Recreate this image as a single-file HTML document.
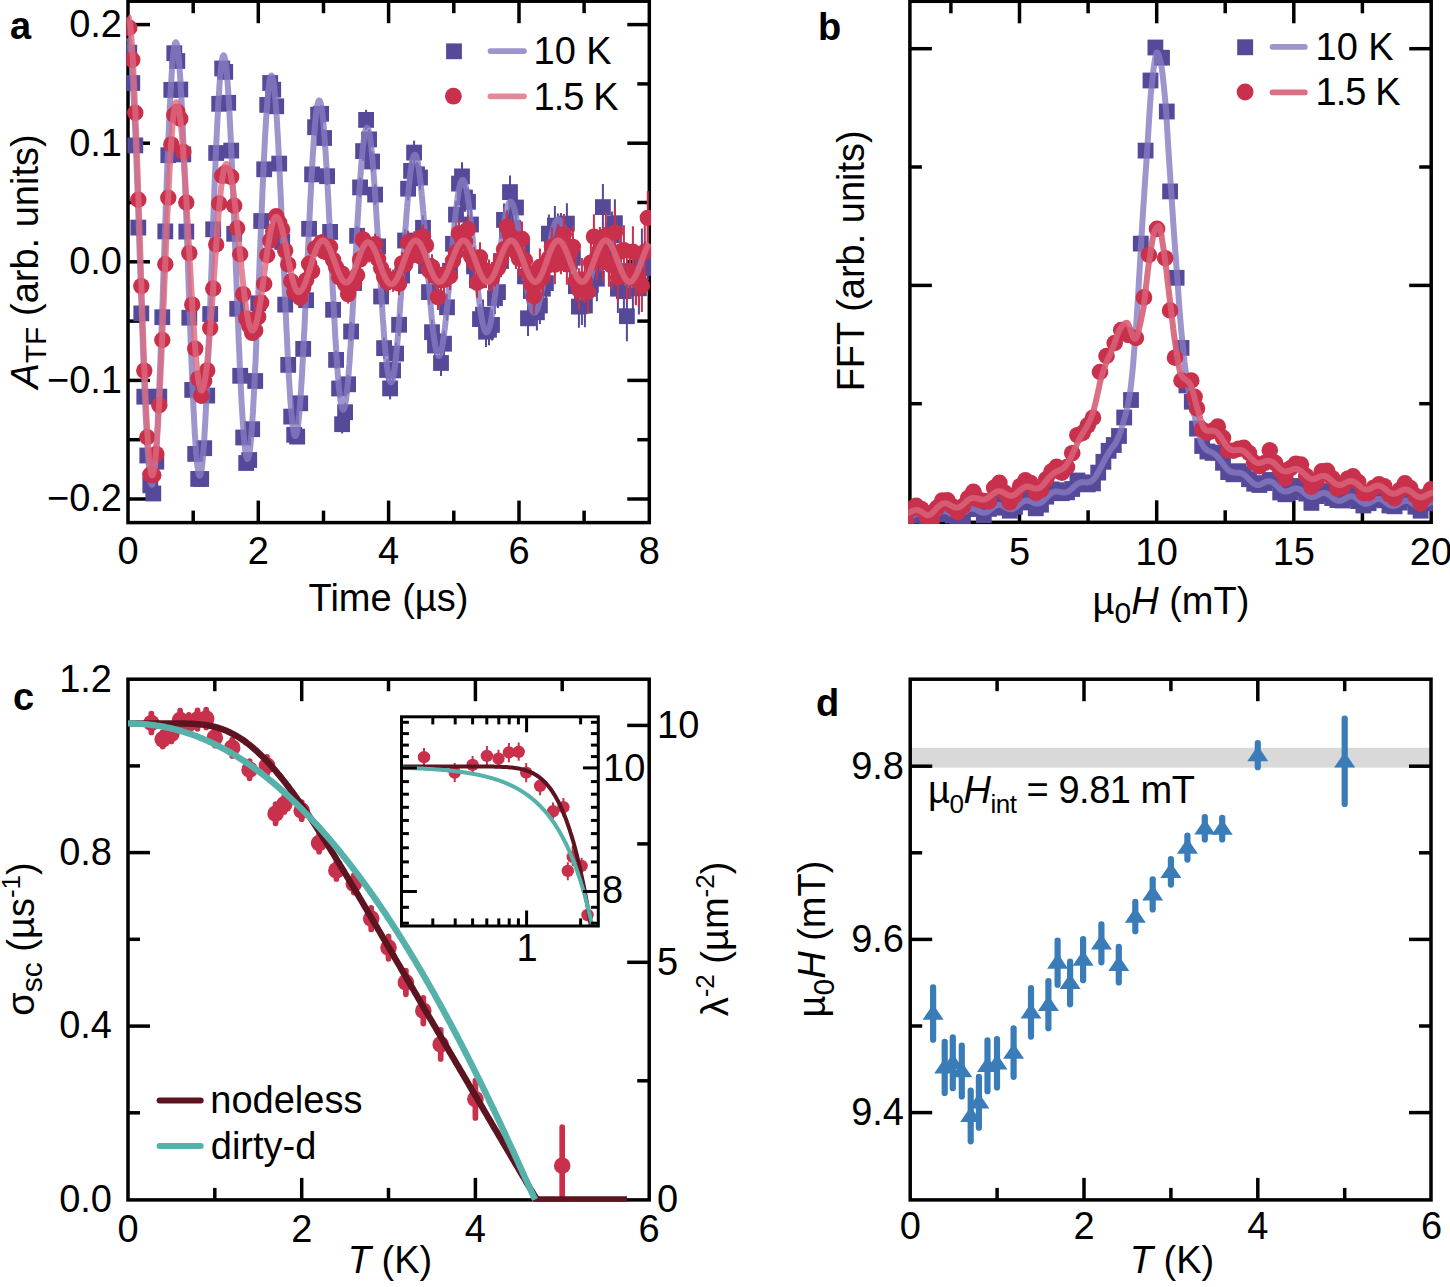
<!DOCTYPE html><html><head><meta charset="utf-8"><style>html,body{margin:0;padding:0;background:#fff;overflow:hidden}svg{display:block}</style></head><body>
<svg width="1450" height="1287" viewBox="0 0 1450 1287" style="font-family:'Liberation Sans',sans-serif">
<rect width="1450" height="1287" fill="#fff"/>
<rect x="910.2" y="747.8" width="521" height="19.8" fill="#d9d9d9"/>
<rect x="128.0" y="1.2" width="521.3" height="521.4" fill="none" stroke="#000" stroke-width="3.5"/>
<line x1="258.3" y1="522.6" x2="258.3" y2="500.6" stroke="#000" stroke-width="3.5" stroke-linecap="butt"/>
<line x1="258.3" y1="1.2" x2="258.3" y2="23.2" stroke="#000" stroke-width="3.5" stroke-linecap="butt"/>
<line x1="388.6" y1="522.6" x2="388.6" y2="500.6" stroke="#000" stroke-width="3.5" stroke-linecap="butt"/>
<line x1="388.6" y1="1.2" x2="388.6" y2="23.2" stroke="#000" stroke-width="3.5" stroke-linecap="butt"/>
<line x1="519.0" y1="522.6" x2="519.0" y2="500.6" stroke="#000" stroke-width="3.5" stroke-linecap="butt"/>
<line x1="519.0" y1="1.2" x2="519.0" y2="23.2" stroke="#000" stroke-width="3.5" stroke-linecap="butt"/>
<line x1="193.2" y1="522.6" x2="193.2" y2="510.6" stroke="#000" stroke-width="3.5" stroke-linecap="butt"/>
<line x1="193.2" y1="1.2" x2="193.2" y2="13.2" stroke="#000" stroke-width="3.5" stroke-linecap="butt"/>
<line x1="323.5" y1="522.6" x2="323.5" y2="510.6" stroke="#000" stroke-width="3.5" stroke-linecap="butt"/>
<line x1="323.5" y1="1.2" x2="323.5" y2="13.2" stroke="#000" stroke-width="3.5" stroke-linecap="butt"/>
<line x1="453.8" y1="522.6" x2="453.8" y2="510.6" stroke="#000" stroke-width="3.5" stroke-linecap="butt"/>
<line x1="453.8" y1="1.2" x2="453.8" y2="13.2" stroke="#000" stroke-width="3.5" stroke-linecap="butt"/>
<line x1="584.1" y1="522.6" x2="584.1" y2="510.6" stroke="#000" stroke-width="3.5" stroke-linecap="butt"/>
<line x1="584.1" y1="1.2" x2="584.1" y2="13.2" stroke="#000" stroke-width="3.5" stroke-linecap="butt"/>
<line x1="128.0" y1="499.0" x2="150.0" y2="499.0" stroke="#000" stroke-width="3.5" stroke-linecap="butt"/>
<line x1="649.3" y1="499.0" x2="627.3" y2="499.0" stroke="#000" stroke-width="3.5" stroke-linecap="butt"/>
<line x1="128.0" y1="380.4" x2="150.0" y2="380.4" stroke="#000" stroke-width="3.5" stroke-linecap="butt"/>
<line x1="649.3" y1="380.4" x2="627.3" y2="380.4" stroke="#000" stroke-width="3.5" stroke-linecap="butt"/>
<line x1="128.0" y1="261.8" x2="150.0" y2="261.8" stroke="#000" stroke-width="3.5" stroke-linecap="butt"/>
<line x1="649.3" y1="261.8" x2="627.3" y2="261.8" stroke="#000" stroke-width="3.5" stroke-linecap="butt"/>
<line x1="128.0" y1="143.2" x2="150.0" y2="143.2" stroke="#000" stroke-width="3.5" stroke-linecap="butt"/>
<line x1="649.3" y1="143.2" x2="627.3" y2="143.2" stroke="#000" stroke-width="3.5" stroke-linecap="butt"/>
<line x1="128.0" y1="24.6" x2="150.0" y2="24.6" stroke="#000" stroke-width="3.5" stroke-linecap="butt"/>
<line x1="649.3" y1="24.6" x2="627.3" y2="24.6" stroke="#000" stroke-width="3.5" stroke-linecap="butt"/>
<line x1="128.0" y1="439.7" x2="140.0" y2="439.7" stroke="#000" stroke-width="3.5" stroke-linecap="butt"/>
<line x1="649.3" y1="439.7" x2="637.3" y2="439.7" stroke="#000" stroke-width="3.5" stroke-linecap="butt"/>
<line x1="128.0" y1="321.1" x2="140.0" y2="321.1" stroke="#000" stroke-width="3.5" stroke-linecap="butt"/>
<line x1="649.3" y1="321.1" x2="637.3" y2="321.1" stroke="#000" stroke-width="3.5" stroke-linecap="butt"/>
<line x1="128.0" y1="202.5" x2="140.0" y2="202.5" stroke="#000" stroke-width="3.5" stroke-linecap="butt"/>
<line x1="649.3" y1="202.5" x2="637.3" y2="202.5" stroke="#000" stroke-width="3.5" stroke-linecap="butt"/>
<line x1="128.0" y1="83.9" x2="140.0" y2="83.9" stroke="#000" stroke-width="3.5" stroke-linecap="butt"/>
<line x1="649.3" y1="83.9" x2="637.3" y2="83.9" stroke="#000" stroke-width="3.5" stroke-linecap="butt"/>
<rect x="909.9" y="1.3" width="521.3" height="521.0" fill="none" stroke="#000" stroke-width="3.5"/>
<line x1="1019.5" y1="522.3" x2="1019.5" y2="500.3" stroke="#000" stroke-width="3.5" stroke-linecap="butt"/>
<line x1="1019.5" y1="1.3" x2="1019.5" y2="23.3" stroke="#000" stroke-width="3.5" stroke-linecap="butt"/>
<line x1="1156.7" y1="522.3" x2="1156.7" y2="500.3" stroke="#000" stroke-width="3.5" stroke-linecap="butt"/>
<line x1="1156.7" y1="1.3" x2="1156.7" y2="23.3" stroke="#000" stroke-width="3.5" stroke-linecap="butt"/>
<line x1="1293.8" y1="522.3" x2="1293.8" y2="500.3" stroke="#000" stroke-width="3.5" stroke-linecap="butt"/>
<line x1="1293.8" y1="1.3" x2="1293.8" y2="23.3" stroke="#000" stroke-width="3.5" stroke-linecap="butt"/>
<line x1="950.9" y1="522.3" x2="950.9" y2="510.3" stroke="#000" stroke-width="3.5" stroke-linecap="butt"/>
<line x1="950.9" y1="1.3" x2="950.9" y2="13.3" stroke="#000" stroke-width="3.5" stroke-linecap="butt"/>
<line x1="1088.1" y1="522.3" x2="1088.1" y2="510.3" stroke="#000" stroke-width="3.5" stroke-linecap="butt"/>
<line x1="1088.1" y1="1.3" x2="1088.1" y2="13.3" stroke="#000" stroke-width="3.5" stroke-linecap="butt"/>
<line x1="1225.2" y1="522.3" x2="1225.2" y2="510.3" stroke="#000" stroke-width="3.5" stroke-linecap="butt"/>
<line x1="1225.2" y1="1.3" x2="1225.2" y2="13.3" stroke="#000" stroke-width="3.5" stroke-linecap="butt"/>
<line x1="1362.4" y1="522.3" x2="1362.4" y2="510.3" stroke="#000" stroke-width="3.5" stroke-linecap="butt"/>
<line x1="1362.4" y1="1.3" x2="1362.4" y2="13.3" stroke="#000" stroke-width="3.5" stroke-linecap="butt"/>
<line x1="909.9" y1="48.7" x2="931.9" y2="48.7" stroke="#000" stroke-width="3.5" stroke-linecap="butt"/>
<line x1="1431.2" y1="48.7" x2="1409.2" y2="48.7" stroke="#000" stroke-width="3.5" stroke-linecap="butt"/>
<line x1="909.9" y1="285.4" x2="931.9" y2="285.4" stroke="#000" stroke-width="3.5" stroke-linecap="butt"/>
<line x1="1431.2" y1="285.4" x2="1409.2" y2="285.4" stroke="#000" stroke-width="3.5" stroke-linecap="butt"/>
<line x1="909.9" y1="167.0" x2="921.9" y2="167.0" stroke="#000" stroke-width="3.5" stroke-linecap="butt"/>
<line x1="1431.2" y1="167.0" x2="1419.2" y2="167.0" stroke="#000" stroke-width="3.5" stroke-linecap="butt"/>
<line x1="909.9" y1="403.7" x2="921.9" y2="403.7" stroke="#000" stroke-width="3.5" stroke-linecap="butt"/>
<line x1="1431.2" y1="403.7" x2="1419.2" y2="403.7" stroke="#000" stroke-width="3.5" stroke-linecap="butt"/>
<rect x="128.0" y="679.2" width="521.2" height="520.7" fill="none" stroke="#000" stroke-width="3.5"/>
<line x1="301.7" y1="1199.9" x2="301.7" y2="1177.9" stroke="#000" stroke-width="3.5" stroke-linecap="butt"/>
<line x1="301.7" y1="679.2" x2="301.7" y2="701.2" stroke="#000" stroke-width="3.5" stroke-linecap="butt"/>
<line x1="475.4" y1="1199.9" x2="475.4" y2="1177.9" stroke="#000" stroke-width="3.5" stroke-linecap="butt"/>
<line x1="475.4" y1="679.2" x2="475.4" y2="701.2" stroke="#000" stroke-width="3.5" stroke-linecap="butt"/>
<line x1="214.8" y1="1199.9" x2="214.8" y2="1187.9" stroke="#000" stroke-width="3.5" stroke-linecap="butt"/>
<line x1="214.8" y1="679.2" x2="214.8" y2="691.2" stroke="#000" stroke-width="3.5" stroke-linecap="butt"/>
<line x1="388.5" y1="1199.9" x2="388.5" y2="1187.9" stroke="#000" stroke-width="3.5" stroke-linecap="butt"/>
<line x1="388.5" y1="679.2" x2="388.5" y2="691.2" stroke="#000" stroke-width="3.5" stroke-linecap="butt"/>
<line x1="562.2" y1="1199.9" x2="562.2" y2="1187.9" stroke="#000" stroke-width="3.5" stroke-linecap="butt"/>
<line x1="562.2" y1="679.2" x2="562.2" y2="691.2" stroke="#000" stroke-width="3.5" stroke-linecap="butt"/>
<line x1="128.0" y1="1026.1" x2="150.0" y2="1026.1" stroke="#000" stroke-width="3.5" stroke-linecap="butt"/>
<line x1="128.0" y1="852.6" x2="150.0" y2="852.6" stroke="#000" stroke-width="3.5" stroke-linecap="butt"/>
<line x1="128.0" y1="1112.8" x2="140.0" y2="1112.8" stroke="#000" stroke-width="3.5" stroke-linecap="butt"/>
<line x1="128.0" y1="939.3" x2="140.0" y2="939.3" stroke="#000" stroke-width="3.5" stroke-linecap="butt"/>
<line x1="128.0" y1="765.9" x2="140.0" y2="765.9" stroke="#000" stroke-width="3.5" stroke-linecap="butt"/>
<line x1="649.2" y1="962.3" x2="627.2" y2="962.3" stroke="#000" stroke-width="3.5" stroke-linecap="butt"/>
<line x1="649.2" y1="725.4" x2="627.2" y2="725.4" stroke="#000" stroke-width="3.5" stroke-linecap="butt"/>
<line x1="649.2" y1="1080.8" x2="637.2" y2="1080.8" stroke="#000" stroke-width="3.5" stroke-linecap="butt"/>
<line x1="649.2" y1="843.9" x2="637.2" y2="843.9" stroke="#000" stroke-width="3.5" stroke-linecap="butt"/>
<rect x="910.2" y="679.2" width="520.8" height="520.7" fill="none" stroke="#000" stroke-width="3.5"/>
<line x1="1084.0" y1="1199.9" x2="1084.0" y2="1177.9" stroke="#000" stroke-width="3.5" stroke-linecap="butt"/>
<line x1="1084.0" y1="679.2" x2="1084.0" y2="701.2" stroke="#000" stroke-width="3.5" stroke-linecap="butt"/>
<line x1="1257.8" y1="1199.9" x2="1257.8" y2="1177.9" stroke="#000" stroke-width="3.5" stroke-linecap="butt"/>
<line x1="1257.8" y1="679.2" x2="1257.8" y2="701.2" stroke="#000" stroke-width="3.5" stroke-linecap="butt"/>
<line x1="997.1" y1="1199.9" x2="997.1" y2="1187.9" stroke="#000" stroke-width="3.5" stroke-linecap="butt"/>
<line x1="997.1" y1="679.2" x2="997.1" y2="691.2" stroke="#000" stroke-width="3.5" stroke-linecap="butt"/>
<line x1="1170.9" y1="1199.9" x2="1170.9" y2="1187.9" stroke="#000" stroke-width="3.5" stroke-linecap="butt"/>
<line x1="1170.9" y1="679.2" x2="1170.9" y2="691.2" stroke="#000" stroke-width="3.5" stroke-linecap="butt"/>
<line x1="1344.7" y1="1199.9" x2="1344.7" y2="1187.9" stroke="#000" stroke-width="3.5" stroke-linecap="butt"/>
<line x1="1344.7" y1="679.2" x2="1344.7" y2="691.2" stroke="#000" stroke-width="3.5" stroke-linecap="butt"/>
<line x1="910.2" y1="1112.6" x2="932.2" y2="1112.6" stroke="#000" stroke-width="3.5" stroke-linecap="butt"/>
<line x1="1431.0" y1="1112.6" x2="1409.0" y2="1112.6" stroke="#000" stroke-width="3.5" stroke-linecap="butt"/>
<line x1="910.2" y1="939.4" x2="932.2" y2="939.4" stroke="#000" stroke-width="3.5" stroke-linecap="butt"/>
<line x1="1431.0" y1="939.4" x2="1409.0" y2="939.4" stroke="#000" stroke-width="3.5" stroke-linecap="butt"/>
<line x1="910.2" y1="766.2" x2="932.2" y2="766.2" stroke="#000" stroke-width="3.5" stroke-linecap="butt"/>
<line x1="1431.0" y1="766.2" x2="1409.0" y2="766.2" stroke="#000" stroke-width="3.5" stroke-linecap="butt"/>
<line x1="910.2" y1="1026.0" x2="922.2" y2="1026.0" stroke="#000" stroke-width="3.5" stroke-linecap="butt"/>
<line x1="1431.0" y1="1026.0" x2="1419.0" y2="1026.0" stroke="#000" stroke-width="3.5" stroke-linecap="butt"/>
<line x1="910.2" y1="852.8" x2="922.2" y2="852.8" stroke="#000" stroke-width="3.5" stroke-linecap="butt"/>
<line x1="1431.0" y1="852.8" x2="1419.0" y2="852.8" stroke="#000" stroke-width="3.5" stroke-linecap="butt"/>
<defs>
<clipPath id="ca"><rect x="126.25" y="-0.55" width="524.80" height="524.90"/></clipPath>
<clipPath id="cb"><rect x="908.15" y="-0.45" width="524.80" height="524.50"/></clipPath>
<clipPath id="cc"><rect x="126.25" y="677.45" width="524.70" height="524.20"/></clipPath>
<clipPath id="cd"><rect x="908.45" y="677.45" width="524.30" height="524.20"/></clipPath>
<clipPath id="ci"><rect x="401.5" y="716.8" width="196.8" height="209.2"/></clipPath>
</defs>
<g clip-path="url(#ca)">
<rect x="121.4" y="44.8" width="15.8" height="15.8" fill="#55499a"/><rect x="124.4" y="75.1" width="15.8" height="15.8" fill="#55499a"/><rect x="127.4" y="137.5" width="15.8" height="15.8" fill="#55499a"/><rect x="130.4" y="219.7" width="15.8" height="15.8" fill="#55499a"/><rect x="133.4" y="305.5" width="15.8" height="15.8" fill="#55499a"/><rect x="136.4" y="388.8" width="15.8" height="15.8" fill="#55499a"/><rect x="139.4" y="447.6" width="15.8" height="15.8" fill="#55499a"/><rect x="142.4" y="477.4" width="15.8" height="15.8" fill="#55499a"/><rect x="145.4" y="485.6" width="15.8" height="15.8" fill="#55499a"/><rect x="148.4" y="453.8" width="15.8" height="15.8" fill="#55499a"/><rect x="151.4" y="388.7" width="15.8" height="15.8" fill="#55499a"/><rect x="154.4" y="309.3" width="15.8" height="15.8" fill="#55499a"/><rect x="157.4" y="223.5" width="15.8" height="15.8" fill="#55499a"/><rect x="160.4" y="147.3" width="15.8" height="15.8" fill="#55499a"/><rect x="163.4" y="82.0" width="15.8" height="15.8" fill="#55499a"/><rect x="166.4" y="45.3" width="15.8" height="15.8" fill="#55499a"/><rect x="169.4" y="53.1" width="15.8" height="15.8" fill="#55499a"/><rect x="172.4" y="81.6" width="15.8" height="15.8" fill="#55499a"/><rect x="175.4" y="146.5" width="15.8" height="15.8" fill="#55499a"/><rect x="178.4" y="223.7" width="15.8" height="15.8" fill="#55499a"/><rect x="181.4" y="309.8" width="15.8" height="15.8" fill="#55499a"/><rect x="184.3" y="382.0" width="15.8" height="15.8" fill="#55499a"/><rect x="187.3" y="446.0" width="15.8" height="15.8" fill="#55499a"/><rect x="190.3" y="471.0" width="15.8" height="15.8" fill="#55499a"/><rect x="193.3" y="471.1" width="15.8" height="15.8" fill="#55499a"/><rect x="196.3" y="440.3" width="15.8" height="15.8" fill="#55499a"/><rect x="199.3" y="387.7" width="15.8" height="15.8" fill="#55499a"/><rect x="202.3" y="306.1" width="15.8" height="15.8" fill="#55499a"/><rect x="205.3" y="221.4" width="15.8" height="15.8" fill="#55499a"/><rect x="208.3" y="145.1" width="15.8" height="15.8" fill="#55499a"/><rect x="211.3" y="95.9" width="15.8" height="15.8" fill="#55499a"/><rect x="214.3" y="60.6" width="15.8" height="15.8" fill="#55499a"/><rect x="217.3" y="64.0" width="15.8" height="15.8" fill="#55499a"/><rect x="220.3" y="94.9" width="15.8" height="15.8" fill="#55499a"/><rect x="223.3" y="142.7" width="15.8" height="15.8" fill="#55499a"/><rect x="226.3" y="225.9" width="15.8" height="15.8" fill="#55499a"/><rect x="229.3" y="300.9" width="15.8" height="15.8" fill="#55499a"/><rect x="232.3" y="367.9" width="15.8" height="15.8" fill="#55499a"/><rect x="235.3" y="429.6" width="15.8" height="15.8" fill="#55499a"/><rect x="238.3" y="455.1" width="15.8" height="15.8" fill="#55499a"/><rect x="241.3" y="452.1" width="15.8" height="15.8" fill="#55499a"/><rect x="244.3" y="421.3" width="15.8" height="15.8" fill="#55499a"/><rect x="247.3" y="373.1" width="15.8" height="15.8" fill="#55499a"/><rect x="250.3" y="295.4" width="15.8" height="15.8" fill="#55499a"/><rect x="253.3" y="213.1" width="15.8" height="15.8" fill="#55499a"/><rect x="256.3" y="161.4" width="15.8" height="15.8" fill="#55499a"/><rect x="259.3" y="97.0" width="15.8" height="15.8" fill="#55499a"/><rect x="262.3" y="75.1" width="15.8" height="15.8" fill="#55499a"/><rect x="265.3" y="81.8" width="15.8" height="15.8" fill="#55499a"/><rect x="268.3" y="98.4" width="15.8" height="15.8" fill="#55499a"/><rect x="271.3" y="155.7" width="15.8" height="15.8" fill="#55499a"/><rect x="274.3" y="234.0" width="15.8" height="15.8" fill="#55499a"/><rect x="277.3" y="296.7" width="15.8" height="15.8" fill="#55499a"/><rect x="280.3" y="357.0" width="15.8" height="15.8" fill="#55499a"/><rect x="283.3" y="408.7" width="15.8" height="15.8" fill="#55499a"/><rect x="286.3" y="426.9" width="15.8" height="15.8" fill="#55499a"/><rect x="289.3" y="428.7" width="15.8" height="15.8" fill="#55499a"/><line x1="300.2" y1="395.3" x2="300.2" y2="411.3" stroke="#55499a" stroke-width="2"/><rect x="292.3" y="395.4" width="15.8" height="15.8" fill="#55499a"/><line x1="303.2" y1="340.8" x2="303.2" y2="357.0" stroke="#55499a" stroke-width="2"/><rect x="295.3" y="341.0" width="15.8" height="15.8" fill="#55499a"/><line x1="306.1" y1="292.0" x2="306.1" y2="308.4" stroke="#55499a" stroke-width="2"/><rect x="298.2" y="292.3" width="15.8" height="15.8" fill="#55499a"/><line x1="309.1" y1="220.6" x2="309.1" y2="237.1" stroke="#55499a" stroke-width="2"/><rect x="301.2" y="220.9" width="15.8" height="15.8" fill="#55499a"/><line x1="312.1" y1="166.1" x2="312.1" y2="182.8" stroke="#55499a" stroke-width="2"/><rect x="304.2" y="166.5" width="15.8" height="15.8" fill="#55499a"/><line x1="315.1" y1="118.8" x2="315.1" y2="135.6" stroke="#55499a" stroke-width="2"/><rect x="307.2" y="119.3" width="15.8" height="15.8" fill="#55499a"/><line x1="318.1" y1="106.2" x2="318.1" y2="123.2" stroke="#55499a" stroke-width="2"/><rect x="310.2" y="106.8" width="15.8" height="15.8" fill="#55499a"/><line x1="321.1" y1="105.2" x2="321.1" y2="122.4" stroke="#55499a" stroke-width="2"/><rect x="313.2" y="105.9" width="15.8" height="15.8" fill="#55499a"/><line x1="324.1" y1="129.3" x2="324.1" y2="146.7" stroke="#55499a" stroke-width="2"/><rect x="316.2" y="130.1" width="15.8" height="15.8" fill="#55499a"/><line x1="327.1" y1="167.3" x2="327.1" y2="185.0" stroke="#55499a" stroke-width="2"/><rect x="319.2" y="168.3" width="15.8" height="15.8" fill="#55499a"/><line x1="330.1" y1="223.0" x2="330.1" y2="240.8" stroke="#55499a" stroke-width="2"/><rect x="322.2" y="224.0" width="15.8" height="15.8" fill="#55499a"/><line x1="333.1" y1="300.9" x2="333.1" y2="318.8" stroke="#55499a" stroke-width="2"/><rect x="325.2" y="301.9" width="15.8" height="15.8" fill="#55499a"/><line x1="336.1" y1="350.8" x2="336.1" y2="368.9" stroke="#55499a" stroke-width="2"/><rect x="328.2" y="352.0" width="15.8" height="15.8" fill="#55499a"/><line x1="339.1" y1="379.4" x2="339.1" y2="397.7" stroke="#55499a" stroke-width="2"/><rect x="331.2" y="380.6" width="15.8" height="15.8" fill="#55499a"/><line x1="342.1" y1="414.9" x2="342.1" y2="433.5" stroke="#55499a" stroke-width="2"/><rect x="334.2" y="416.3" width="15.8" height="15.8" fill="#55499a"/><line x1="345.1" y1="402.8" x2="345.1" y2="421.6" stroke="#55499a" stroke-width="2"/><rect x="337.2" y="404.3" width="15.8" height="15.8" fill="#55499a"/><line x1="348.1" y1="374.8" x2="348.1" y2="393.8" stroke="#55499a" stroke-width="2"/><rect x="340.2" y="376.4" width="15.8" height="15.8" fill="#55499a"/><line x1="351.1" y1="322.0" x2="351.1" y2="341.1" stroke="#55499a" stroke-width="2"/><rect x="343.2" y="323.6" width="15.8" height="15.8" fill="#55499a"/><line x1="354.1" y1="273.3" x2="354.1" y2="292.6" stroke="#55499a" stroke-width="2"/><rect x="346.2" y="275.1" width="15.8" height="15.8" fill="#55499a"/><line x1="357.1" y1="226.1" x2="357.1" y2="245.6" stroke="#55499a" stroke-width="2"/><rect x="349.2" y="227.9" width="15.8" height="15.8" fill="#55499a"/><line x1="360.1" y1="177.5" x2="360.1" y2="197.3" stroke="#55499a" stroke-width="2"/><rect x="352.2" y="179.5" width="15.8" height="15.8" fill="#55499a"/><line x1="363.1" y1="141.1" x2="363.1" y2="161.1" stroke="#55499a" stroke-width="2"/><rect x="355.2" y="143.2" width="15.8" height="15.8" fill="#55499a"/><line x1="366.1" y1="109.8" x2="366.1" y2="130.0" stroke="#55499a" stroke-width="2"/><rect x="358.2" y="112.0" width="15.8" height="15.8" fill="#55499a"/><line x1="369.1" y1="129.2" x2="369.1" y2="149.6" stroke="#55499a" stroke-width="2"/><rect x="361.2" y="131.5" width="15.8" height="15.8" fill="#55499a"/><line x1="372.1" y1="151.2" x2="372.1" y2="171.8" stroke="#55499a" stroke-width="2"/><rect x="364.2" y="153.6" width="15.8" height="15.8" fill="#55499a"/><line x1="375.1" y1="184.2" x2="375.1" y2="205.0" stroke="#55499a" stroke-width="2"/><rect x="367.2" y="186.7" width="15.8" height="15.8" fill="#55499a"/><line x1="378.1" y1="235.8" x2="378.1" y2="256.9" stroke="#55499a" stroke-width="2"/><rect x="370.2" y="238.5" width="15.8" height="15.8" fill="#55499a"/><line x1="381.1" y1="285.9" x2="381.1" y2="307.2" stroke="#55499a" stroke-width="2"/><rect x="373.2" y="288.6" width="15.8" height="15.8" fill="#55499a"/><line x1="384.1" y1="337.3" x2="384.1" y2="358.8" stroke="#55499a" stroke-width="2"/><rect x="376.2" y="340.2" width="15.8" height="15.8" fill="#55499a"/><line x1="387.1" y1="359.1" x2="387.1" y2="380.8" stroke="#55499a" stroke-width="2"/><rect x="379.2" y="362.1" width="15.8" height="15.8" fill="#55499a"/><line x1="390.1" y1="377.5" x2="390.1" y2="399.4" stroke="#55499a" stroke-width="2"/><rect x="382.2" y="380.5" width="15.8" height="15.8" fill="#55499a"/><line x1="393.1" y1="359.3" x2="393.1" y2="381.5" stroke="#55499a" stroke-width="2"/><rect x="385.2" y="362.5" width="15.8" height="15.8" fill="#55499a"/><line x1="396.1" y1="342.4" x2="396.1" y2="364.8" stroke="#55499a" stroke-width="2"/><rect x="388.2" y="345.7" width="15.8" height="15.8" fill="#55499a"/><line x1="399.1" y1="313.5" x2="399.1" y2="336.1" stroke="#55499a" stroke-width="2"/><rect x="391.2" y="316.9" width="15.8" height="15.8" fill="#55499a"/><line x1="402.1" y1="264.1" x2="402.1" y2="287.0" stroke="#55499a" stroke-width="2"/><rect x="394.2" y="267.6" width="15.8" height="15.8" fill="#55499a"/><line x1="405.1" y1="229.0" x2="405.1" y2="252.1" stroke="#55499a" stroke-width="2"/><rect x="397.2" y="232.6" width="15.8" height="15.8" fill="#55499a"/><line x1="408.1" y1="177.0" x2="408.1" y2="200.4" stroke="#55499a" stroke-width="2"/><rect x="400.2" y="180.8" width="15.8" height="15.8" fill="#55499a"/><line x1="411.1" y1="159.1" x2="411.1" y2="182.7" stroke="#55499a" stroke-width="2"/><rect x="403.2" y="163.0" width="15.8" height="15.8" fill="#55499a"/><line x1="414.1" y1="140.6" x2="414.1" y2="164.5" stroke="#55499a" stroke-width="2"/><rect x="406.2" y="144.7" width="15.8" height="15.8" fill="#55499a"/><line x1="417.0" y1="162.2" x2="417.0" y2="186.3" stroke="#55499a" stroke-width="2"/><rect x="409.1" y="166.4" width="15.8" height="15.8" fill="#55499a"/><line x1="420.0" y1="165.4" x2="420.0" y2="189.7" stroke="#55499a" stroke-width="2"/><rect x="412.1" y="169.6" width="15.8" height="15.8" fill="#55499a"/><line x1="423.0" y1="215.5" x2="423.0" y2="240.1" stroke="#55499a" stroke-width="2"/><rect x="415.1" y="219.9" width="15.8" height="15.8" fill="#55499a"/><line x1="426.0" y1="253.5" x2="426.0" y2="278.4" stroke="#55499a" stroke-width="2"/><rect x="418.1" y="258.1" width="15.8" height="15.8" fill="#55499a"/><line x1="429.0" y1="279.5" x2="429.0" y2="304.7" stroke="#55499a" stroke-width="2"/><rect x="421.1" y="284.2" width="15.8" height="15.8" fill="#55499a"/><line x1="432.0" y1="319.5" x2="432.0" y2="344.9" stroke="#55499a" stroke-width="2"/><rect x="424.1" y="324.3" width="15.8" height="15.8" fill="#55499a"/><line x1="435.0" y1="332.6" x2="435.0" y2="358.3" stroke="#55499a" stroke-width="2"/><rect x="427.1" y="337.6" width="15.8" height="15.8" fill="#55499a"/><line x1="438.0" y1="328.4" x2="438.0" y2="354.3" stroke="#55499a" stroke-width="2"/><rect x="430.1" y="333.4" width="15.8" height="15.8" fill="#55499a"/><line x1="441.0" y1="349.8" x2="441.0" y2="376.1" stroke="#55499a" stroke-width="2"/><rect x="433.1" y="355.1" width="15.8" height="15.8" fill="#55499a"/><line x1="444.0" y1="330.5" x2="444.0" y2="356.9" stroke="#55499a" stroke-width="2"/><rect x="436.1" y="335.8" width="15.8" height="15.8" fill="#55499a"/><line x1="447.0" y1="293.9" x2="447.0" y2="320.7" stroke="#55499a" stroke-width="2"/><rect x="439.1" y="299.4" width="15.8" height="15.8" fill="#55499a"/><line x1="450.0" y1="257.2" x2="450.0" y2="284.2" stroke="#55499a" stroke-width="2"/><rect x="442.1" y="262.8" width="15.8" height="15.8" fill="#55499a"/><line x1="453.0" y1="230.2" x2="453.0" y2="257.5" stroke="#55499a" stroke-width="2"/><rect x="445.1" y="235.9" width="15.8" height="15.8" fill="#55499a"/><line x1="456.0" y1="200.7" x2="456.0" y2="228.4" stroke="#55499a" stroke-width="2"/><rect x="448.1" y="206.7" width="15.8" height="15.8" fill="#55499a"/><line x1="459.0" y1="169.7" x2="459.0" y2="197.6" stroke="#55499a" stroke-width="2"/><rect x="451.1" y="175.7" width="15.8" height="15.8" fill="#55499a"/><line x1="462.0" y1="162.3" x2="462.0" y2="190.5" stroke="#55499a" stroke-width="2"/><rect x="454.1" y="168.5" width="15.8" height="15.8" fill="#55499a"/><line x1="465.0" y1="183.3" x2="465.0" y2="211.8" stroke="#55499a" stroke-width="2"/><rect x="457.1" y="189.6" width="15.8" height="15.8" fill="#55499a"/><line x1="468.0" y1="187.4" x2="468.0" y2="216.2" stroke="#55499a" stroke-width="2"/><rect x="460.1" y="193.9" width="15.8" height="15.8" fill="#55499a"/><line x1="471.0" y1="209.9" x2="471.0" y2="239.0" stroke="#55499a" stroke-width="2"/><rect x="463.1" y="216.6" width="15.8" height="15.8" fill="#55499a"/><line x1="474.0" y1="251.6" x2="474.0" y2="281.1" stroke="#55499a" stroke-width="2"/><rect x="466.1" y="258.5" width="15.8" height="15.8" fill="#55499a"/><line x1="477.0" y1="265.5" x2="477.0" y2="295.2" stroke="#55499a" stroke-width="2"/><rect x="469.1" y="272.4" width="15.8" height="15.8" fill="#55499a"/><line x1="480.0" y1="304.1" x2="480.0" y2="334.2" stroke="#55499a" stroke-width="2"/><rect x="472.1" y="311.2" width="15.8" height="15.8" fill="#55499a"/><line x1="483.0" y1="299.5" x2="483.0" y2="329.9" stroke="#55499a" stroke-width="2"/><rect x="475.1" y="306.8" width="15.8" height="15.8" fill="#55499a"/><line x1="486.0" y1="316.4" x2="486.0" y2="347.1" stroke="#55499a" stroke-width="2"/><rect x="478.1" y="323.8" width="15.8" height="15.8" fill="#55499a"/><line x1="489.0" y1="314.2" x2="489.0" y2="345.2" stroke="#55499a" stroke-width="2"/><rect x="481.1" y="321.8" width="15.8" height="15.8" fill="#55499a"/><line x1="492.0" y1="309.3" x2="492.0" y2="340.6" stroke="#55499a" stroke-width="2"/><rect x="484.1" y="317.0" width="15.8" height="15.8" fill="#55499a"/><line x1="495.0" y1="282.3" x2="495.0" y2="314.0" stroke="#55499a" stroke-width="2"/><rect x="487.1" y="290.3" width="15.8" height="15.8" fill="#55499a"/><line x1="498.0" y1="276.1" x2="498.0" y2="308.1" stroke="#55499a" stroke-width="2"/><rect x="490.1" y="284.2" width="15.8" height="15.8" fill="#55499a"/><line x1="501.0" y1="244.8" x2="501.0" y2="277.2" stroke="#55499a" stroke-width="2"/><rect x="493.1" y="253.1" width="15.8" height="15.8" fill="#55499a"/><line x1="504.0" y1="203.6" x2="504.0" y2="236.3" stroke="#55499a" stroke-width="2"/><rect x="496.1" y="212.0" width="15.8" height="15.8" fill="#55499a"/><line x1="507.0" y1="214.3" x2="507.0" y2="247.3" stroke="#55499a" stroke-width="2"/><rect x="499.1" y="222.9" width="15.8" height="15.8" fill="#55499a"/><line x1="510.0" y1="175.4" x2="510.0" y2="208.8" stroke="#55499a" stroke-width="2"/><rect x="502.1" y="184.2" width="15.8" height="15.8" fill="#55499a"/><line x1="513.0" y1="211.1" x2="513.0" y2="244.8" stroke="#55499a" stroke-width="2"/><rect x="505.1" y="220.0" width="15.8" height="15.8" fill="#55499a"/><line x1="516.0" y1="190.5" x2="516.0" y2="224.5" stroke="#55499a" stroke-width="2"/><rect x="508.1" y="199.6" width="15.8" height="15.8" fill="#55499a"/><line x1="519.0" y1="230.1" x2="519.0" y2="264.5" stroke="#55499a" stroke-width="2"/><rect x="511.1" y="239.4" width="15.8" height="15.8" fill="#55499a"/><line x1="522.0" y1="228.7" x2="522.0" y2="263.5" stroke="#55499a" stroke-width="2"/><rect x="514.1" y="238.2" width="15.8" height="15.8" fill="#55499a"/><line x1="525.0" y1="258.8" x2="525.0" y2="294.0" stroke="#55499a" stroke-width="2"/><rect x="517.1" y="268.5" width="15.8" height="15.8" fill="#55499a"/><line x1="528.0" y1="300.6" x2="528.0" y2="336.1" stroke="#55499a" stroke-width="2"/><rect x="520.1" y="310.4" width="15.8" height="15.8" fill="#55499a"/><line x1="530.9" y1="273.1" x2="530.9" y2="309.0" stroke="#55499a" stroke-width="2"/><rect x="523.0" y="283.1" width="15.8" height="15.8" fill="#55499a"/><line x1="533.9" y1="275.0" x2="533.9" y2="311.3" stroke="#55499a" stroke-width="2"/><rect x="526.0" y="285.2" width="15.8" height="15.8" fill="#55499a"/><line x1="536.9" y1="293.9" x2="536.9" y2="330.6" stroke="#55499a" stroke-width="2"/><rect x="529.0" y="304.4" width="15.8" height="15.8" fill="#55499a"/><line x1="539.9" y1="287.0" x2="539.9" y2="324.0" stroke="#55499a" stroke-width="2"/><rect x="532.0" y="297.6" width="15.8" height="15.8" fill="#55499a"/><line x1="542.9" y1="270.0" x2="542.9" y2="307.4" stroke="#55499a" stroke-width="2"/><rect x="535.0" y="280.8" width="15.8" height="15.8" fill="#55499a"/><line x1="545.9" y1="264.2" x2="545.9" y2="302.0" stroke="#55499a" stroke-width="2"/><rect x="538.0" y="275.2" width="15.8" height="15.8" fill="#55499a"/><line x1="548.9" y1="214.5" x2="548.9" y2="252.7" stroke="#55499a" stroke-width="2"/><rect x="541.0" y="225.7" width="15.8" height="15.8" fill="#55499a"/><line x1="551.9" y1="224.2" x2="551.9" y2="262.9" stroke="#55499a" stroke-width="2"/><rect x="544.0" y="235.7" width="15.8" height="15.8" fill="#55499a"/><line x1="554.9" y1="206.1" x2="554.9" y2="245.1" stroke="#55499a" stroke-width="2"/><rect x="547.0" y="217.7" width="15.8" height="15.8" fill="#55499a"/><line x1="557.9" y1="213.5" x2="557.9" y2="252.9" stroke="#55499a" stroke-width="2"/><rect x="550.0" y="225.3" width="15.8" height="15.8" fill="#55499a"/><line x1="560.9" y1="213.1" x2="560.9" y2="253.0" stroke="#55499a" stroke-width="2"/><rect x="553.0" y="225.2" width="15.8" height="15.8" fill="#55499a"/><line x1="563.9" y1="231.8" x2="563.9" y2="272.1" stroke="#55499a" stroke-width="2"/><rect x="556.0" y="244.1" width="15.8" height="15.8" fill="#55499a"/><line x1="566.9" y1="203.3" x2="566.9" y2="244.0" stroke="#55499a" stroke-width="2"/><rect x="559.0" y="215.7" width="15.8" height="15.8" fill="#55499a"/><line x1="569.9" y1="241.0" x2="569.9" y2="282.1" stroke="#55499a" stroke-width="2"/><rect x="562.0" y="253.6" width="15.8" height="15.8" fill="#55499a"/><line x1="572.9" y1="237.0" x2="572.9" y2="278.6" stroke="#55499a" stroke-width="2"/><rect x="565.0" y="249.9" width="15.8" height="15.8" fill="#55499a"/><line x1="575.9" y1="265.2" x2="575.9" y2="307.2" stroke="#55499a" stroke-width="2"/><rect x="568.0" y="278.3" width="15.8" height="15.8" fill="#55499a"/><line x1="578.9" y1="285.4" x2="578.9" y2="327.8" stroke="#55499a" stroke-width="2"/><rect x="571.0" y="298.7" width="15.8" height="15.8" fill="#55499a"/><line x1="581.9" y1="282.2" x2="581.9" y2="325.1" stroke="#55499a" stroke-width="2"/><rect x="574.0" y="295.8" width="15.8" height="15.8" fill="#55499a"/><line x1="584.9" y1="284.0" x2="584.9" y2="327.3" stroke="#55499a" stroke-width="2"/><rect x="577.0" y="297.7" width="15.8" height="15.8" fill="#55499a"/><line x1="587.9" y1="266.9" x2="587.9" y2="310.7" stroke="#55499a" stroke-width="2"/><rect x="580.0" y="280.9" width="15.8" height="15.8" fill="#55499a"/><line x1="590.9" y1="262.9" x2="590.9" y2="307.1" stroke="#55499a" stroke-width="2"/><rect x="583.0" y="277.1" width="15.8" height="15.8" fill="#55499a"/><line x1="593.9" y1="249.0" x2="593.9" y2="293.7" stroke="#55499a" stroke-width="2"/><rect x="586.0" y="263.5" width="15.8" height="15.8" fill="#55499a"/><line x1="596.9" y1="256.1" x2="596.9" y2="301.3" stroke="#55499a" stroke-width="2"/><rect x="589.0" y="270.8" width="15.8" height="15.8" fill="#55499a"/><line x1="599.9" y1="235.4" x2="599.9" y2="281.1" stroke="#55499a" stroke-width="2"/><rect x="592.0" y="250.4" width="15.8" height="15.8" fill="#55499a"/><line x1="602.9" y1="184.0" x2="602.9" y2="230.2" stroke="#55499a" stroke-width="2"/><rect x="595.0" y="199.2" width="15.8" height="15.8" fill="#55499a"/><line x1="605.9" y1="223.3" x2="605.9" y2="269.9" stroke="#55499a" stroke-width="2"/><rect x="598.0" y="238.7" width="15.8" height="15.8" fill="#55499a"/><line x1="608.9" y1="232.2" x2="608.9" y2="279.4" stroke="#55499a" stroke-width="2"/><rect x="601.0" y="247.9" width="15.8" height="15.8" fill="#55499a"/><line x1="611.9" y1="211.5" x2="611.9" y2="259.1" stroke="#55499a" stroke-width="2"/><rect x="604.0" y="227.4" width="15.8" height="15.8" fill="#55499a"/><line x1="614.9" y1="199.2" x2="614.9" y2="247.3" stroke="#55499a" stroke-width="2"/><rect x="607.0" y="215.3" width="15.8" height="15.8" fill="#55499a"/><line x1="617.9" y1="264.4" x2="617.9" y2="313.0" stroke="#55499a" stroke-width="2"/><rect x="610.0" y="280.8" width="15.8" height="15.8" fill="#55499a"/><line x1="620.9" y1="249.8" x2="620.9" y2="299.0" stroke="#55499a" stroke-width="2"/><rect x="613.0" y="266.5" width="15.8" height="15.8" fill="#55499a"/><line x1="623.9" y1="266.3" x2="623.9" y2="316.0" stroke="#55499a" stroke-width="2"/><rect x="616.0" y="283.2" width="15.8" height="15.8" fill="#55499a"/><line x1="626.9" y1="291.0" x2="626.9" y2="341.3" stroke="#55499a" stroke-width="2"/><rect x="619.0" y="308.3" width="15.8" height="15.8" fill="#55499a"/><line x1="629.9" y1="245.7" x2="629.9" y2="296.5" stroke="#55499a" stroke-width="2"/><rect x="622.0" y="263.2" width="15.8" height="15.8" fill="#55499a"/><line x1="632.9" y1="259.3" x2="632.9" y2="310.5" stroke="#55499a" stroke-width="2"/><rect x="625.0" y="277.0" width="15.8" height="15.8" fill="#55499a"/><line x1="635.9" y1="252.3" x2="635.9" y2="304.1" stroke="#55499a" stroke-width="2"/><rect x="628.0" y="270.3" width="15.8" height="15.8" fill="#55499a"/><line x1="638.9" y1="262.2" x2="638.9" y2="314.5" stroke="#55499a" stroke-width="2"/><rect x="631.0" y="280.4" width="15.8" height="15.8" fill="#55499a"/><line x1="641.9" y1="228.4" x2="641.9" y2="281.3" stroke="#55499a" stroke-width="2"/><rect x="634.0" y="246.9" width="15.8" height="15.8" fill="#55499a"/><line x1="644.8" y1="241.2" x2="644.8" y2="294.7" stroke="#55499a" stroke-width="2"/><rect x="636.9" y="260.1" width="15.8" height="15.8" fill="#55499a"/><line x1="647.8" y1="225.9" x2="647.8" y2="279.9" stroke="#55499a" stroke-width="2"/><rect x="639.9" y="245.0" width="15.8" height="15.8" fill="#55499a"/>
<path d="M128.0,37.6 L128.3,37.9 L128.7,38.5 L129.0,39.5 L129.3,40.9 L129.6,42.8 L130.0,45.0 L130.3,47.6 L130.6,50.7 L130.9,54.1 L131.3,57.9 L131.6,62.1 L131.9,66.6 L132.2,71.5 L132.6,76.7 L132.9,82.3 L133.2,88.2 L133.5,94.5 L133.9,101.0 L134.2,107.8 L134.5,114.9 L134.8,122.3 L135.2,129.9 L135.5,137.8 L135.8,145.9 L136.2,154.2 L136.5,162.7 L136.8,171.4 L137.1,180.3 L137.5,189.3 L137.8,198.4 L138.1,207.7 L138.4,217.0 L138.8,226.5 L139.1,236.0 L139.4,245.5 L139.7,255.1 L140.1,264.7 L140.4,274.2 L140.7,283.8 L141.0,293.3 L141.4,302.7 L141.7,312.1 L142.0,321.4 L142.3,330.6 L142.7,339.6 L143.0,348.5 L143.3,357.2 L143.6,365.8 L144.0,374.2 L144.3,382.3 L144.6,390.2 L145.0,397.9 L145.3,405.4 L145.6,412.6 L145.9,419.5 L146.3,426.1 L146.6,432.4 L146.9,438.4 L147.2,444.1 L147.6,449.4 L147.9,454.4 L148.2,459.1 L148.5,463.3 L148.9,467.2 L149.2,470.8 L149.5,473.9 L149.8,476.7 L150.2,479.0 L150.5,481.0 L150.8,482.5 L151.1,483.7 L151.5,484.4 L151.8,484.8 L152.1,484.7 L152.5,484.2 L152.8,483.3 L153.1,482.1 L153.4,480.4 L153.8,478.3 L154.1,475.8 L154.4,472.9 L154.7,469.6 L155.1,466.0 L155.4,461.9 L155.7,457.6 L156.0,452.8 L156.4,447.7 L156.7,442.3 L157.0,436.5 L157.3,430.4 L157.7,424.1 L158.0,417.4 L158.3,410.4 L158.6,403.2 L159.0,395.7 L159.3,387.9 L159.6,380.0 L159.9,371.8 L160.3,363.4 L160.6,354.9 L160.9,346.1 L161.3,337.3 L161.6,328.3 L161.9,319.1 L162.2,309.9 L162.6,300.6 L162.9,291.2 L163.2,281.8 L163.5,272.3 L163.9,262.8 L164.2,253.3 L164.5,243.9 L164.8,234.4 L165.2,225.1 L165.5,215.8 L165.8,206.6 L166.1,197.5 L166.5,188.5 L166.8,179.6 L167.1,171.0 L167.4,162.4 L167.8,154.1 L168.1,146.0 L168.4,138.1 L168.8,130.4 L169.1,122.9 L169.4,115.7 L169.7,108.8 L170.1,102.2 L170.4,95.9 L170.7,89.9 L171.0,84.2 L171.4,78.8 L171.7,73.7 L172.0,69.0 L172.3,64.7 L172.7,60.7 L173.0,57.1 L173.3,53.9 L173.6,51.1 L174.0,48.6 L174.3,46.6 L174.6,44.9 L174.9,43.6 L175.3,42.8 L175.6,42.3 L175.9,42.2 L176.2,42.6 L176.6,43.3 L176.9,44.4 L177.2,46.0 L177.6,47.9 L177.9,50.2 L178.2,53.0 L178.5,56.1 L178.9,59.5 L179.2,63.4 L179.5,67.6 L179.8,72.1 L180.2,77.0 L180.5,82.2 L180.8,87.8 L181.1,93.7 L181.5,99.8 L181.8,106.3 L182.1,113.1 L182.4,120.1 L182.8,127.4 L183.1,134.9 L183.4,142.6 L183.7,150.6 L184.1,158.7 L184.4,167.1 L184.7,175.6 L185.1,184.2 L185.4,193.0 L185.7,202.0 L186.0,211.0 L186.4,220.1 L186.7,229.3 L187.0,238.5 L187.3,247.8 L187.7,257.1 L188.0,266.3 L188.3,275.6 L188.6,284.9 L189.0,294.1 L189.3,303.2 L189.6,312.2 L189.9,321.2 L190.3,330.0 L190.6,338.7 L190.9,347.3 L191.2,355.7 L191.6,363.9 L191.9,371.9 L192.2,379.7 L192.5,387.3 L192.9,394.6 L193.2,401.7 L193.5,408.6 L193.9,415.2 L194.2,421.4 L194.5,427.4 L194.8,433.1 L195.2,438.5 L195.5,443.5 L195.8,448.2 L196.1,452.5 L196.5,456.5 L196.8,460.2 L197.1,463.4 L197.4,466.3 L197.8,468.8 L198.1,471.0 L198.4,472.7 L198.7,474.1 L199.1,475.1 L199.4,475.6 L199.7,475.8 L200.0,475.6 L200.4,475.0 L200.7,474.1 L201.0,472.7 L201.4,470.9 L201.7,468.8 L202.0,466.3 L202.3,463.4 L202.7,460.1 L203.0,456.5 L203.3,452.5 L203.6,448.2 L204.0,443.6 L204.3,438.6 L204.6,433.3 L204.9,427.7 L205.3,421.7 L205.6,415.5 L205.9,409.1 L206.2,402.3 L206.6,395.3 L206.9,388.1 L207.2,380.7 L207.5,373.0 L207.9,365.1 L208.2,357.1 L208.5,348.9 L208.8,340.5 L209.2,332.0 L209.5,323.4 L209.8,314.7 L210.2,305.8 L210.5,297.0 L210.8,288.0 L211.1,279.0 L211.5,270.0 L211.8,261.0 L212.1,252.0 L212.4,243.1 L212.8,234.1 L213.1,225.3 L213.4,216.5 L213.7,207.8 L214.1,199.2 L214.4,190.7 L214.7,182.4 L215.0,174.2 L215.4,166.2 L215.7,158.3 L216.0,150.7 L216.3,143.3 L216.7,136.1 L217.0,129.2 L217.3,122.5 L217.7,116.0 L218.0,109.8 L218.3,104.0 L218.6,98.4 L219.0,93.1 L219.3,88.1 L219.6,83.5 L219.9,79.2 L220.3,75.2 L220.6,71.6 L220.9,68.3 L221.2,65.4 L221.6,62.8 L221.9,60.6 L222.2,58.8 L222.5,57.4 L222.9,56.3 L223.2,55.6 L223.5,55.3 L223.8,55.4 L224.2,55.9 L224.5,56.7 L224.8,57.9 L225.1,59.5 L225.5,61.4 L225.8,63.7 L226.1,66.4 L226.5,69.4 L226.8,72.8 L227.1,76.5 L227.4,80.5 L227.8,84.9 L228.1,89.6 L228.4,94.6 L228.7,99.9 L229.1,105.5 L229.4,111.4 L229.7,117.6 L230.0,124.0 L230.4,130.6 L230.7,137.5 L231.0,144.6 L231.3,151.9 L231.7,159.4 L232.0,167.1 L232.3,174.9 L232.6,182.9 L233.0,191.0 L233.3,199.3 L233.6,207.6 L234.0,216.1 L234.3,224.6 L234.6,233.1 L234.9,241.8 L235.3,250.4 L235.6,259.0 L235.9,267.7 L236.2,276.3 L236.6,284.9 L236.9,293.4 L237.2,301.9 L237.5,310.3 L237.9,318.5 L238.2,326.7 L238.5,334.7 L238.8,342.6 L239.2,350.4 L239.5,357.9 L239.8,365.3 L240.1,372.5 L240.5,379.4 L240.8,386.2 L241.1,392.7 L241.4,398.9 L241.8,404.9 L242.1,410.6 L242.4,416.1 L242.8,421.2 L243.1,426.1 L243.4,430.6 L243.7,434.8 L244.1,438.7 L244.4,442.3 L244.7,445.6 L245.0,448.5 L245.4,451.0 L245.7,453.2 L246.0,455.1 L246.3,456.6 L246.7,457.7 L247.0,458.5 L247.3,458.9 L247.6,458.9 L248.0,458.6 L248.3,458.0 L248.6,456.9 L248.9,455.5 L249.3,453.8 L249.6,451.7 L249.9,449.3 L250.3,446.5 L250.6,443.4 L250.9,440.0 L251.2,436.2 L251.6,432.1 L251.9,427.7 L252.2,423.1 L252.5,418.1 L252.9,412.9 L253.2,407.3 L253.5,401.6 L253.8,395.6 L254.2,389.3 L254.5,382.8 L254.8,376.1 L255.1,369.2 L255.5,362.2 L255.8,354.9 L256.1,347.5 L256.4,339.9 L256.8,332.2 L257.1,324.4 L257.4,316.5 L257.7,308.5 L258.1,300.5 L258.4,292.3 L258.7,284.2 L259.1,276.0 L259.4,267.7 L259.7,259.5 L260.0,251.3 L260.4,243.2 L260.7,235.0 L261.0,227.0 L261.3,219.0 L261.7,211.1 L262.0,203.3 L262.3,195.7 L262.6,188.1 L263.0,180.7 L263.3,173.5 L263.6,166.5 L263.9,159.6 L264.3,152.9 L264.6,146.5 L264.9,140.2 L265.2,134.2 L265.6,128.5 L265.9,123.0 L266.2,117.7 L266.6,112.8 L266.9,108.1 L267.2,103.7 L267.5,99.6 L267.9,95.8 L268.2,92.3 L268.5,89.1 L268.8,86.3 L269.2,83.7 L269.5,81.5 L269.8,79.7 L270.1,78.2 L270.5,77.0 L270.8,76.1 L271.1,75.6 L271.4,75.5 L271.8,75.6 L272.1,76.2 L272.4,77.0 L272.7,78.2 L273.1,79.8 L273.4,81.6 L273.7,83.8 L274.0,86.3 L274.4,89.2 L274.7,92.3 L275.0,95.8 L275.4,99.5 L275.7,103.5 L276.0,107.9 L276.3,112.5 L276.7,117.3 L277.0,122.4 L277.3,127.8 L277.6,133.4 L278.0,139.2 L278.3,145.3 L278.6,151.5 L278.9,157.9 L279.3,164.6 L279.6,171.3 L279.9,178.3 L280.2,185.3 L280.6,192.5 L280.9,199.9 L281.2,207.3 L281.5,214.8 L281.9,222.4 L282.2,230.0 L282.5,237.7 L282.9,245.4 L283.2,253.1 L283.5,260.8 L283.8,268.5 L284.2,276.2 L284.5,283.9 L284.8,291.5 L285.1,299.0 L285.5,306.4 L285.8,313.8 L286.1,321.0 L286.4,328.1 L286.8,335.1 L287.1,342.0 L287.4,348.6 L287.7,355.1 L288.1,361.5 L288.4,367.6 L288.7,373.5 L289.0,379.2 L289.4,384.7 L289.7,389.9 L290.0,394.9 L290.3,399.7 L290.7,404.2 L291.0,408.4 L291.3,412.3 L291.7,416.0 L292.0,419.3 L292.3,422.4 L292.6,425.2 L293.0,427.6 L293.3,429.8 L293.6,431.6 L293.9,433.2 L294.3,434.4 L294.6,435.3 L294.9,435.8 L295.2,436.1 L295.6,436.0 L295.9,435.6 L296.2,434.9 L296.5,433.9 L296.9,432.6 L297.2,430.9 L297.5,429.0 L297.8,426.7 L298.2,424.2 L298.5,421.4 L298.8,418.2 L299.2,414.8 L299.5,411.1 L299.8,407.2 L300.1,403.0 L300.5,398.5 L300.8,393.8 L301.1,388.9 L301.4,383.7 L301.8,378.4 L302.1,372.8 L302.4,367.0 L302.7,361.1 L303.1,355.0 L303.4,348.7 L303.7,342.3 L304.0,335.7 L304.4,329.1 L304.7,322.3 L305.0,315.4 L305.3,308.4 L305.7,301.4 L306.0,294.3 L306.3,287.2 L306.7,280.0 L307.0,272.8 L307.3,265.6 L307.6,258.4 L308.0,251.3 L308.3,244.1 L308.6,237.1 L308.9,230.0 L309.3,223.1 L309.6,216.2 L309.9,209.5 L310.2,202.8 L310.6,196.3 L310.9,189.9 L311.2,183.6 L311.5,177.5 L311.9,171.6 L312.2,165.8 L312.5,160.3 L312.8,154.9 L313.2,149.8 L313.5,144.8 L313.8,140.1 L314.1,135.6 L314.5,131.4 L314.8,127.4 L315.1,123.6 L315.5,120.2 L315.8,117.0 L316.1,114.0 L316.4,111.4 L316.8,109.0 L317.1,106.9 L317.4,105.1 L317.7,103.6 L318.1,102.4 L318.4,101.4 L318.7,100.8 L319.0,100.5 L319.4,100.4 L319.7,100.7 L320.0,101.2 L320.3,102.1 L320.7,103.2 L321.0,104.7 L321.3,106.4 L321.6,108.4 L322.0,110.6 L322.3,113.2 L322.6,116.0 L323.0,119.0 L323.3,122.4 L323.6,125.9 L323.9,129.7 L324.3,133.8 L324.6,138.1 L324.9,142.6 L325.2,147.2 L325.6,152.1 L325.9,157.2 L326.2,162.5 L326.5,167.9 L326.9,173.5 L327.2,179.3 L327.5,185.1 L327.8,191.1 L328.2,197.3 L328.5,203.5 L328.8,209.8 L329.1,216.2 L329.5,222.7 L329.8,229.2 L330.1,235.8 L330.4,242.4 L330.8,249.0 L331.1,255.6 L331.4,262.2 L331.8,268.8 L332.1,275.4 L332.4,282.0 L332.7,288.4 L333.1,294.9 L333.4,301.2 L333.7,307.5 L334.0,313.6 L334.4,319.7 L334.7,325.6 L335.0,331.4 L335.3,337.0 L335.7,342.6 L336.0,347.9 L336.3,353.1 L336.6,358.1 L337.0,362.9 L337.3,367.5 L337.6,371.9 L337.9,376.1 L338.3,380.0 L338.6,383.8 L338.9,387.3 L339.3,390.6 L339.6,393.6 L339.9,396.4 L340.2,398.9 L340.6,401.1 L340.9,403.2 L341.2,404.9 L341.5,406.4 L341.9,407.6 L342.2,408.5 L342.5,409.2 L342.8,409.6 L343.2,409.7 L343.5,409.6 L343.8,409.1 L344.1,408.4 L344.5,407.5 L344.8,406.3 L345.1,404.8 L345.4,403.0 L345.8,401.1 L346.1,398.8 L346.4,396.3 L346.7,393.6 L347.1,390.6 L347.4,387.4 L347.7,384.0 L348.1,380.4 L348.4,376.5 L348.7,372.5 L349.0,368.3 L349.4,363.9 L349.7,359.3 L350.0,354.5 L350.3,349.6 L350.7,344.5 L351.0,339.3 L351.3,334.0 L351.6,328.6 L352.0,323.0 L352.3,317.3 L352.6,311.6 L352.9,305.8 L353.3,299.9 L353.6,294.0 L353.9,288.0 L354.2,282.0 L354.6,275.9 L354.9,269.9 L355.2,263.8 L355.6,257.8 L355.9,251.8 L356.2,245.8 L356.5,239.9 L356.9,234.0 L357.2,228.2 L357.5,222.5 L357.8,216.9 L358.2,211.3 L358.5,205.9 L358.8,200.6 L359.1,195.4 L359.5,190.3 L359.8,185.4 L360.1,180.6 L360.4,176.1 L360.8,171.6 L361.1,167.4 L361.4,163.3 L361.7,159.4 L362.1,155.8 L362.4,152.3 L362.7,149.0 L363.0,146.0 L363.4,143.2 L363.7,140.6 L364.0,138.2 L364.4,136.1 L364.7,134.2 L365.0,132.5 L365.3,131.1 L365.7,129.9 L366.0,129.0 L366.3,128.3 L366.6,127.8 L367.0,127.7 L367.3,127.7 L367.6,128.0 L367.9,128.6 L368.3,129.3 L368.6,130.4 L368.9,131.6 L369.2,133.1 L369.6,134.9 L369.9,136.8 L370.2,139.0 L370.5,141.4 L370.9,144.0 L371.2,146.9 L371.5,149.9 L371.9,153.1 L372.2,156.5 L372.5,160.1 L372.8,163.9 L373.2,167.8 L373.5,171.9 L373.8,176.2 L374.1,180.6 L374.5,185.1 L374.8,189.8 L375.1,194.6 L375.4,199.5 L375.8,204.5 L376.1,209.5 L376.4,214.7 L376.7,219.9 L377.1,225.2 L377.4,230.6 L377.7,236.0 L378.0,241.4 L378.4,246.8 L378.7,252.3 L379.0,257.8 L379.3,263.2 L379.7,268.6 L380.0,274.0 L380.3,279.4 L380.7,284.7 L381.0,290.0 L381.3,295.1 L381.6,300.3 L382.0,305.3 L382.3,310.2 L382.6,315.1 L382.9,319.8 L383.3,324.4 L383.6,328.8 L383.9,333.2 L384.2,337.4 L384.6,341.4 L384.9,345.3 L385.2,349.0 L385.5,352.5 L385.9,355.9 L386.2,359.1 L386.5,362.1 L386.8,364.9 L387.2,367.5 L387.5,369.9 L387.8,372.1 L388.2,374.1 L388.5,375.9 L388.8,377.4 L389.1,378.8 L389.5,379.9 L389.8,380.8 L390.1,381.5 L390.4,382.0 L390.8,382.2 L391.1,382.2 L391.4,382.0 L391.7,381.6 L392.1,381.0 L392.4,380.1 L392.7,379.1 L393.0,377.8 L393.4,376.3 L393.7,374.6 L394.0,372.7 L394.3,370.6 L394.7,368.3 L395.0,365.9 L395.3,363.2 L395.6,360.4 L396.0,357.4 L396.3,354.2 L396.6,350.9 L397.0,347.4 L397.3,343.8 L397.6,340.0 L397.9,336.1 L398.3,332.1 L398.6,327.9 L398.9,323.7 L399.2,319.3 L399.6,314.9 L399.9,310.4 L400.2,305.8 L400.5,301.1 L400.9,296.4 L401.2,291.6 L401.5,286.8 L401.8,282.0 L402.2,277.1 L402.5,272.3 L402.8,267.4 L403.1,262.5 L403.5,257.7 L403.8,252.8 L404.1,248.0 L404.5,243.3 L404.8,238.6 L405.1,233.9 L405.4,229.3 L405.8,224.8 L406.1,220.4 L406.4,216.0 L406.7,211.8 L407.1,207.7 L407.4,203.6 L407.7,199.7 L408.0,196.0 L408.4,192.3 L408.7,188.8 L409.0,185.4 L409.3,182.2 L409.7,179.2 L410.0,176.3 L410.3,173.6 L410.6,171.0 L411.0,168.6 L411.3,166.4 L411.6,164.4 L411.9,162.6 L412.3,160.9 L412.6,159.5 L412.9,158.2 L413.3,157.2 L413.6,156.3 L413.9,155.6 L414.2,155.1 L414.6,154.9 L414.9,154.8 L415.2,154.9 L415.5,155.2 L415.9,155.7 L416.2,156.4 L416.5,157.3 L416.8,158.3 L417.2,159.6 L417.5,161.0 L417.8,162.7 L418.1,164.5 L418.5,166.4 L418.8,168.6 L419.1,170.9 L419.4,173.3 L419.8,176.0 L420.1,178.7 L420.4,181.6 L420.8,184.7 L421.1,187.8 L421.4,191.1 L421.7,194.6 L422.1,198.1 L422.4,201.7 L422.7,205.5 L423.0,209.3 L423.4,213.2 L423.7,217.2 L424.0,221.2 L424.3,225.3 L424.7,229.5 L425.0,233.7 L425.3,237.9 L425.6,242.2 L426.0,246.5 L426.3,250.8 L426.6,255.1 L426.9,259.4 L427.3,263.7 L427.6,268.0 L427.9,272.3 L428.2,276.5 L428.6,280.7 L428.9,284.8 L429.2,288.9 L429.6,292.9 L429.9,296.8 L430.2,300.7 L430.5,304.4 L430.9,308.1 L431.2,311.7 L431.5,315.2 L431.8,318.6 L432.2,321.8 L432.5,324.9 L432.8,327.9 L433.1,330.8 L433.5,333.6 L433.8,336.2 L434.1,338.6 L434.4,340.9 L434.8,343.1 L435.1,345.0 L435.4,346.9 L435.7,348.5 L436.1,350.0 L436.4,351.4 L436.7,352.5 L437.1,353.5 L437.4,354.4 L437.7,355.0 L438.0,355.5 L438.4,355.8 L438.7,355.9 L439.0,355.9 L439.3,355.7 L439.7,355.3 L440.0,354.7 L440.3,354.0 L440.6,353.1 L441.0,352.1 L441.3,350.9 L441.6,349.5 L441.9,348.0 L442.3,346.3 L442.6,344.4 L442.9,342.5 L443.2,340.3 L443.6,338.1 L443.9,335.7 L444.2,333.2 L444.5,330.6 L444.9,327.8 L445.2,325.0 L445.5,322.0 L445.9,318.9 L446.2,315.8 L446.5,312.5 L446.8,309.2 L447.2,305.8 L447.5,302.3 L447.8,298.8 L448.1,295.2 L448.5,291.6 L448.8,287.9 L449.1,284.2 L449.4,280.5 L449.8,276.7 L450.1,272.9 L450.4,269.2 L450.7,265.4 L451.1,261.6 L451.4,257.9 L451.7,254.2 L452.0,250.4 L452.4,246.8 L452.7,243.2 L453.0,239.6 L453.4,236.1 L453.7,232.6 L454.0,229.2 L454.3,225.9 L454.7,222.6 L455.0,219.5 L455.3,216.4 L455.6,213.4 L456.0,210.5 L456.3,207.8 L456.6,205.1 L456.9,202.6 L457.3,200.1 L457.6,197.8 L457.9,195.6 L458.2,193.6 L458.6,191.7 L458.9,189.9 L459.2,188.3 L459.5,186.8 L459.9,185.4 L460.2,184.2 L460.5,183.1 L460.8,182.2 L461.2,181.4 L461.5,180.8 L461.8,180.3 L462.2,180.0 L462.5,179.9 L462.8,179.9 L463.1,180.0 L463.5,180.3 L463.8,180.7 L464.1,181.3 L464.4,182.0 L464.8,182.9 L465.1,183.9 L465.4,185.1 L465.7,186.3 L466.1,187.8 L466.4,189.3 L466.7,191.0 L467.0,192.8 L467.4,194.7 L467.7,196.7 L468.0,198.9 L468.3,201.1 L468.7,203.5 L469.0,206.0 L469.3,208.5 L469.7,211.1 L470.0,213.8 L470.3,216.6 L470.6,219.5 L471.0,222.4 L471.3,225.4 L471.6,228.5 L471.9,231.6 L472.3,234.7 L472.6,237.9 L472.9,241.1 L473.2,244.3 L473.6,247.6 L473.9,250.8 L474.2,254.1 L474.5,257.4 L474.9,260.6 L475.2,263.9 L475.5,267.1 L475.8,270.3 L476.2,273.5 L476.5,276.7 L476.8,279.8 L477.2,282.8 L477.5,285.9 L477.8,288.8 L478.1,291.7 L478.5,294.5 L478.8,297.3 L479.1,300.0 L479.4,302.6 L479.8,305.1 L480.1,307.5 L480.4,309.9 L480.7,312.1 L481.1,314.2 L481.4,316.3 L481.7,318.2 L482.0,320.0 L482.4,321.7 L482.7,323.3 L483.0,324.7 L483.3,326.0 L483.7,327.3 L484.0,328.3 L484.3,329.3 L484.6,330.1 L485.0,330.8 L485.3,331.4 L485.6,331.9 L486.0,332.2 L486.3,332.4 L486.6,332.4 L486.9,332.3 L487.3,332.1 L487.6,331.8 L487.9,331.3 L488.2,330.8 L488.6,330.1 L488.9,329.2 L489.2,328.3 L489.5,327.2 L489.9,326.0 L490.2,324.7 L490.5,323.3 L490.8,321.8 L491.2,320.2 L491.5,318.5 L491.8,316.6 L492.1,314.7 L492.5,312.7 L492.8,310.7 L493.1,308.5 L493.5,306.3 L493.8,303.9 L494.1,301.6 L494.4,299.1 L494.8,296.6 L495.1,294.1 L495.4,291.5 L495.7,288.8 L496.1,286.1 L496.4,283.4 L496.7,280.7 L497.0,277.9 L497.4,275.1 L497.7,272.3 L498.0,269.5 L498.3,266.7 L498.7,263.9 L499.0,261.1 L499.3,258.4 L499.6,255.6 L500.0,252.9 L500.3,250.1 L500.6,247.5 L500.9,244.8 L501.3,242.2 L501.6,239.7 L501.9,237.2 L502.3,234.7 L502.6,232.4 L502.9,230.0 L503.2,227.8 L503.6,225.6 L503.9,223.5 L504.2,221.5 L504.5,219.6 L504.9,217.7 L505.2,215.9 L505.5,214.3 L505.8,212.7 L506.2,211.2 L506.5,209.8 L506.8,208.6 L507.1,207.4 L507.5,206.3 L507.8,205.3 L508.1,204.5 L508.4,203.7 L508.8,203.1 L509.1,202.6 L509.4,202.2 L509.8,201.8 L510.1,201.7 L510.4,201.6 L510.7,201.6 L511.1,201.7 L511.4,202.0 L511.7,202.3 L512.0,202.8 L512.4,203.4 L512.7,204.1 L513.0,204.8 L513.3,205.7 L513.7,206.7 L514.0,207.8 L514.3,208.9 L514.6,210.2 L515.0,211.5 L515.3,213.0 L515.6,214.5 L515.9,216.1 L516.3,217.8 L516.6,219.5 L516.9,221.3 L517.2,223.2 L517.6,225.2 L517.9,227.2 L518.2,229.2 L518.6,231.3 L518.9,233.5 L519.2,235.7 L519.5,237.9 L519.9,240.2 L520.2,242.5 L520.5,244.8 L520.8,247.2 L521.2,249.5 L521.5,251.9 L521.8,254.3 L522.1,256.6 L522.5,259.0 L522.8,261.4 L523.1,263.8 L523.4,266.1 L523.8,268.4 L524.1,270.8 L524.4,273.0 L524.7,275.3 L525.1,277.5 L525.4,279.7 L525.7,281.8 L526.1,283.9 L526.4,285.9 L526.7,287.9 L527.0,289.8 L527.4,291.7 L527.7,293.5 L528.0,295.2 L528.3,296.9 L528.7,298.5 L529.0,300.0 L529.3,301.5 L529.6,302.8 L530.0,304.1 L530.3,305.3 L530.6,306.4 L530.9,307.4 L531.3,308.4 L531.6,309.2 L531.9,310.0 L532.2,310.6 L532.6,311.2 L532.9,311.7 L533.2,312.0 L533.5,312.3 L533.9,312.5 L534.2,312.6 L534.5,312.6 L534.9,312.6 L535.2,312.4 L535.5,312.1 L535.8,311.7 L536.2,311.3 L536.5,310.7 L536.8,310.1 L537.1,309.4 L537.5,308.6 L537.8,307.7 L538.1,306.8 L538.4,305.7 L538.8,304.6 L539.1,303.4 L539.4,302.2 L539.7,300.8 L540.1,299.5 L540.4,298.0 L540.7,296.5 L541.0,294.9 L541.4,293.3 L541.7,291.6 L542.0,289.9 L542.4,288.2 L542.7,286.4 L543.0,284.5 L543.3,282.6 L543.7,280.7 L544.0,278.8 L544.3,276.9 L544.6,274.9 L545.0,272.9 L545.3,270.9 L545.6,268.9 L545.9,266.9 L546.3,264.9 L546.6,262.9 L546.9,260.9 L547.2,259.0 L547.6,257.0 L547.9,255.1 L548.2,253.1 L548.5,251.2 L548.9,249.4 L549.2,247.5 L549.5,245.7 L549.8,244.0 L550.2,242.3 L550.5,240.6 L550.8,238.9 L551.2,237.4 L551.5,235.8 L551.8,234.4 L552.1,233.0 L552.5,231.6 L552.8,230.3 L553.1,229.1 L553.4,227.9 L553.8,226.8 L554.1,225.8 L554.4,224.8 L554.7,224.0 L555.1,223.2 L555.4,222.4 L555.7,221.8 L556.0,221.2 L556.4,220.7 L556.7,220.3 L557.0,219.9 L557.3,219.6 L557.7,219.5 L558.0,219.3 L558.3,219.3 L558.7,219.4 L559.0,219.5 L559.3,219.7 L559.6,220.0 L560.0,220.3 L560.3,220.7 L560.6,221.2 L560.9,221.8 L561.3,222.5 L561.6,223.2 L561.9,224.0 L562.2,224.8 L562.6,225.7 L562.9,226.7 L563.2,227.7 L563.5,228.8 L563.9,229.9 L564.2,231.1 L564.5,232.4 L564.8,233.7 L565.2,235.0 L565.5,236.4 L565.8,237.8 L566.1,239.3 L566.5,240.7 L566.8,242.3 L567.1,243.8 L567.5,245.4 L567.8,247.0 L568.1,248.6 L568.4,250.2 L568.8,251.9 L569.1,253.5 L569.4,255.2 L569.7,256.9 L570.1,258.5 L570.4,260.2 L570.7,261.8 L571.0,263.5 L571.4,265.1 L571.7,266.7 L572.0,268.3 L572.3,269.9 L572.7,271.5 L573.0,273.0 L573.3,274.5 L573.6,276.0 L574.0,277.4 L574.3,278.9 L574.6,280.2 L575.0,281.5 L575.3,282.8 L575.6,284.1 L575.9,285.3 L576.3,286.4 L576.6,287.5 L576.9,288.5 L577.2,289.5 L577.6,290.4 L577.9,291.3 L578.2,292.1 L578.5,292.9 L578.9,293.5 L579.2,294.2 L579.5,294.7 L579.8,295.2 L580.2,295.7 L580.5,296.0 L580.8,296.4 L581.1,296.6 L581.5,296.8 L581.8,296.9 L582.1,296.9 L582.4,296.9 L582.8,296.8 L583.1,296.7 L583.4,296.5 L583.8,296.2 L584.1,295.9 L584.4,295.5 L584.7,295.0 L585.1,294.5 L585.4,293.9 L585.7,293.3 L586.0,292.6 L586.4,291.9 L586.7,291.1 L587.0,290.3 L587.3,289.4 L587.7,288.5 L588.0,287.5 L588.3,286.5 L588.6,285.4 L589.0,284.3 L589.3,283.2 L589.6,282.1 L589.9,280.9 L590.3,279.6 L590.6,278.4 L590.9,277.1 L591.3,275.8 L591.6,274.5 L591.9,273.2 L592.2,271.9 L592.6,270.5 L592.9,269.2 L593.2,267.8 L593.5,266.4 L593.9,265.1 L594.2,263.7 L594.5,262.3 L594.8,261.0 L595.2,259.6 L595.5,258.3 L595.8,256.9 L596.1,255.6 L596.5,254.3 L596.8,253.1 L597.1,251.8 L597.4,250.6 L597.8,249.4 L598.1,248.3 L598.4,247.1 L598.7,246.0 L599.1,245.0 L599.4,243.9 L599.7,242.9 L600.1,242.0 L600.4,241.1 L600.7,240.2 L601.0,239.4 L601.4,238.6 L601.7,237.9 L602.0,237.2 L602.3,236.6 L602.7,236.0 L603.0,235.5 L603.3,235.0 L603.6,234.6 L604.0,234.2 L604.3,233.9 L604.6,233.6 L604.9,233.4 L605.3,233.2 L605.6,233.1 L605.9,233.0 L606.2,233.0 L606.6,233.1 L606.9,233.2 L607.2,233.4 L607.6,233.6 L607.9,233.8 L608.2,234.1 L608.5,234.5 L608.9,234.9 L609.2,235.3 L609.5,235.8 L609.8,236.4 L610.2,237.0 L610.5,237.6 L610.8,238.2 L611.1,239.0 L611.5,239.7 L611.8,240.5 L612.1,241.3 L612.4,242.2 L612.8,243.0 L613.1,243.9 L613.4,244.9 L613.7,245.8 L614.1,246.8 L614.4,247.8 L614.7,248.9 L615.0,249.9 L615.4,251.0 L615.7,252.1 L616.0,253.2 L616.4,254.3 L616.7,255.4 L617.0,256.5 L617.3,257.6 L617.7,258.7 L618.0,259.8 L618.3,260.9 L618.6,262.0 L619.0,263.1 L619.3,264.2 L619.6,265.3 L619.9,266.4 L620.3,267.4 L620.6,268.5 L620.9,269.5 L621.2,270.5 L621.6,271.5 L621.9,272.4 L622.2,273.4 L622.5,274.3 L622.9,275.1 L623.2,276.0 L623.5,276.8 L623.9,277.6 L624.2,278.3 L624.5,279.1 L624.8,279.7 L625.2,280.4 L625.5,281.0 L625.8,281.5 L626.1,282.1 L626.5,282.6 L626.8,283.0 L627.1,283.4 L627.4,283.8 L627.8,284.1 L628.1,284.4 L628.4,284.6 L628.7,284.8 L629.1,284.9 L629.4,285.0 L629.7,285.1 L630.0,285.1 L630.4,285.1 L630.7,285.0 L631.0,284.9 L631.3,284.7 L631.7,284.5 L632.0,284.3 L632.3,284.0 L632.7,283.7 L633.0,283.4 L633.3,283.0 L633.6,282.6 L634.0,282.1 L634.3,281.6 L634.6,281.1 L634.9,280.5 L635.3,279.9 L635.6,279.3 L635.9,278.6 L636.2,278.0 L636.6,277.3 L636.9,276.5 L637.2,275.8 L637.5,275.0 L637.9,274.2 L638.2,273.4 L638.5,272.6 L638.8,271.7 L639.2,270.9 L639.5,270.0 L639.8,269.1 L640.2,268.2 L640.5,267.4 L640.8,266.5 L641.1,265.6 L641.5,264.7 L641.8,263.8 L642.1,262.9 L642.4,262.0 L642.8,261.1 L643.1,260.2 L643.4,259.3 L643.7,258.5 L644.1,257.6 L644.4,256.8 L644.7,255.9 L645.0,255.1 L645.4,254.3 L645.7,253.6 L646.0,252.8 L646.3,252.1 L646.7,251.3 L647.0,250.7 L647.3,250.0 L647.6,249.4 L648.0,248.7 L648.3,248.2 L648.6,247.6 L649.0,247.1 L649.3,246.6" fill="none" stroke="rgba(135,122,193,0.8)" stroke-width="6" stroke-linejoin="round"/>
<circle cx="129.3" cy="27.7" r="8.2" fill="#c8304b"/><circle cx="132.3" cy="59.8" r="8.2" fill="#c8304b"/><circle cx="135.3" cy="112.8" r="8.2" fill="#c8304b"/><circle cx="138.3" cy="199.8" r="8.2" fill="#c8304b"/><circle cx="141.3" cy="286.1" r="8.2" fill="#c8304b"/><circle cx="144.3" cy="370.6" r="8.2" fill="#c8304b"/><circle cx="147.3" cy="437.2" r="8.2" fill="#c8304b"/><circle cx="150.3" cy="474.7" r="8.2" fill="#c8304b"/><circle cx="153.3" cy="475.2" r="8.2" fill="#c8304b"/><circle cx="156.3" cy="454.0" r="8.2" fill="#c8304b"/><circle cx="159.3" cy="405.3" r="8.2" fill="#c8304b"/><circle cx="162.3" cy="340.0" r="8.2" fill="#c8304b"/><circle cx="165.3" cy="264.2" r="8.2" fill="#c8304b"/><circle cx="168.3" cy="197.8" r="8.2" fill="#c8304b"/><circle cx="171.3" cy="144.4" r="8.2" fill="#c8304b"/><circle cx="174.3" cy="115.1" r="8.2" fill="#c8304b"/><circle cx="177.3" cy="111.7" r="8.2" fill="#c8304b"/><circle cx="180.3" cy="118.7" r="8.2" fill="#c8304b"/><circle cx="183.3" cy="151.9" r="8.2" fill="#c8304b"/><circle cx="186.3" cy="202.5" r="8.2" fill="#c8304b"/><circle cx="189.3" cy="253.1" r="8.2" fill="#c8304b"/><circle cx="192.2" cy="304.6" r="8.2" fill="#c8304b"/><circle cx="195.2" cy="348.7" r="8.2" fill="#c8304b"/><circle cx="198.2" cy="378.5" r="8.2" fill="#c8304b"/><circle cx="201.2" cy="395.6" r="8.2" fill="#c8304b"/><circle cx="204.2" cy="381.0" r="8.2" fill="#c8304b"/><circle cx="207.2" cy="370.4" r="8.2" fill="#c8304b"/><circle cx="210.2" cy="328.1" r="8.2" fill="#c8304b"/><circle cx="213.2" cy="288.5" r="8.2" fill="#c8304b"/><circle cx="216.2" cy="244.5" r="8.2" fill="#c8304b"/><circle cx="219.2" cy="203.5" r="8.2" fill="#c8304b"/><circle cx="222.2" cy="175.9" r="8.2" fill="#c8304b"/><circle cx="225.2" cy="173.0" r="8.2" fill="#c8304b"/><circle cx="228.2" cy="175.8" r="8.2" fill="#c8304b"/><circle cx="231.2" cy="176.9" r="8.2" fill="#c8304b"/><circle cx="234.2" cy="205.7" r="8.2" fill="#c8304b"/><circle cx="237.2" cy="228.3" r="8.2" fill="#c8304b"/><circle cx="240.2" cy="254.3" r="8.2" fill="#c8304b"/><circle cx="243.2" cy="294.3" r="8.2" fill="#c8304b"/><circle cx="246.2" cy="318.4" r="8.2" fill="#c8304b"/><circle cx="249.2" cy="325.8" r="8.2" fill="#c8304b"/><circle cx="252.2" cy="332.9" r="8.2" fill="#c8304b"/><circle cx="255.2" cy="330.4" r="8.2" fill="#c8304b"/><circle cx="258.2" cy="316.9" r="8.2" fill="#c8304b"/><circle cx="261.2" cy="302.7" r="8.2" fill="#c8304b"/><circle cx="264.2" cy="284.0" r="8.2" fill="#c8304b"/><circle cx="267.2" cy="255.3" r="8.2" fill="#c8304b"/><circle cx="270.2" cy="240.6" r="8.2" fill="#c8304b"/><circle cx="273.2" cy="231.4" r="8.2" fill="#c8304b"/><circle cx="276.2" cy="216.3" r="8.2" fill="#c8304b"/><circle cx="279.2" cy="222.7" r="8.2" fill="#c8304b"/><circle cx="282.2" cy="229.5" r="8.2" fill="#c8304b"/><circle cx="285.2" cy="250.6" r="8.2" fill="#c8304b"/><circle cx="288.2" cy="264.5" r="8.2" fill="#c8304b"/><circle cx="291.2" cy="281.2" r="8.2" fill="#c8304b"/><circle cx="294.2" cy="292.1" r="8.2" fill="#c8304b"/><circle cx="297.2" cy="292.3" r="8.2" fill="#c8304b"/><line x1="300.2" y1="289.8" x2="300.2" y2="305.8" stroke="#c8304b" stroke-width="2"/><circle cx="300.2" cy="297.8" r="8.2" fill="#c8304b"/><line x1="303.2" y1="279.3" x2="303.2" y2="295.5" stroke="#c8304b" stroke-width="2"/><circle cx="303.2" cy="287.4" r="8.2" fill="#c8304b"/><line x1="306.1" y1="272.2" x2="306.1" y2="288.5" stroke="#c8304b" stroke-width="2"/><circle cx="306.1" cy="280.3" r="8.2" fill="#c8304b"/><line x1="309.1" y1="255.5" x2="309.1" y2="272.0" stroke="#c8304b" stroke-width="2"/><circle cx="309.1" cy="263.8" r="8.2" fill="#c8304b"/><line x1="312.1" y1="262.8" x2="312.1" y2="279.5" stroke="#c8304b" stroke-width="2"/><circle cx="312.1" cy="271.1" r="8.2" fill="#c8304b"/><line x1="315.1" y1="240.1" x2="315.1" y2="256.9" stroke="#c8304b" stroke-width="2"/><circle cx="315.1" cy="248.5" r="8.2" fill="#c8304b"/><line x1="318.1" y1="238.7" x2="318.1" y2="255.7" stroke="#c8304b" stroke-width="2"/><circle cx="318.1" cy="247.2" r="8.2" fill="#c8304b"/><line x1="321.1" y1="234.2" x2="321.1" y2="251.5" stroke="#c8304b" stroke-width="2"/><circle cx="321.1" cy="242.8" r="8.2" fill="#c8304b"/><line x1="324.1" y1="242.7" x2="324.1" y2="260.1" stroke="#c8304b" stroke-width="2"/><circle cx="324.1" cy="251.4" r="8.2" fill="#c8304b"/><line x1="327.1" y1="239.8" x2="327.1" y2="257.4" stroke="#c8304b" stroke-width="2"/><circle cx="327.1" cy="248.6" r="8.2" fill="#c8304b"/><line x1="330.1" y1="238.1" x2="330.1" y2="255.9" stroke="#c8304b" stroke-width="2"/><circle cx="330.1" cy="247.0" r="8.2" fill="#c8304b"/><line x1="333.1" y1="250.9" x2="333.1" y2="268.9" stroke="#c8304b" stroke-width="2"/><circle cx="333.1" cy="259.9" r="8.2" fill="#c8304b"/><line x1="336.1" y1="258.1" x2="336.1" y2="276.3" stroke="#c8304b" stroke-width="2"/><circle cx="336.1" cy="267.2" r="8.2" fill="#c8304b"/><line x1="339.1" y1="268.1" x2="339.1" y2="286.4" stroke="#c8304b" stroke-width="2"/><circle cx="339.1" cy="277.2" r="8.2" fill="#c8304b"/><line x1="342.1" y1="264.3" x2="342.1" y2="282.9" stroke="#c8304b" stroke-width="2"/><circle cx="342.1" cy="273.6" r="8.2" fill="#c8304b"/><line x1="345.1" y1="274.7" x2="345.1" y2="293.5" stroke="#c8304b" stroke-width="2"/><circle cx="345.1" cy="284.1" r="8.2" fill="#c8304b"/><line x1="348.1" y1="284.7" x2="348.1" y2="303.6" stroke="#c8304b" stroke-width="2"/><circle cx="348.1" cy="294.1" r="8.2" fill="#c8304b"/><line x1="351.1" y1="274.6" x2="351.1" y2="293.7" stroke="#c8304b" stroke-width="2"/><circle cx="351.1" cy="284.1" r="8.2" fill="#c8304b"/><line x1="354.1" y1="273.8" x2="354.1" y2="293.2" stroke="#c8304b" stroke-width="2"/><circle cx="354.1" cy="283.5" r="8.2" fill="#c8304b"/><line x1="357.1" y1="265.4" x2="357.1" y2="284.9" stroke="#c8304b" stroke-width="2"/><circle cx="357.1" cy="275.2" r="8.2" fill="#c8304b"/><line x1="360.1" y1="249.5" x2="360.1" y2="269.2" stroke="#c8304b" stroke-width="2"/><circle cx="360.1" cy="259.4" r="8.2" fill="#c8304b"/><line x1="363.1" y1="229.4" x2="363.1" y2="249.4" stroke="#c8304b" stroke-width="2"/><circle cx="363.1" cy="239.4" r="8.2" fill="#c8304b"/><line x1="366.1" y1="234.1" x2="366.1" y2="254.2" stroke="#c8304b" stroke-width="2"/><circle cx="366.1" cy="244.2" r="8.2" fill="#c8304b"/><line x1="369.1" y1="242.0" x2="369.1" y2="262.4" stroke="#c8304b" stroke-width="2"/><circle cx="369.1" cy="252.2" r="8.2" fill="#c8304b"/><line x1="372.1" y1="243.1" x2="372.1" y2="263.7" stroke="#c8304b" stroke-width="2"/><circle cx="372.1" cy="253.4" r="8.2" fill="#c8304b"/><line x1="375.1" y1="233.7" x2="375.1" y2="254.5" stroke="#c8304b" stroke-width="2"/><circle cx="375.1" cy="244.1" r="8.2" fill="#c8304b"/><line x1="378.1" y1="248.4" x2="378.1" y2="269.4" stroke="#c8304b" stroke-width="2"/><circle cx="378.1" cy="258.9" r="8.2" fill="#c8304b"/><line x1="381.1" y1="257.6" x2="381.1" y2="278.8" stroke="#c8304b" stroke-width="2"/><circle cx="381.1" cy="268.2" r="8.2" fill="#c8304b"/><line x1="384.1" y1="266.1" x2="384.1" y2="287.5" stroke="#c8304b" stroke-width="2"/><circle cx="384.1" cy="276.8" r="8.2" fill="#c8304b"/><line x1="387.1" y1="271.2" x2="387.1" y2="292.9" stroke="#c8304b" stroke-width="2"/><circle cx="387.1" cy="282.0" r="8.2" fill="#c8304b"/><line x1="390.1" y1="268.2" x2="390.1" y2="290.1" stroke="#c8304b" stroke-width="2"/><circle cx="390.1" cy="279.1" r="8.2" fill="#c8304b"/><line x1="393.1" y1="269.6" x2="393.1" y2="291.8" stroke="#c8304b" stroke-width="2"/><circle cx="393.1" cy="280.7" r="8.2" fill="#c8304b"/><line x1="396.1" y1="268.6" x2="396.1" y2="291.0" stroke="#c8304b" stroke-width="2"/><circle cx="396.1" cy="279.8" r="8.2" fill="#c8304b"/><line x1="399.1" y1="272.3" x2="399.1" y2="294.9" stroke="#c8304b" stroke-width="2"/><circle cx="399.1" cy="283.6" r="8.2" fill="#c8304b"/><line x1="402.1" y1="252.0" x2="402.1" y2="274.8" stroke="#c8304b" stroke-width="2"/><circle cx="402.1" cy="263.4" r="8.2" fill="#c8304b"/><line x1="405.1" y1="253.0" x2="405.1" y2="276.2" stroke="#c8304b" stroke-width="2"/><circle cx="405.1" cy="264.6" r="8.2" fill="#c8304b"/><line x1="408.1" y1="230.7" x2="408.1" y2="254.0" stroke="#c8304b" stroke-width="2"/><circle cx="408.1" cy="242.4" r="8.2" fill="#c8304b"/><line x1="411.1" y1="244.0" x2="411.1" y2="267.6" stroke="#c8304b" stroke-width="2"/><circle cx="411.1" cy="255.8" r="8.2" fill="#c8304b"/><line x1="414.1" y1="231.3" x2="414.1" y2="255.1" stroke="#c8304b" stroke-width="2"/><circle cx="414.1" cy="243.2" r="8.2" fill="#c8304b"/><line x1="417.0" y1="229.9" x2="417.0" y2="254.0" stroke="#c8304b" stroke-width="2"/><circle cx="417.0" cy="241.9" r="8.2" fill="#c8304b"/><line x1="420.0" y1="244.0" x2="420.0" y2="268.3" stroke="#c8304b" stroke-width="2"/><circle cx="420.0" cy="256.2" r="8.2" fill="#c8304b"/><line x1="423.0" y1="224.5" x2="423.0" y2="249.1" stroke="#c8304b" stroke-width="2"/><circle cx="423.0" cy="236.8" r="8.2" fill="#c8304b"/><line x1="426.0" y1="232.9" x2="426.0" y2="257.8" stroke="#c8304b" stroke-width="2"/><circle cx="426.0" cy="245.4" r="8.2" fill="#c8304b"/><line x1="429.0" y1="257.7" x2="429.0" y2="282.9" stroke="#c8304b" stroke-width="2"/><circle cx="429.0" cy="270.3" r="8.2" fill="#c8304b"/><line x1="432.0" y1="254.2" x2="432.0" y2="279.6" stroke="#c8304b" stroke-width="2"/><circle cx="432.0" cy="266.9" r="8.2" fill="#c8304b"/><line x1="435.0" y1="263.3" x2="435.0" y2="288.9" stroke="#c8304b" stroke-width="2"/><circle cx="435.0" cy="276.1" r="8.2" fill="#c8304b"/><line x1="438.0" y1="284.1" x2="438.0" y2="310.1" stroke="#c8304b" stroke-width="2"/><circle cx="438.0" cy="297.1" r="8.2" fill="#c8304b"/><line x1="441.0" y1="267.1" x2="441.0" y2="293.3" stroke="#c8304b" stroke-width="2"/><circle cx="441.0" cy="280.2" r="8.2" fill="#c8304b"/><line x1="444.0" y1="266.7" x2="444.0" y2="293.2" stroke="#c8304b" stroke-width="2"/><circle cx="444.0" cy="279.9" r="8.2" fill="#c8304b"/><line x1="447.0" y1="259.4" x2="447.0" y2="286.2" stroke="#c8304b" stroke-width="2"/><circle cx="447.0" cy="272.8" r="8.2" fill="#c8304b"/><line x1="450.0" y1="262.8" x2="450.0" y2="289.9" stroke="#c8304b" stroke-width="2"/><circle cx="450.0" cy="276.3" r="8.2" fill="#c8304b"/><line x1="453.0" y1="247.0" x2="453.0" y2="274.3" stroke="#c8304b" stroke-width="2"/><circle cx="453.0" cy="260.7" r="8.2" fill="#c8304b"/><line x1="456.0" y1="238.5" x2="456.0" y2="266.2" stroke="#c8304b" stroke-width="2"/><circle cx="456.0" cy="252.3" r="8.2" fill="#c8304b"/><line x1="459.0" y1="219.3" x2="459.0" y2="247.2" stroke="#c8304b" stroke-width="2"/><circle cx="459.0" cy="233.3" r="8.2" fill="#c8304b"/><line x1="462.0" y1="224.3" x2="462.0" y2="252.5" stroke="#c8304b" stroke-width="2"/><circle cx="462.0" cy="238.4" r="8.2" fill="#c8304b"/><line x1="465.0" y1="227.5" x2="465.0" y2="256.0" stroke="#c8304b" stroke-width="2"/><circle cx="465.0" cy="241.7" r="8.2" fill="#c8304b"/><line x1="468.0" y1="214.9" x2="468.0" y2="243.7" stroke="#c8304b" stroke-width="2"/><circle cx="468.0" cy="229.3" r="8.2" fill="#c8304b"/><line x1="471.0" y1="241.6" x2="471.0" y2="270.7" stroke="#c8304b" stroke-width="2"/><circle cx="471.0" cy="256.1" r="8.2" fill="#c8304b"/><line x1="474.0" y1="247.3" x2="474.0" y2="276.7" stroke="#c8304b" stroke-width="2"/><circle cx="474.0" cy="262.0" r="8.2" fill="#c8304b"/><line x1="477.0" y1="268.0" x2="477.0" y2="297.7" stroke="#c8304b" stroke-width="2"/><circle cx="477.0" cy="282.8" r="8.2" fill="#c8304b"/><line x1="480.0" y1="242.2" x2="480.0" y2="272.2" stroke="#c8304b" stroke-width="2"/><circle cx="480.0" cy="257.2" r="8.2" fill="#c8304b"/><line x1="483.0" y1="254.0" x2="483.0" y2="284.3" stroke="#c8304b" stroke-width="2"/><circle cx="483.0" cy="269.1" r="8.2" fill="#c8304b"/><line x1="486.0" y1="257.2" x2="486.0" y2="287.9" stroke="#c8304b" stroke-width="2"/><circle cx="486.0" cy="272.5" r="8.2" fill="#c8304b"/><line x1="489.0" y1="259.5" x2="489.0" y2="290.5" stroke="#c8304b" stroke-width="2"/><circle cx="489.0" cy="275.0" r="8.2" fill="#c8304b"/><line x1="492.0" y1="262.1" x2="492.0" y2="293.4" stroke="#c8304b" stroke-width="2"/><circle cx="492.0" cy="277.7" r="8.2" fill="#c8304b"/><line x1="495.0" y1="254.8" x2="495.0" y2="286.5" stroke="#c8304b" stroke-width="2"/><circle cx="495.0" cy="270.6" r="8.2" fill="#c8304b"/><line x1="498.0" y1="252.2" x2="498.0" y2="284.2" stroke="#c8304b" stroke-width="2"/><circle cx="498.0" cy="268.2" r="8.2" fill="#c8304b"/><line x1="501.0" y1="243.4" x2="501.0" y2="275.7" stroke="#c8304b" stroke-width="2"/><circle cx="501.0" cy="259.5" r="8.2" fill="#c8304b"/><line x1="504.0" y1="232.8" x2="504.0" y2="265.5" stroke="#c8304b" stroke-width="2"/><circle cx="504.0" cy="249.2" r="8.2" fill="#c8304b"/><line x1="507.0" y1="210.2" x2="507.0" y2="243.2" stroke="#c8304b" stroke-width="2"/><circle cx="507.0" cy="226.7" r="8.2" fill="#c8304b"/><line x1="510.0" y1="218.2" x2="510.0" y2="251.6" stroke="#c8304b" stroke-width="2"/><circle cx="510.0" cy="234.9" r="8.2" fill="#c8304b"/><line x1="513.0" y1="225.5" x2="513.0" y2="259.2" stroke="#c8304b" stroke-width="2"/><circle cx="513.0" cy="242.4" r="8.2" fill="#c8304b"/><line x1="516.0" y1="234.9" x2="516.0" y2="269.0" stroke="#c8304b" stroke-width="2"/><circle cx="516.0" cy="252.0" r="8.2" fill="#c8304b"/><line x1="519.0" y1="241.4" x2="519.0" y2="275.8" stroke="#c8304b" stroke-width="2"/><circle cx="519.0" cy="258.6" r="8.2" fill="#c8304b"/><line x1="522.0" y1="221.6" x2="522.0" y2="256.4" stroke="#c8304b" stroke-width="2"/><circle cx="522.0" cy="239.0" r="8.2" fill="#c8304b"/><line x1="525.0" y1="242.7" x2="525.0" y2="277.9" stroke="#c8304b" stroke-width="2"/><circle cx="525.0" cy="260.3" r="8.2" fill="#c8304b"/><line x1="528.0" y1="255.3" x2="528.0" y2="290.8" stroke="#c8304b" stroke-width="2"/><circle cx="528.0" cy="273.0" r="8.2" fill="#c8304b"/><line x1="530.9" y1="265.8" x2="530.9" y2="301.7" stroke="#c8304b" stroke-width="2"/><circle cx="530.9" cy="283.7" r="8.2" fill="#c8304b"/><line x1="533.9" y1="278.2" x2="533.9" y2="314.5" stroke="#c8304b" stroke-width="2"/><circle cx="533.9" cy="296.3" r="8.2" fill="#c8304b"/><line x1="536.9" y1="264.5" x2="536.9" y2="301.2" stroke="#c8304b" stroke-width="2"/><circle cx="536.9" cy="282.8" r="8.2" fill="#c8304b"/><line x1="539.9" y1="248.5" x2="539.9" y2="285.5" stroke="#c8304b" stroke-width="2"/><circle cx="539.9" cy="267.0" r="8.2" fill="#c8304b"/><line x1="542.9" y1="258.4" x2="542.9" y2="295.8" stroke="#c8304b" stroke-width="2"/><circle cx="542.9" cy="277.1" r="8.2" fill="#c8304b"/><line x1="545.9" y1="247.9" x2="545.9" y2="285.7" stroke="#c8304b" stroke-width="2"/><circle cx="545.9" cy="266.8" r="8.2" fill="#c8304b"/><line x1="548.9" y1="239.2" x2="548.9" y2="277.4" stroke="#c8304b" stroke-width="2"/><circle cx="548.9" cy="258.3" r="8.2" fill="#c8304b"/><line x1="551.9" y1="227.2" x2="551.9" y2="265.8" stroke="#c8304b" stroke-width="2"/><circle cx="551.9" cy="246.5" r="8.2" fill="#c8304b"/><line x1="554.9" y1="245.1" x2="554.9" y2="284.2" stroke="#c8304b" stroke-width="2"/><circle cx="554.9" cy="264.6" r="8.2" fill="#c8304b"/><line x1="557.9" y1="224.5" x2="557.9" y2="264.0" stroke="#c8304b" stroke-width="2"/><circle cx="557.9" cy="244.2" r="8.2" fill="#c8304b"/><line x1="560.9" y1="234.4" x2="560.9" y2="274.3" stroke="#c8304b" stroke-width="2"/><circle cx="560.9" cy="254.3" r="8.2" fill="#c8304b"/><line x1="563.9" y1="214.1" x2="563.9" y2="254.4" stroke="#c8304b" stroke-width="2"/><circle cx="563.9" cy="234.3" r="8.2" fill="#c8304b"/><line x1="566.9" y1="243.9" x2="566.9" y2="284.7" stroke="#c8304b" stroke-width="2"/><circle cx="566.9" cy="264.3" r="8.2" fill="#c8304b"/><line x1="569.9" y1="232.3" x2="569.9" y2="273.4" stroke="#c8304b" stroke-width="2"/><circle cx="569.9" cy="252.9" r="8.2" fill="#c8304b"/><line x1="572.9" y1="226.1" x2="572.9" y2="267.7" stroke="#c8304b" stroke-width="2"/><circle cx="572.9" cy="246.9" r="8.2" fill="#c8304b"/><line x1="575.9" y1="259.5" x2="575.9" y2="301.5" stroke="#c8304b" stroke-width="2"/><circle cx="575.9" cy="280.5" r="8.2" fill="#c8304b"/><line x1="578.9" y1="268.3" x2="578.9" y2="310.8" stroke="#c8304b" stroke-width="2"/><circle cx="578.9" cy="289.5" r="8.2" fill="#c8304b"/><line x1="581.9" y1="258.1" x2="581.9" y2="301.0" stroke="#c8304b" stroke-width="2"/><circle cx="581.9" cy="279.5" r="8.2" fill="#c8304b"/><line x1="584.9" y1="259.4" x2="584.9" y2="302.7" stroke="#c8304b" stroke-width="2"/><circle cx="584.9" cy="281.1" r="8.2" fill="#c8304b"/><line x1="587.9" y1="269.9" x2="587.9" y2="313.7" stroke="#c8304b" stroke-width="2"/><circle cx="587.9" cy="291.8" r="8.2" fill="#c8304b"/><line x1="590.9" y1="240.5" x2="590.9" y2="284.8" stroke="#c8304b" stroke-width="2"/><circle cx="590.9" cy="262.6" r="8.2" fill="#c8304b"/><line x1="593.9" y1="214.2" x2="593.9" y2="259.0" stroke="#c8304b" stroke-width="2"/><circle cx="593.9" cy="236.6" r="8.2" fill="#c8304b"/><line x1="596.9" y1="235.0" x2="596.9" y2="280.2" stroke="#c8304b" stroke-width="2"/><circle cx="596.9" cy="257.6" r="8.2" fill="#c8304b"/><line x1="599.9" y1="227.1" x2="599.9" y2="272.8" stroke="#c8304b" stroke-width="2"/><circle cx="599.9" cy="249.9" r="8.2" fill="#c8304b"/><line x1="602.9" y1="236.0" x2="602.9" y2="282.2" stroke="#c8304b" stroke-width="2"/><circle cx="602.9" cy="259.1" r="8.2" fill="#c8304b"/><line x1="605.9" y1="212.3" x2="605.9" y2="259.0" stroke="#c8304b" stroke-width="2"/><circle cx="605.9" cy="235.7" r="8.2" fill="#c8304b"/><line x1="608.9" y1="239.7" x2="608.9" y2="286.8" stroke="#c8304b" stroke-width="2"/><circle cx="608.9" cy="263.3" r="8.2" fill="#c8304b"/><line x1="611.9" y1="242.0" x2="611.9" y2="289.6" stroke="#c8304b" stroke-width="2"/><circle cx="611.9" cy="265.8" r="8.2" fill="#c8304b"/><line x1="614.9" y1="208.6" x2="614.9" y2="256.7" stroke="#c8304b" stroke-width="2"/><circle cx="614.9" cy="232.6" r="8.2" fill="#c8304b"/><line x1="617.9" y1="253.2" x2="617.9" y2="301.9" stroke="#c8304b" stroke-width="2"/><circle cx="617.9" cy="277.5" r="8.2" fill="#c8304b"/><line x1="620.9" y1="226.8" x2="620.9" y2="276.0" stroke="#c8304b" stroke-width="2"/><circle cx="620.9" cy="251.4" r="8.2" fill="#c8304b"/><line x1="623.9" y1="225.2" x2="623.9" y2="274.9" stroke="#c8304b" stroke-width="2"/><circle cx="623.9" cy="250.1" r="8.2" fill="#c8304b"/><line x1="626.9" y1="251.2" x2="626.9" y2="301.4" stroke="#c8304b" stroke-width="2"/><circle cx="626.9" cy="276.3" r="8.2" fill="#c8304b"/><line x1="629.9" y1="247.1" x2="629.9" y2="297.9" stroke="#c8304b" stroke-width="2"/><circle cx="629.9" cy="272.5" r="8.2" fill="#c8304b"/><line x1="632.9" y1="226.2" x2="632.9" y2="277.5" stroke="#c8304b" stroke-width="2"/><circle cx="632.9" cy="251.8" r="8.2" fill="#c8304b"/><line x1="635.9" y1="253.4" x2="635.9" y2="305.2" stroke="#c8304b" stroke-width="2"/><circle cx="635.9" cy="279.3" r="8.2" fill="#c8304b"/><line x1="638.9" y1="253.3" x2="638.9" y2="305.7" stroke="#c8304b" stroke-width="2"/><circle cx="638.9" cy="279.5" r="8.2" fill="#c8304b"/><line x1="641.9" y1="259.1" x2="641.9" y2="312.0" stroke="#c8304b" stroke-width="2"/><circle cx="641.9" cy="285.5" r="8.2" fill="#c8304b"/><line x1="644.8" y1="224.9" x2="644.8" y2="278.4" stroke="#c8304b" stroke-width="2"/><circle cx="644.8" cy="251.7" r="8.2" fill="#c8304b"/><line x1="647.8" y1="190.9" x2="647.8" y2="244.9" stroke="#c8304b" stroke-width="2"/><circle cx="647.8" cy="217.9" r="8.2" fill="#c8304b"/>
<path d="M128.0,16.3 L128.3,16.5 L128.7,17.1 L129.0,18.2 L129.3,19.6 L129.6,21.5 L130.0,23.7 L130.3,26.4 L130.6,29.4 L130.9,32.9 L131.3,36.7 L131.6,40.9 L131.9,45.5 L132.2,50.4 L132.6,55.7 L132.9,61.3 L133.2,67.3 L133.5,73.6 L133.9,80.2 L134.2,87.1 L134.5,94.3 L134.8,101.7 L135.2,109.4 L135.5,117.4 L135.8,125.6 L136.2,134.0 L136.5,142.6 L136.8,151.4 L137.1,160.4 L137.5,169.5 L137.8,178.8 L138.1,188.1 L138.4,197.6 L138.8,207.2 L139.1,216.8 L139.4,226.5 L139.7,236.3 L140.1,246.0 L140.4,255.8 L140.7,265.5 L141.0,275.2 L141.4,284.8 L141.7,294.4 L142.0,303.9 L142.3,313.2 L142.7,322.5 L143.0,331.6 L143.3,340.6 L143.6,349.4 L144.0,358.0 L144.3,366.4 L144.6,374.6 L145.0,382.5 L145.3,390.2 L145.6,397.7 L145.9,404.8 L146.3,411.7 L146.6,418.3 L146.9,424.6 L147.2,430.5 L147.6,436.1 L147.9,441.4 L148.2,446.3 L148.5,450.9 L148.9,455.1 L149.2,458.9 L149.5,462.3 L149.8,465.3 L150.2,468.0 L150.5,470.2 L150.8,472.1 L151.1,473.5 L151.5,474.5 L151.8,475.1 L152.1,475.3 L152.5,475.1 L152.8,474.6 L153.1,473.7 L153.4,472.6 L153.8,471.1 L154.1,469.3 L154.4,467.1 L154.7,464.7 L155.1,461.9 L155.4,458.8 L155.7,455.4 L156.0,451.8 L156.4,447.8 L156.7,443.5 L157.0,439.0 L157.3,434.2 L157.7,429.2 L158.0,423.9 L158.3,418.4 L158.6,412.6 L159.0,406.6 L159.3,400.4 L159.6,394.0 L159.9,387.4 L160.3,380.7 L160.6,373.7 L160.9,366.7 L161.3,359.5 L161.6,352.1 L161.9,344.7 L162.2,337.1 L162.6,329.5 L162.9,321.8 L163.2,314.0 L163.5,306.2 L163.9,298.4 L164.2,290.5 L164.5,282.7 L164.8,274.8 L165.2,267.0 L165.5,259.2 L165.8,251.5 L166.1,243.8 L166.5,236.2 L166.8,228.7 L167.1,221.3 L167.4,214.1 L167.8,206.9 L168.1,199.9 L168.4,193.1 L168.8,186.4 L169.1,180.0 L169.4,173.7 L169.7,167.6 L170.1,161.7 L170.4,156.1 L170.7,150.7 L171.0,145.5 L171.4,140.6 L171.7,136.0 L172.0,131.6 L172.3,127.5 L172.7,123.7 L173.0,120.2 L173.3,116.9 L173.6,114.0 L174.0,111.4 L174.3,109.1 L174.6,107.2 L174.9,105.5 L175.3,104.2 L175.6,103.2 L175.9,102.5 L176.2,102.2 L176.6,102.2 L176.9,102.4 L177.2,102.9 L177.6,103.6 L177.9,104.6 L178.2,105.8 L178.5,107.2 L178.9,108.9 L179.2,110.7 L179.5,112.9 L179.8,115.2 L180.2,117.8 L180.5,120.5 L180.8,123.5 L181.1,126.7 L181.5,130.1 L181.8,133.6 L182.1,137.4 L182.4,141.4 L182.8,145.5 L183.1,149.8 L183.4,154.2 L183.7,158.8 L184.1,163.6 L184.4,168.5 L184.7,173.5 L185.1,178.6 L185.4,183.9 L185.7,189.2 L186.0,194.7 L186.4,200.2 L186.7,205.8 L187.0,211.5 L187.3,217.2 L187.7,223.0 L188.0,228.9 L188.3,234.7 L188.6,240.6 L189.0,246.5 L189.3,252.4 L189.6,258.2 L189.9,264.1 L190.3,269.9 L190.6,275.7 L190.9,281.5 L191.2,287.1 L191.6,292.7 L191.9,298.3 L192.2,303.7 L192.5,309.1 L192.9,314.3 L193.2,319.5 L193.5,324.5 L193.9,329.4 L194.2,334.1 L194.5,338.7 L194.8,343.2 L195.2,347.4 L195.5,351.6 L195.8,355.5 L196.1,359.2 L196.5,362.8 L196.8,366.2 L197.1,369.4 L197.4,372.3 L197.8,375.1 L198.1,377.7 L198.4,380.0 L198.7,382.1 L199.1,384.0 L199.4,385.6 L199.7,387.0 L200.0,388.2 L200.4,389.2 L200.7,389.9 L201.0,390.3 L201.4,390.6 L201.7,390.6 L202.0,390.4 L202.3,390.0 L202.7,389.4 L203.0,388.6 L203.3,387.7 L203.6,386.5 L204.0,385.2 L204.3,383.7 L204.6,382.0 L204.9,380.1 L205.3,378.1 L205.6,375.8 L205.9,373.5 L206.2,370.9 L206.6,368.2 L206.9,365.4 L207.2,362.3 L207.5,359.2 L207.9,355.9 L208.2,352.5 L208.5,348.9 L208.8,345.3 L209.2,341.5 L209.5,337.6 L209.8,333.6 L210.2,329.5 L210.5,325.3 L210.8,321.0 L211.1,316.7 L211.5,312.3 L211.8,307.8 L212.1,303.3 L212.4,298.8 L212.8,294.2 L213.1,289.5 L213.4,284.9 L213.7,280.2 L214.1,275.6 L214.4,270.9 L214.7,266.3 L215.0,261.6 L215.4,257.0 L215.7,252.5 L216.0,247.9 L216.3,243.5 L216.7,239.0 L217.0,234.7 L217.3,230.4 L217.7,226.2 L218.0,222.1 L218.3,218.1 L218.6,214.1 L219.0,210.3 L219.3,206.6 L219.6,203.0 L219.9,199.6 L220.3,196.2 L220.6,193.0 L220.9,190.0 L221.2,187.1 L221.6,184.4 L221.9,181.8 L222.2,179.3 L222.5,177.1 L222.9,175.0 L223.2,173.1 L223.5,171.3 L223.8,169.8 L224.2,168.4 L224.5,167.2 L224.8,166.2 L225.1,165.3 L225.5,164.7 L225.8,164.3 L226.1,164.0 L226.5,164.0 L226.8,164.0 L227.1,164.3 L227.4,164.6 L227.8,165.1 L228.1,165.7 L228.4,166.4 L228.7,167.3 L229.1,168.3 L229.4,169.4 L229.7,170.6 L230.0,171.9 L230.4,173.4 L230.7,174.9 L231.0,176.6 L231.3,178.4 L231.7,180.3 L232.0,182.3 L232.3,184.4 L232.6,186.6 L233.0,188.9 L233.3,191.3 L233.6,193.8 L234.0,196.4 L234.3,199.0 L234.6,201.7 L234.9,204.5 L235.3,207.3 L235.6,210.3 L235.9,213.2 L236.2,216.2 L236.6,219.3 L236.9,222.4 L237.2,225.6 L237.5,228.8 L237.9,232.0 L238.2,235.2 L238.5,238.5 L238.8,241.7 L239.2,245.0 L239.5,248.3 L239.8,251.6 L240.1,254.9 L240.5,258.1 L240.8,261.4 L241.1,264.6 L241.4,267.8 L241.8,270.9 L242.1,274.1 L242.4,277.2 L242.8,280.2 L243.1,283.2 L243.4,286.1 L243.7,289.0 L244.1,291.8 L244.4,294.5 L244.7,297.2 L245.0,299.8 L245.4,302.3 L245.7,304.7 L246.0,307.1 L246.3,309.3 L246.7,311.4 L247.0,313.5 L247.3,315.4 L247.6,317.3 L248.0,319.0 L248.3,320.6 L248.6,322.1 L248.9,323.5 L249.3,324.7 L249.6,325.9 L249.9,326.9 L250.3,327.8 L250.6,328.6 L250.9,329.2 L251.2,329.8 L251.6,330.2 L251.9,330.4 L252.2,330.6 L252.5,330.6 L252.9,330.5 L253.2,330.3 L253.5,330.0 L253.8,329.5 L254.2,329.0 L254.5,328.4 L254.8,327.7 L255.1,326.9 L255.5,325.9 L255.8,324.9 L256.1,323.8 L256.4,322.6 L256.8,321.3 L257.1,319.9 L257.4,318.4 L257.7,316.8 L258.1,315.2 L258.4,313.5 L258.7,311.7 L259.1,309.8 L259.4,307.9 L259.7,305.9 L260.0,303.8 L260.4,301.7 L260.7,299.6 L261.0,297.3 L261.3,295.1 L261.7,292.8 L262.0,290.5 L262.3,288.1 L262.6,285.7 L263.0,283.3 L263.3,280.9 L263.6,278.4 L263.9,276.0 L264.3,273.5 L264.6,271.1 L264.9,268.6 L265.2,266.2 L265.6,263.7 L265.9,261.3 L266.2,258.9 L266.6,256.6 L266.9,254.2 L267.2,251.9 L267.5,249.7 L267.9,247.5 L268.2,245.3 L268.5,243.2 L268.8,241.2 L269.2,239.2 L269.5,237.3 L269.8,235.4 L270.1,233.6 L270.5,231.9 L270.8,230.3 L271.1,228.7 L271.4,227.3 L271.8,225.9 L272.1,224.6 L272.4,223.4 L272.7,222.3 L273.1,221.3 L273.4,220.4 L273.7,219.5 L274.0,218.8 L274.4,218.2 L274.7,217.7 L275.0,217.3 L275.4,217.0 L275.7,216.8 L276.0,216.7 L276.3,216.8 L276.7,216.8 L277.0,217.0 L277.3,217.3 L277.6,217.6 L278.0,218.0 L278.3,218.5 L278.6,219.0 L278.9,219.7 L279.3,220.4 L279.6,221.1 L279.9,222.0 L280.2,222.9 L280.6,223.9 L280.9,224.9 L281.2,226.0 L281.5,227.2 L281.9,228.4 L282.2,229.6 L282.5,231.0 L282.9,232.3 L283.2,233.8 L283.5,235.2 L283.8,236.7 L284.2,238.2 L284.5,239.8 L284.8,241.4 L285.1,243.0 L285.5,244.7 L285.8,246.4 L286.1,248.1 L286.4,249.8 L286.8,251.5 L287.1,253.2 L287.4,254.9 L287.7,256.6 L288.1,258.3 L288.4,260.1 L288.7,261.7 L289.0,263.4 L289.4,265.1 L289.7,266.7 L290.0,268.3 L290.3,269.9 L290.7,271.5 L291.0,273.0 L291.3,274.5 L291.7,275.9 L292.0,277.3 L292.3,278.6 L292.6,279.9 L293.0,281.2 L293.3,282.3 L293.6,283.5 L293.9,284.5 L294.3,285.5 L294.6,286.5 L294.9,287.3 L295.2,288.1 L295.6,288.9 L295.9,289.5 L296.2,290.1 L296.5,290.6 L296.9,291.0 L297.2,291.4 L297.5,291.7 L297.8,291.9 L298.2,292.0 L298.5,292.0 L298.8,292.0 L299.2,292.0 L299.5,291.8 L299.8,291.7 L300.1,291.5 L300.5,291.2 L300.8,290.9 L301.1,290.6 L301.4,290.2 L301.8,289.8 L302.1,289.3 L302.4,288.8 L302.7,288.3 L303.1,287.7 L303.4,287.1 L303.7,286.4 L304.0,285.7 L304.4,285.0 L304.7,284.2 L305.0,283.4 L305.3,282.6 L305.7,281.7 L306.0,280.8 L306.3,279.9 L306.7,278.9 L307.0,278.0 L307.3,277.0 L307.6,276.0 L308.0,275.0 L308.3,273.9 L308.6,272.9 L308.9,271.8 L309.3,270.8 L309.6,269.7 L309.9,268.6 L310.2,267.5 L310.6,266.4 L310.9,265.3 L311.2,264.2 L311.5,263.1 L311.9,262.1 L312.2,261.0 L312.5,259.9 L312.8,258.9 L313.2,257.8 L313.5,256.8 L313.8,255.8 L314.1,254.8 L314.5,253.8 L314.8,252.9 L315.1,252.0 L315.5,251.1 L315.8,250.2 L316.1,249.4 L316.4,248.5 L316.8,247.8 L317.1,247.0 L317.4,246.3 L317.7,245.6 L318.1,245.0 L318.4,244.4 L318.7,243.8 L319.0,243.3 L319.4,242.8 L319.7,242.4 L320.0,242.0 L320.3,241.7 L320.7,241.3 L321.0,241.1 L321.3,240.9 L321.6,240.7 L322.0,240.6 L322.3,240.5 L322.6,240.5 L323.0,240.5 L323.3,240.5 L323.6,240.6 L323.9,240.7 L324.3,240.9 L324.6,241.1 L324.9,241.4 L325.2,241.6 L325.6,242.0 L325.9,242.3 L326.2,242.7 L326.5,243.2 L326.9,243.6 L327.2,244.1 L327.5,244.6 L327.8,245.2 L328.2,245.8 L328.5,246.4 L328.8,247.1 L329.1,247.8 L329.5,248.5 L329.8,249.2 L330.1,250.0 L330.4,250.7 L330.8,251.5 L331.1,252.3 L331.4,253.2 L331.8,254.0 L332.1,254.9 L332.4,255.8 L332.7,256.7 L333.1,257.6 L333.4,258.5 L333.7,259.4 L334.0,260.3 L334.4,261.2 L334.7,262.1 L335.0,263.0 L335.3,263.9 L335.7,264.8 L336.0,265.7 L336.3,266.6 L336.6,267.5 L337.0,268.4 L337.3,269.3 L337.6,270.1 L337.9,270.9 L338.3,271.7 L338.6,272.5 L338.9,273.3 L339.3,274.1 L339.6,274.8 L339.9,275.5 L340.2,276.2 L340.6,276.8 L340.9,277.4 L341.2,278.0 L341.5,278.6 L341.9,279.1 L342.2,279.6 L342.5,280.1 L342.8,280.5 L343.2,280.9 L343.5,281.2 L343.8,281.5 L344.1,281.8 L344.5,282.1 L344.8,282.3 L345.1,282.4 L345.4,282.5 L345.8,282.6 L346.1,282.7 L346.4,282.7 L346.7,282.6 L347.1,282.5 L347.4,282.4 L347.7,282.2 L348.1,282.0 L348.4,281.8 L348.7,281.5 L349.0,281.1 L349.4,280.7 L349.7,280.3 L350.0,279.8 L350.3,279.3 L350.7,278.8 L351.0,278.2 L351.3,277.6 L351.6,277.0 L352.0,276.3 L352.3,275.6 L352.6,274.8 L352.9,274.1 L353.3,273.3 L353.6,272.5 L353.9,271.6 L354.2,270.8 L354.6,269.9 L354.9,269.0 L355.2,268.1 L355.6,267.2 L355.9,266.3 L356.2,265.3 L356.5,264.4 L356.9,263.5 L357.2,262.5 L357.5,261.6 L357.8,260.6 L358.2,259.7 L358.5,258.7 L358.8,257.8 L359.1,256.9 L359.5,256.0 L359.8,255.1 L360.1,254.2 L360.4,253.4 L360.8,252.5 L361.1,251.7 L361.4,250.9 L361.7,250.1 L362.1,249.4 L362.4,248.7 L362.7,248.0 L363.0,247.4 L363.4,246.8 L363.7,246.2 L364.0,245.6 L364.4,245.1 L364.7,244.7 L365.0,244.2 L365.3,243.8 L365.7,243.5 L366.0,243.2 L366.3,242.9 L366.6,242.7 L367.0,242.5 L367.3,242.4 L367.6,242.3 L367.9,242.2 L368.3,242.2 L368.6,242.3 L368.9,242.4 L369.2,242.5 L369.6,242.6 L369.9,242.8 L370.2,243.1 L370.5,243.4 L370.9,243.7 L371.2,244.1 L371.5,244.4 L371.9,244.9 L372.2,245.4 L372.5,245.9 L372.8,246.4 L373.2,247.0 L373.5,247.6 L373.8,248.2 L374.1,248.9 L374.5,249.6 L374.8,250.3 L375.1,251.0 L375.4,251.8 L375.8,252.6 L376.1,253.4 L376.4,254.2 L376.7,255.1 L377.1,256.0 L377.4,256.8 L377.7,257.7 L378.0,258.6 L378.4,259.6 L378.7,260.5 L379.0,261.4 L379.3,262.3 L379.7,263.3 L380.0,264.2 L380.3,265.1 L380.7,266.1 L381.0,267.0 L381.3,267.9 L381.6,268.8 L382.0,269.7 L382.3,270.6 L382.6,271.4 L382.9,272.3 L383.3,273.1 L383.6,273.9 L383.9,274.7 L384.2,275.5 L384.6,276.2 L384.9,277.0 L385.2,277.7 L385.5,278.3 L385.9,279.0 L386.2,279.6 L386.5,280.1 L386.8,280.7 L387.2,281.2 L387.5,281.7 L387.8,282.1 L388.2,282.5 L388.5,282.9 L388.8,283.2 L389.1,283.5 L389.5,283.7 L389.8,283.9 L390.1,284.1 L390.4,284.2 L390.8,284.3 L391.1,284.3 L391.4,284.3 L391.7,284.3 L392.1,284.2 L392.4,284.1 L392.7,283.9 L393.0,283.8 L393.4,283.5 L393.7,283.3 L394.0,283.0 L394.3,282.6 L394.7,282.2 L395.0,281.8 L395.3,281.4 L395.6,280.9 L396.0,280.4 L396.3,279.9 L396.6,279.3 L397.0,278.7 L397.3,278.1 L397.6,277.4 L397.9,276.7 L398.3,276.0 L398.6,275.3 L398.9,274.5 L399.2,273.7 L399.6,272.9 L399.9,272.1 L400.2,271.3 L400.5,270.5 L400.9,269.6 L401.2,268.7 L401.5,267.8 L401.8,266.9 L402.2,266.0 L402.5,265.1 L402.8,264.2 L403.1,263.3 L403.5,262.4 L403.8,261.4 L404.1,260.5 L404.5,259.6 L404.8,258.7 L405.1,257.8 L405.4,256.9 L405.8,256.0 L406.1,255.1 L406.4,254.3 L406.7,253.4 L407.1,252.6 L407.4,251.8 L407.7,251.0 L408.0,250.2 L408.4,249.5 L408.7,248.7 L409.0,248.0 L409.3,247.3 L409.7,246.7 L410.0,246.1 L410.3,245.5 L410.6,244.9 L411.0,244.4 L411.3,243.8 L411.6,243.4 L411.9,242.9 L412.3,242.5 L412.6,242.2 L412.9,241.8 L413.3,241.5 L413.6,241.2 L413.9,241.0 L414.2,240.8 L414.6,240.7 L414.9,240.6 L415.2,240.5 L415.5,240.5 L415.9,240.5 L416.2,240.5 L416.5,240.6 L416.8,240.7 L417.2,240.8 L417.5,241.0 L417.8,241.3 L418.1,241.5 L418.5,241.8 L418.8,242.2 L419.1,242.6 L419.4,243.0 L419.8,243.4 L420.1,243.9 L420.4,244.4 L420.8,244.9 L421.1,245.5 L421.4,246.1 L421.7,246.7 L422.1,247.4 L422.4,248.1 L422.7,248.8 L423.0,249.5 L423.4,250.2 L423.7,251.0 L424.0,251.8 L424.3,252.6 L424.7,253.4 L425.0,254.3 L425.3,255.1 L425.6,256.0 L426.0,256.8 L426.3,257.7 L426.6,258.6 L426.9,259.5 L427.3,260.4 L427.6,261.3 L427.9,262.2 L428.2,263.1 L428.6,263.9 L428.9,264.8 L429.2,265.7 L429.6,266.6 L429.9,267.4 L430.2,268.3 L430.5,269.1 L430.9,269.9 L431.2,270.7 L431.5,271.5 L431.8,272.3 L432.2,273.0 L432.5,273.8 L432.8,274.5 L433.1,275.1 L433.5,275.8 L433.8,276.4 L434.1,277.0 L434.4,277.6 L434.8,278.1 L435.1,278.6 L435.4,279.1 L435.7,279.5 L436.1,279.9 L436.4,280.3 L436.7,280.6 L437.1,280.9 L437.4,281.2 L437.7,281.4 L438.0,281.6 L438.4,281.7 L438.7,281.9 L439.0,281.9 L439.3,282.0 L439.7,282.0 L440.0,281.9 L440.3,281.8 L440.6,281.7 L441.0,281.6 L441.3,281.4 L441.6,281.2 L441.9,280.9 L442.3,280.6 L442.6,280.3 L442.9,279.9 L443.2,279.5 L443.6,279.1 L443.9,278.6 L444.2,278.1 L444.5,277.6 L444.9,277.0 L445.2,276.4 L445.5,275.8 L445.9,275.2 L446.2,274.5 L446.5,273.8 L446.8,273.1 L447.2,272.4 L447.5,271.6 L447.8,270.9 L448.1,270.1 L448.5,269.3 L448.8,268.4 L449.1,267.6 L449.4,266.8 L449.8,265.9 L450.1,265.0 L450.4,264.2 L450.7,263.3 L451.1,262.4 L451.4,261.5 L451.7,260.7 L452.0,259.8 L452.4,258.9 L452.7,258.0 L453.0,257.2 L453.4,256.3 L453.7,255.4 L454.0,254.6 L454.3,253.8 L454.7,253.0 L455.0,252.2 L455.3,251.4 L455.6,250.6 L456.0,249.9 L456.3,249.1 L456.6,248.4 L456.9,247.7 L457.3,247.1 L457.6,246.4 L457.9,245.8 L458.2,245.3 L458.6,244.7 L458.9,244.2 L459.2,243.7 L459.5,243.2 L459.9,242.8 L460.2,242.4 L460.5,242.1 L460.8,241.7 L461.2,241.5 L461.5,241.2 L461.8,241.0 L462.2,240.8 L462.5,240.7 L462.8,240.6 L463.1,240.5 L463.5,240.5 L463.8,240.5 L464.1,240.5 L464.4,240.6 L464.8,240.7 L465.1,240.9 L465.4,241.1 L465.7,241.3 L466.1,241.6 L466.4,241.9 L466.7,242.2 L467.0,242.6 L467.4,243.0 L467.7,243.5 L468.0,243.9 L468.3,244.4 L468.7,245.0 L469.0,245.6 L469.3,246.2 L469.7,246.8 L470.0,247.4 L470.3,248.1 L470.6,248.8 L471.0,249.6 L471.3,250.3 L471.6,251.1 L471.9,251.9 L472.3,252.7 L472.6,253.5 L472.9,254.3 L473.2,255.2 L473.6,256.0 L473.9,256.9 L474.2,257.8 L474.5,258.7 L474.9,259.6 L475.2,260.5 L475.5,261.4 L475.8,262.2 L476.2,263.1 L476.5,264.0 L476.8,264.9 L477.2,265.8 L477.5,266.7 L477.8,267.5 L478.1,268.4 L478.5,269.2 L478.8,270.0 L479.1,270.8 L479.4,271.6 L479.8,272.4 L480.1,273.1 L480.4,273.8 L480.7,274.5 L481.1,275.2 L481.4,275.8 L481.7,276.5 L482.0,277.0 L482.4,277.6 L482.7,278.1 L483.0,278.6 L483.3,279.1 L483.7,279.5 L484.0,279.9 L484.3,280.3 L484.6,280.6 L485.0,280.9 L485.3,281.2 L485.6,281.4 L486.0,281.6 L486.3,281.8 L486.6,281.9 L486.9,281.9 L487.3,282.0 L487.6,282.0 L487.9,281.9 L488.2,281.8 L488.6,281.7 L488.9,281.5 L489.2,281.3 L489.5,281.1 L489.9,280.8 L490.2,280.5 L490.5,280.2 L490.8,279.8 L491.2,279.4 L491.5,278.9 L491.8,278.5 L492.1,277.9 L492.5,277.4 L492.8,276.8 L493.1,276.2 L493.5,275.6 L493.8,274.9 L494.1,274.3 L494.4,273.5 L494.8,272.8 L495.1,272.1 L495.4,271.3 L495.7,270.5 L496.1,269.7 L496.4,268.9 L496.7,268.0 L497.0,267.2 L497.4,266.3 L497.7,265.5 L498.0,264.6 L498.3,263.7 L498.7,262.8 L499.0,261.9 L499.3,261.0 L499.6,260.1 L500.0,259.2 L500.3,258.3 L500.6,257.5 L500.9,256.6 L501.3,255.7 L501.6,254.9 L501.9,254.0 L502.3,253.2 L502.6,252.4 L502.9,251.6 L503.2,250.8 L503.6,250.0 L503.9,249.3 L504.2,248.6 L504.5,247.9 L504.9,247.2 L505.2,246.5 L505.5,245.9 L505.8,245.3 L506.2,244.8 L506.5,244.2 L506.8,243.7 L507.1,243.3 L507.5,242.8 L507.8,242.4 L508.1,242.1 L508.4,241.8 L508.8,241.5 L509.1,241.2 L509.4,241.0 L509.8,240.8 L510.1,240.7 L510.4,240.6 L510.7,240.5 L511.1,240.5 L511.4,240.5 L511.7,240.5 L512.0,240.6 L512.4,240.7 L512.7,240.9 L513.0,241.1 L513.3,241.3 L513.7,241.6 L514.0,241.9 L514.3,242.2 L514.6,242.6 L515.0,243.0 L515.3,243.4 L515.6,243.9 L515.9,244.4 L516.3,244.9 L516.6,245.5 L516.9,246.1 L517.2,246.7 L517.6,247.3 L517.9,248.0 L518.2,248.7 L518.6,249.4 L518.9,250.1 L519.2,250.9 L519.5,251.7 L519.9,252.5 L520.2,253.3 L520.5,254.1 L520.8,254.9 L521.2,255.8 L521.5,256.6 L521.8,257.5 L522.1,258.4 L522.5,259.2 L522.8,260.1 L523.1,261.0 L523.4,261.9 L523.8,262.8 L524.1,263.6 L524.4,264.5 L524.7,265.4 L525.1,266.2 L525.4,267.1 L525.7,267.9 L526.1,268.8 L526.4,269.6 L526.7,270.4 L527.0,271.1 L527.4,271.9 L527.7,272.7 L528.0,273.4 L528.3,274.1 L528.7,274.8 L529.0,275.4 L529.3,276.1 L529.6,276.7 L530.0,277.2 L530.3,277.8 L530.6,278.3 L530.9,278.8 L531.3,279.2 L531.6,279.6 L531.9,280.0 L532.2,280.4 L532.6,280.7 L532.9,281.0 L533.2,281.2 L533.5,281.5 L533.9,281.6 L534.2,281.8 L534.5,281.9 L534.9,281.9 L535.2,282.0 L535.5,281.9 L535.8,281.9 L536.2,281.8 L536.5,281.7 L536.8,281.5 L537.1,281.3 L537.5,281.0 L537.8,280.7 L538.1,280.4 L538.4,280.0 L538.8,279.6 L539.1,279.1 L539.4,278.6 L539.7,278.1 L540.1,277.6 L540.4,277.0 L540.7,276.3 L541.0,275.7 L541.4,275.0 L541.7,274.3 L542.0,273.6 L542.4,272.8 L542.7,272.0 L543.0,271.2 L543.3,270.4 L543.7,269.5 L544.0,268.7 L544.3,267.8 L544.6,266.9 L545.0,266.0 L545.3,265.1 L545.6,264.2 L545.9,263.3 L546.3,262.3 L546.6,261.4 L546.9,260.5 L547.2,259.5 L547.6,258.6 L547.9,257.7 L548.2,256.8 L548.5,255.9 L548.9,255.0 L549.2,254.1 L549.5,253.2 L549.8,252.4 L550.2,251.5 L550.5,250.7 L550.8,249.9 L551.2,249.1 L551.5,248.4 L551.8,247.7 L552.1,247.0 L552.5,246.3 L552.8,245.7 L553.1,245.1 L553.4,244.5 L553.8,244.0 L554.1,243.5 L554.4,243.0 L554.7,242.6 L555.1,242.2 L555.4,241.8 L555.7,241.5 L556.0,241.2 L556.4,241.0 L556.7,240.8 L557.0,240.7 L557.3,240.6 L557.7,240.5 L558.0,240.5 L558.3,240.5 L558.7,240.5 L559.0,240.6 L559.3,240.7 L559.6,240.9 L560.0,241.1 L560.3,241.3 L560.6,241.6 L560.9,241.9 L561.3,242.2 L561.6,242.6 L561.9,243.0 L562.2,243.5 L562.6,243.9 L562.9,244.4 L563.2,245.0 L563.5,245.5 L563.9,246.1 L564.2,246.7 L564.5,247.4 L564.8,248.1 L565.2,248.8 L565.5,249.5 L565.8,250.2 L566.1,251.0 L566.5,251.7 L566.8,252.5 L567.1,253.3 L567.5,254.2 L567.8,255.0 L568.1,255.8 L568.4,256.7 L568.8,257.6 L569.1,258.4 L569.4,259.3 L569.7,260.2 L570.1,261.1 L570.4,262.0 L570.7,262.8 L571.0,263.7 L571.4,264.6 L571.7,265.5 L572.0,266.3 L572.3,267.2 L572.7,268.0 L573.0,268.8 L573.3,269.6 L573.6,270.4 L574.0,271.2 L574.3,272.0 L574.6,272.7 L575.0,273.4 L575.3,274.1 L575.6,274.8 L575.9,275.5 L576.3,276.1 L576.6,276.7 L576.9,277.3 L577.2,277.8 L577.6,278.3 L577.9,278.8 L578.2,279.3 L578.5,279.7 L578.9,280.1 L579.2,280.4 L579.5,280.7 L579.8,281.0 L580.2,281.3 L580.5,281.5 L580.8,281.6 L581.1,281.8 L581.5,281.9 L581.8,281.9 L582.1,282.0 L582.4,281.9 L582.8,281.9 L583.1,281.8 L583.4,281.7 L583.8,281.5 L584.1,281.3 L584.4,281.0 L584.7,280.7 L585.1,280.4 L585.4,280.1 L585.7,279.7 L586.0,279.2 L586.4,278.8 L586.7,278.3 L587.0,277.7 L587.3,277.2 L587.7,276.6 L588.0,276.0 L588.3,275.3 L588.6,274.6 L589.0,273.9 L589.3,273.2 L589.6,272.4 L589.9,271.7 L590.3,270.9 L590.6,270.1 L590.9,269.2 L591.3,268.4 L591.6,267.5 L591.9,266.7 L592.2,265.8 L592.6,264.9 L592.9,264.0 L593.2,263.1 L593.5,262.2 L593.9,261.3 L594.2,260.4 L594.5,259.5 L594.8,258.6 L595.2,257.7 L595.5,256.8 L595.8,255.9 L596.1,255.1 L596.5,254.2 L596.8,253.3 L597.1,252.5 L597.4,251.7 L597.8,250.9 L598.1,250.1 L598.4,249.4 L598.7,248.6 L599.1,247.9 L599.4,247.2 L599.7,246.6 L600.1,246.0 L600.4,245.4 L600.7,244.8 L601.0,244.3 L601.4,243.7 L601.7,243.3 L602.0,242.8 L602.3,242.4 L602.7,242.1 L603.0,241.7 L603.3,241.4 L603.6,241.2 L604.0,241.0 L604.3,240.8 L604.6,240.6 L604.9,240.5 L605.3,240.5 L605.6,240.5 L605.9,240.5 L606.2,240.5 L606.6,240.6 L606.9,240.7 L607.2,240.9 L607.6,241.1 L607.9,241.3 L608.2,241.6 L608.5,241.9 L608.9,242.3 L609.2,242.6 L609.5,243.1 L609.8,243.5 L610.2,244.0 L610.5,244.5 L610.8,245.0 L611.1,245.6 L611.5,246.2 L611.8,246.8 L612.1,247.4 L612.4,248.1 L612.8,248.8 L613.1,249.5 L613.4,250.3 L613.7,251.0 L614.1,251.8 L614.4,252.6 L614.7,253.4 L615.0,254.2 L615.4,255.1 L615.7,255.9 L616.0,256.8 L616.4,257.6 L616.7,258.5 L617.0,259.4 L617.3,260.3 L617.7,261.2 L618.0,262.0 L618.3,262.9 L618.6,263.8 L619.0,264.7 L619.3,265.5 L619.6,266.4 L619.9,267.2 L620.3,268.1 L620.6,268.9 L620.9,269.7 L621.2,270.5 L621.6,271.3 L621.9,272.0 L622.2,272.8 L622.5,273.5 L622.9,274.2 L623.2,274.9 L623.5,275.5 L623.9,276.2 L624.2,276.8 L624.5,277.3 L624.8,277.9 L625.2,278.4 L625.5,278.9 L625.8,279.3 L626.1,279.7 L626.5,280.1 L626.8,280.5 L627.1,280.8 L627.4,281.0 L627.8,281.3 L628.1,281.5 L628.4,281.7 L628.7,281.8 L629.1,281.9 L629.4,281.9 L629.7,282.0 L630.0,281.9 L630.4,281.9 L630.7,281.8 L631.0,281.7 L631.3,281.5 L631.7,281.3 L632.0,281.0 L632.3,280.7 L632.7,280.4 L633.0,280.0 L633.3,279.6 L633.6,279.2 L634.0,278.7 L634.3,278.2 L634.6,277.7 L634.9,277.1 L635.3,276.5 L635.6,275.9 L635.9,275.2 L636.2,274.6 L636.6,273.9 L636.9,273.1 L637.2,272.4 L637.5,271.6 L637.9,270.8 L638.2,270.0 L638.5,269.2 L638.8,268.3 L639.2,267.5 L639.5,266.6 L639.8,265.7 L640.2,264.8 L640.5,263.9 L640.8,263.0 L641.1,262.1 L641.5,261.2 L641.8,260.3 L642.1,259.4 L642.4,258.5 L642.8,257.6 L643.1,256.7 L643.4,255.8 L643.7,255.0 L644.1,254.1 L644.4,253.3 L644.7,252.4 L645.0,251.6 L645.4,250.8 L645.7,250.1 L646.0,249.3 L646.3,248.6 L646.7,247.9 L647.0,247.2 L647.3,246.5 L647.6,245.9 L648.0,245.3 L648.3,244.7 L648.6,244.2 L649.0,243.7 L649.3,243.2" fill="none" stroke="rgba(221,105,126,0.8)" stroke-width="6" stroke-linejoin="round"/>
</g>
<rect x="446.1" y="43.4" width="15.8" height="15.8" fill="#55499a"/>
<line x1="490.5" y1="51.1" x2="524" y2="51.1" stroke="rgba(135,122,193,0.8)" stroke-width="5.8" stroke-linecap="round"/>
<text x="533.5" y="64" font-size="38">10 K</text>
<circle cx="453.4" cy="96.2" r="8.4" fill="#c8304b"/>
<line x1="490.5" y1="96.3" x2="524" y2="96.3" stroke="rgba(221,105,126,0.8)" stroke-width="5.8" stroke-linecap="round"/>
<text x="533.5" y="109.5" font-size="38" textLength="85" lengthAdjust="spacing">1.5 K</text>
<g clip-path="url(#cb)">
<rect x="887.5" y="513.5" width="15.8" height="15.8" fill="#55499a"/><rect x="892.7" y="514.8" width="15.8" height="15.8" fill="#55499a"/><rect x="897.9" y="513.7" width="15.8" height="15.8" fill="#55499a"/><rect x="903.1" y="507.9" width="15.8" height="15.8" fill="#55499a"/><rect x="908.3" y="504.5" width="15.8" height="15.8" fill="#55499a"/><rect x="913.5" y="505.6" width="15.8" height="15.8" fill="#55499a"/><rect x="918.7" y="511.2" width="15.8" height="15.8" fill="#55499a"/><rect x="923.9" y="512.2" width="15.8" height="15.8" fill="#55499a"/><rect x="929.1" y="506.3" width="15.8" height="15.8" fill="#55499a"/><rect x="934.3" y="501.7" width="15.8" height="15.8" fill="#55499a"/><rect x="939.5" y="502.9" width="15.8" height="15.8" fill="#55499a"/><rect x="944.7" y="507.7" width="15.8" height="15.8" fill="#55499a"/><rect x="949.9" y="511.1" width="15.8" height="15.8" fill="#55499a"/><rect x="955.1" y="509.1" width="15.8" height="15.8" fill="#55499a"/><rect x="960.3" y="501.1" width="15.8" height="15.8" fill="#55499a"/><rect x="965.5" y="499.2" width="15.8" height="15.8" fill="#55499a"/><rect x="970.7" y="500.9" width="15.8" height="15.8" fill="#55499a"/><rect x="975.9" y="507.4" width="15.8" height="15.8" fill="#55499a"/><rect x="981.1" y="501.0" width="15.8" height="15.8" fill="#55499a"/><rect x="986.3" y="495.5" width="15.8" height="15.8" fill="#55499a"/><rect x="991.5" y="496.4" width="15.8" height="15.8" fill="#55499a"/><rect x="996.7" y="499.8" width="15.8" height="15.8" fill="#55499a"/><rect x="1001.9" y="502.8" width="15.8" height="15.8" fill="#55499a"/><rect x="1007.1" y="499.0" width="15.8" height="15.8" fill="#55499a"/><rect x="1012.3" y="494.6" width="15.8" height="15.8" fill="#55499a"/><rect x="1017.5" y="489.8" width="15.8" height="15.8" fill="#55499a"/><rect x="1022.7" y="493.7" width="15.8" height="15.8" fill="#55499a"/><rect x="1027.9" y="500.4" width="15.8" height="15.8" fill="#55499a"/><rect x="1033.1" y="496.8" width="15.8" height="15.8" fill="#55499a"/><rect x="1038.3" y="488.8" width="15.8" height="15.8" fill="#55499a"/><rect x="1043.5" y="481.5" width="15.8" height="15.8" fill="#55499a"/><rect x="1048.7" y="482.3" width="15.8" height="15.8" fill="#55499a"/><rect x="1053.9" y="485.3" width="15.8" height="15.8" fill="#55499a"/><rect x="1059.1" y="484.4" width="15.8" height="15.8" fill="#55499a"/><rect x="1064.3" y="481.1" width="15.8" height="15.8" fill="#55499a"/><rect x="1069.5" y="472.6" width="15.8" height="15.8" fill="#55499a"/><rect x="1074.7" y="474.4" width="15.8" height="15.8" fill="#55499a"/><rect x="1079.9" y="476.5" width="15.8" height="15.8" fill="#55499a"/><rect x="1085.1" y="475.5" width="15.8" height="15.8" fill="#55499a"/><rect x="1090.3" y="464.7" width="15.8" height="15.8" fill="#55499a"/><rect x="1095.5" y="453.9" width="15.8" height="15.8" fill="#55499a"/><rect x="1100.7" y="442.9" width="15.8" height="15.8" fill="#55499a"/><rect x="1105.9" y="437.1" width="15.8" height="15.8" fill="#55499a"/><rect x="1111.1" y="428.1" width="15.8" height="15.8" fill="#55499a"/><rect x="1116.3" y="409.6" width="15.8" height="15.8" fill="#55499a"/><rect x="1183.9" y="393.8" width="15.8" height="15.8" fill="#55499a"/><rect x="1189.1" y="420.7" width="15.8" height="15.8" fill="#55499a"/><rect x="1194.3" y="438.1" width="15.8" height="15.8" fill="#55499a"/><rect x="1199.5" y="443.6" width="15.8" height="15.8" fill="#55499a"/><rect x="1204.7" y="445.0" width="15.8" height="15.8" fill="#55499a"/><rect x="1209.9" y="444.7" width="15.8" height="15.8" fill="#55499a"/><rect x="1215.1" y="454.9" width="15.8" height="15.8" fill="#55499a"/><rect x="1220.3" y="464.2" width="15.8" height="15.8" fill="#55499a"/><rect x="1225.5" y="466.4" width="15.8" height="15.8" fill="#55499a"/><rect x="1230.7" y="463.3" width="15.8" height="15.8" fill="#55499a"/><rect x="1235.9" y="466.2" width="15.8" height="15.8" fill="#55499a"/><rect x="1241.1" y="471.3" width="15.8" height="15.8" fill="#55499a"/><rect x="1246.3" y="475.8" width="15.8" height="15.8" fill="#55499a"/><rect x="1251.5" y="477.1" width="15.8" height="15.8" fill="#55499a"/><rect x="1256.7" y="475.2" width="15.8" height="15.8" fill="#55499a"/><rect x="1261.9" y="472.1" width="15.8" height="15.8" fill="#55499a"/><rect x="1267.1" y="472.5" width="15.8" height="15.8" fill="#55499a"/><rect x="1272.3" y="484.6" width="15.8" height="15.8" fill="#55499a"/><rect x="1277.5" y="486.4" width="15.8" height="15.8" fill="#55499a"/><rect x="1282.7" y="484.3" width="15.8" height="15.8" fill="#55499a"/><rect x="1287.9" y="478.1" width="15.8" height="15.8" fill="#55499a"/><rect x="1293.1" y="480.4" width="15.8" height="15.8" fill="#55499a"/><rect x="1298.3" y="485.7" width="15.8" height="15.8" fill="#55499a"/><rect x="1303.5" y="495.0" width="15.8" height="15.8" fill="#55499a"/><rect x="1308.7" y="488.2" width="15.8" height="15.8" fill="#55499a"/><rect x="1313.9" y="486.2" width="15.8" height="15.8" fill="#55499a"/><rect x="1319.1" y="483.2" width="15.8" height="15.8" fill="#55499a"/><rect x="1324.3" y="490.2" width="15.8" height="15.8" fill="#55499a"/><rect x="1329.5" y="492.2" width="15.8" height="15.8" fill="#55499a"/><rect x="1334.7" y="492.6" width="15.8" height="15.8" fill="#55499a"/><rect x="1339.9" y="489.6" width="15.8" height="15.8" fill="#55499a"/><rect x="1345.1" y="484.9" width="15.8" height="15.8" fill="#55499a"/><rect x="1350.3" y="493.2" width="15.8" height="15.8" fill="#55499a"/><rect x="1355.5" y="497.6" width="15.8" height="15.8" fill="#55499a"/><rect x="1360.7" y="495.3" width="15.8" height="15.8" fill="#55499a"/><rect x="1365.9" y="491.1" width="15.8" height="15.8" fill="#55499a"/><rect x="1371.1" y="488.3" width="15.8" height="15.8" fill="#55499a"/><rect x="1376.3" y="492.4" width="15.8" height="15.8" fill="#55499a"/><rect x="1381.5" y="497.6" width="15.8" height="15.8" fill="#55499a"/><rect x="1386.7" y="498.4" width="15.8" height="15.8" fill="#55499a"/><rect x="1391.9" y="494.7" width="15.8" height="15.8" fill="#55499a"/><rect x="1397.1" y="489.5" width="15.8" height="15.8" fill="#55499a"/><rect x="1402.3" y="491.0" width="15.8" height="15.8" fill="#55499a"/><rect x="1407.5" y="498.8" width="15.8" height="15.8" fill="#55499a"/><rect x="1412.7" y="502.8" width="15.8" height="15.8" fill="#55499a"/><rect x="1417.9" y="495.5" width="15.8" height="15.8" fill="#55499a"/><rect x="1423.1" y="492.8" width="15.8" height="15.8" fill="#55499a"/><rect x="1428.3" y="492.1" width="15.8" height="15.8" fill="#55499a"/><rect x="1433.5" y="497.1" width="15.8" height="15.8" fill="#55499a"/><rect x="1123.1" y="392.1" width="15.8" height="15.8" fill="#55499a"/><rect x="1132.9" y="235.7" width="15.8" height="15.8" fill="#55499a"/><rect x="1137.7" y="142.7" width="15.8" height="15.8" fill="#55499a"/><rect x="1142.6" y="72.6" width="15.8" height="15.8" fill="#55499a"/><rect x="1147.5" y="39.6" width="15.8" height="15.8" fill="#55499a"/><rect x="1154.1" y="49.8" width="15.8" height="15.8" fill="#55499a"/><rect x="1158.9" y="103.6" width="15.8" height="15.8" fill="#55499a"/><rect x="1162.2" y="183.5" width="15.8" height="15.8" fill="#55499a"/><rect x="1168.7" y="269.9" width="15.8" height="15.8" fill="#55499a"/><rect x="1173.6" y="340.0" width="15.8" height="15.8" fill="#55499a"/><rect x="1178.5" y="377.5" width="15.8" height="15.8" fill="#55499a"/>
<path d="M905.0,521.7 L905.6,521.4 L906.2,521.0 L906.8,520.6 L907.4,520.2 L907.9,519.7 L908.5,519.2 L909.1,518.7 L909.7,518.2 L910.3,517.7 L910.9,517.2 L911.5,516.7 L912.1,516.2 L912.7,515.8 L913.3,515.3 L913.8,515.0 L914.4,514.6 L915.0,514.3 L915.6,514.1 L916.2,513.9 L916.8,513.8 L917.4,513.8 L918.0,513.8 L918.6,513.8 L919.1,513.9 L919.7,514.1 L920.3,514.3 L920.9,514.5 L921.5,514.8 L922.1,515.1 L922.7,515.4 L923.3,515.7 L923.9,516.0 L924.5,516.4 L925.0,516.7 L925.6,517.0 L926.2,517.3 L926.8,517.5 L927.4,517.7 L928.0,517.9 L928.6,518.0 L929.2,518.1 L929.8,518.1 L930.4,518.1 L930.9,518.0 L931.5,517.8 L932.1,517.7 L932.7,517.4 L933.3,517.1 L933.9,516.8 L934.5,516.4 L935.1,516.1 L935.7,515.6 L936.2,515.2 L936.8,514.8 L937.4,514.3 L938.0,513.9 L938.6,513.4 L939.2,513.0 L939.8,512.6 L940.4,512.3 L941.0,512.0 L941.6,511.7 L942.1,511.5 L942.7,511.3 L943.3,511.2 L943.9,511.1 L944.5,511.1 L945.1,511.2 L945.7,511.3 L946.3,511.5 L946.9,511.7 L947.4,511.9 L948.0,512.2 L948.6,512.5 L949.2,512.8 L949.8,513.2 L950.4,513.6 L951.0,513.9 L951.6,514.3 L952.2,514.6 L952.8,515.0 L953.3,515.3 L953.9,515.6 L954.5,515.8 L955.1,516.0 L955.7,516.1 L956.3,516.2 L956.9,516.3 L957.5,516.2 L958.1,516.2 L958.6,516.0 L959.2,515.8 L959.8,515.6 L960.4,515.3 L961.0,515.0 L961.6,514.6 L962.2,514.2 L962.8,513.7 L963.4,513.3 L964.0,512.8 L964.5,512.3 L965.1,511.8 L965.7,511.4 L966.3,510.9 L966.9,510.5 L967.5,510.1 L968.1,509.7 L968.7,509.4 L969.3,509.2 L969.8,508.9 L970.4,508.8 L971.0,508.6 L971.6,508.6 L972.2,508.6 L972.8,508.6 L973.4,508.7 L974.0,508.9 L974.6,509.1 L975.2,509.3 L975.7,509.5 L976.3,509.8 L976.9,510.1 L977.5,510.5 L978.1,510.8 L978.7,511.1 L979.3,511.4 L979.9,511.7 L980.5,512.0 L981.1,512.2 L981.6,512.4 L982.2,512.6 L982.8,512.7 L983.4,512.7 L984.0,512.8 L984.6,512.7 L985.2,512.6 L985.8,512.5 L986.4,512.3 L986.9,512.0 L987.5,511.7 L988.1,511.3 L988.7,511.0 L989.3,510.5 L989.9,510.1 L990.5,509.6 L991.1,509.2 L991.7,508.7 L992.3,508.2 L992.8,507.7 L993.4,507.3 L994.0,506.8 L994.6,506.5 L995.2,506.1 L995.8,505.8 L996.4,505.5 L997.0,505.3 L997.6,505.1 L998.1,505.0 L998.7,504.9 L999.3,504.9 L999.9,505.0 L1000.5,505.1 L1001.1,505.2 L1001.7,505.4 L1002.3,505.7 L1002.9,505.9 L1003.5,506.2 L1004.0,506.5 L1004.6,506.9 L1005.2,507.2 L1005.8,507.5 L1006.4,507.8 L1007.0,508.1 L1007.6,508.4 L1008.2,508.6 L1008.8,508.9 L1009.3,509.0 L1009.9,509.1 L1010.5,509.2 L1011.1,509.2 L1011.7,509.2 L1012.3,509.1 L1012.9,508.9 L1013.5,508.7 L1014.1,508.4 L1014.7,508.1 L1015.2,507.8 L1015.8,507.4 L1016.4,506.9 L1017.0,506.4 L1017.6,506.0 L1018.2,505.4 L1018.8,504.9 L1019.4,504.4 L1020.0,503.9 L1020.6,503.4 L1021.1,503.0 L1021.7,502.5 L1022.3,502.1 L1022.9,501.7 L1023.5,501.4 L1024.1,501.1 L1024.7,500.9 L1025.3,500.7 L1025.9,500.6 L1026.4,500.6 L1027.0,500.5 L1027.6,500.6 L1028.2,500.7 L1028.8,500.8 L1029.4,501.0 L1030.0,501.2 L1030.6,501.4 L1031.2,501.7 L1031.8,501.9 L1032.3,502.2 L1032.9,502.4 L1033.5,502.7 L1034.1,502.9 L1034.7,503.1 L1035.3,503.3 L1035.9,503.5 L1036.5,503.6 L1037.1,503.6 L1037.6,503.6 L1038.2,503.6 L1038.8,503.5 L1039.4,503.3 L1040.0,503.1 L1040.6,502.8 L1041.2,502.5 L1041.8,502.1 L1042.4,501.6 L1043.0,501.2 L1043.5,500.6 L1044.1,500.1 L1044.7,499.5 L1045.3,498.9 L1045.9,498.3 L1046.5,497.7 L1047.1,497.1 L1047.7,496.5 L1048.3,495.9 L1048.8,495.3 L1049.4,494.7 L1050.0,494.2 L1050.6,493.7 L1051.2,493.2 L1051.8,492.8 L1052.4,492.5 L1053.0,492.2 L1053.6,492.0 L1054.2,491.8 L1054.7,491.6 L1055.3,491.5 L1055.9,491.5 L1056.5,491.5 L1057.1,491.5 L1057.7,491.6 L1058.3,491.7 L1058.9,491.8 L1059.5,491.9 L1060.1,492.1 L1060.6,492.2 L1061.2,492.3 L1061.8,492.4 L1062.4,492.5 L1063.0,492.6 L1063.6,492.6 L1064.2,492.6 L1064.8,492.6 L1065.4,492.5 L1065.9,492.4 L1066.5,492.2 L1067.1,492.0 L1067.7,491.7 L1068.3,491.4 L1068.9,491.0 L1069.5,490.6 L1070.1,490.2 L1070.7,489.7 L1071.3,489.2 L1071.8,488.7 L1072.4,488.2 L1073.0,487.6 L1073.6,487.1 L1074.2,486.5 L1074.8,486.0 L1075.4,485.5 L1076.0,485.0 L1076.6,484.5 L1077.1,484.1 L1077.7,483.7 L1078.3,483.4 L1078.9,483.1 L1079.5,482.8 L1080.1,482.6 L1080.7,482.4 L1081.3,482.3 L1081.9,482.3 L1082.5,482.2 L1083.0,482.2 L1083.6,482.2 L1084.2,482.3 L1084.8,482.3 L1085.4,482.3 L1086.0,482.4 L1086.6,482.4 L1087.2,482.4 L1087.8,482.3 L1088.3,482.3 L1088.9,482.1 L1089.5,482.0 L1090.1,481.8 L1090.7,481.5 L1091.3,481.2 L1091.9,480.8 L1092.5,480.3 L1093.1,479.8 L1093.7,479.2 L1094.2,478.5 L1094.8,477.7 L1095.4,476.9 L1096.0,476.1 L1096.6,475.1 L1097.2,474.2 L1097.8,473.1 L1098.4,472.1 L1099.0,471.0 L1099.5,469.9 L1100.1,468.8 L1100.7,467.6 L1101.3,466.5 L1101.9,465.3 L1102.5,464.2 L1103.1,463.0 L1103.7,461.8 L1104.3,460.6 L1104.9,459.5 L1105.4,458.4 L1106.0,457.3 L1106.6,456.2 L1107.2,455.2 L1107.8,454.2 L1108.4,453.2 L1109.0,452.3 L1109.6,451.4 L1110.2,450.5 L1110.8,449.7 L1111.3,448.9 L1111.9,448.1 L1112.5,447.3 L1113.1,446.5 L1113.7,445.8 L1114.3,445.0 L1114.9,444.1 L1115.5,443.1 L1116.1,442.1 L1116.6,440.9 L1117.2,439.7 L1117.8,438.4 L1118.4,437.1 L1119.0,435.6 L1119.6,434.0 L1120.2,432.4 L1120.8,430.6 L1121.4,428.9 L1122.0,427.0 L1122.5,425.1 L1123.1,423.1 L1123.7,421.0 L1124.3,419.0 L1124.9,416.9 L1125.5,414.7 L1126.1,412.5 L1126.7,410.1 L1127.3,407.6 L1127.8,404.9 L1128.4,401.9 L1129.0,398.8 L1129.6,395.4 L1130.2,391.5 L1130.8,387.0 L1131.4,381.8 L1132.0,376.1 L1132.6,370.0 L1133.2,363.5 L1133.7,356.8 L1134.3,349.8 L1134.9,342.7 L1135.5,335.1 L1136.1,326.8 L1136.7,318.0 L1137.3,308.7 L1137.9,299.1 L1138.5,289.5 L1139.0,280.0 L1139.6,270.1 L1140.2,259.9 L1140.8,249.5 L1141.4,239.0 L1142.0,228.8 L1142.6,218.9 L1143.2,209.5 L1143.8,200.4 L1144.4,191.7 L1144.9,183.1 L1145.5,174.6 L1146.1,166.1 L1146.7,157.5 L1147.3,148.5 L1147.9,138.9 L1148.5,128.9 L1149.1,119.0 L1149.7,109.7 L1150.3,101.3 L1150.8,94.3 L1151.4,88.6 L1152.0,83.0 L1152.6,77.5 L1153.2,72.2 L1153.8,67.3 L1154.4,62.9 L1155.0,59.1 L1155.6,56.0 L1156.1,53.8 L1156.7,52.5 L1157.3,52.4 L1157.9,53.0 L1158.5,54.3 L1159.1,56.1 L1159.7,58.3 L1160.3,60.7 L1160.9,63.3 L1161.5,66.2 L1162.0,69.9 L1162.6,74.5 L1163.2,79.8 L1163.8,85.6 L1164.4,91.9 L1165.0,98.3 L1165.6,105.2 L1166.2,113.2 L1166.8,122.0 L1167.3,131.4 L1167.9,141.1 L1168.5,150.7 L1169.1,160.0 L1169.7,169.0 L1170.3,178.0 L1170.9,187.1 L1171.5,196.1 L1172.1,205.1 L1172.7,213.9 L1173.2,222.5 L1173.8,230.9 L1174.4,239.2 L1175.0,247.4 L1175.6,255.4 L1176.2,263.4 L1176.8,271.4 L1177.4,279.3 L1178.0,287.4 L1178.5,295.7 L1179.1,303.9 L1179.7,311.9 L1180.3,319.5 L1180.9,326.6 L1181.5,333.0 L1182.1,339.0 L1182.7,344.9 L1183.3,350.6 L1183.9,356.1 L1184.4,361.3 L1185.0,366.3 L1185.6,371.0 L1186.2,375.4 L1186.8,379.5 L1187.4,383.2 L1188.0,386.7 L1188.6,389.8 L1189.2,392.8 L1189.7,395.5 L1190.3,398.2 L1190.9,400.7 L1191.5,403.2 L1192.1,405.6 L1192.7,408.0 L1193.3,410.5 L1193.9,413.0 L1194.5,415.6 L1195.1,418.2 L1195.6,420.8 L1196.2,423.5 L1196.8,426.1 L1197.4,428.7 L1198.0,431.2 L1198.6,433.6 L1199.2,435.9 L1199.8,438.1 L1200.4,440.0 L1201.0,441.6 L1201.5,442.9 L1202.1,444.1 L1202.7,445.2 L1203.3,446.2 L1203.9,447.0 L1204.5,447.8 L1205.1,448.5 L1205.7,449.1 L1206.3,449.6 L1206.8,450.1 L1207.4,450.5 L1208.0,450.8 L1208.6,451.1 L1209.2,451.4 L1209.8,451.6 L1210.4,451.9 L1211.0,452.1 L1211.6,452.4 L1212.2,452.6 L1212.7,452.9 L1213.3,453.3 L1213.9,453.6 L1214.5,454.0 L1215.1,454.5 L1215.7,454.9 L1216.3,455.5 L1216.9,456.0 L1217.5,456.6 L1218.0,457.3 L1218.6,458.0 L1219.2,458.7 L1219.8,459.5 L1220.4,460.2 L1221.0,461.0 L1221.6,461.9 L1222.2,462.7 L1222.8,463.5 L1223.4,464.3 L1223.9,465.1 L1224.5,465.9 L1225.1,466.7 L1225.7,467.4 L1226.3,468.1 L1226.9,468.7 L1227.5,469.3 L1228.1,469.9 L1228.7,470.4 L1229.2,470.8 L1229.8,471.2 L1230.4,471.5 L1231.0,471.8 L1231.6,472.1 L1232.2,472.2 L1232.8,472.4 L1233.4,472.5 L1234.0,472.6 L1234.6,472.6 L1235.1,472.7 L1235.7,472.7 L1236.3,472.7 L1236.9,472.7 L1237.5,472.7 L1238.1,472.7 L1238.7,472.8 L1239.3,472.8 L1239.9,472.9 L1240.5,473.0 L1241.0,473.2 L1241.6,473.4 L1242.2,473.7 L1242.8,474.0 L1243.4,474.3 L1244.0,474.7 L1244.6,475.1 L1245.2,475.6 L1245.8,476.1 L1246.3,476.6 L1246.9,477.2 L1247.5,477.8 L1248.1,478.4 L1248.7,479.0 L1249.3,479.6 L1249.9,480.2 L1250.5,480.8 L1251.1,481.3 L1251.7,481.9 L1252.2,482.4 L1252.8,482.9 L1253.4,483.3 L1254.0,483.7 L1254.6,484.1 L1255.2,484.3 L1255.8,484.6 L1256.4,484.8 L1257.0,484.9 L1257.5,484.9 L1258.1,484.9 L1258.7,484.9 L1259.3,484.8 L1259.9,484.6 L1260.5,484.4 L1261.1,484.2 L1261.7,483.9 L1262.3,483.6 L1262.9,483.3 L1263.4,483.0 L1264.0,482.7 L1264.6,482.4 L1265.2,482.1 L1265.8,481.9 L1266.4,481.7 L1267.0,481.5 L1267.6,481.3 L1268.2,481.2 L1268.7,481.2 L1269.3,481.2 L1269.9,481.3 L1270.5,481.4 L1271.1,481.6 L1271.7,481.8 L1272.3,482.2 L1272.9,482.5 L1273.5,482.9 L1274.1,483.4 L1274.6,483.9 L1275.2,484.4 L1275.8,485.0 L1276.4,485.5 L1277.0,486.1 L1277.6,486.7 L1278.2,487.3 L1278.8,487.9 L1279.4,488.4 L1279.9,488.9 L1280.5,489.4 L1281.1,489.9 L1281.7,490.3 L1282.3,490.6 L1282.9,490.9 L1283.5,491.2 L1284.1,491.3 L1284.7,491.5 L1285.3,491.5 L1285.8,491.6 L1286.4,491.5 L1287.0,491.4 L1287.6,491.3 L1288.2,491.1 L1288.8,490.9 L1289.4,490.7 L1290.0,490.4 L1290.6,490.2 L1291.2,489.9 L1291.7,489.6 L1292.3,489.4 L1292.9,489.1 L1293.5,488.9 L1294.1,488.7 L1294.7,488.6 L1295.3,488.5 L1295.9,488.4 L1296.5,488.4 L1297.0,488.5 L1297.6,488.6 L1298.2,488.7 L1298.8,488.9 L1299.4,489.2 L1300.0,489.5 L1300.6,489.9 L1301.2,490.3 L1301.8,490.7 L1302.4,491.2 L1302.9,491.7 L1303.5,492.2 L1304.1,492.7 L1304.7,493.2 L1305.3,493.7 L1305.9,494.2 L1306.5,494.7 L1307.1,495.1 L1307.7,495.5 L1308.2,495.9 L1308.8,496.2 L1309.4,496.5 L1310.0,496.7 L1310.6,496.9 L1311.2,497.0 L1311.8,497.1 L1312.4,497.1 L1313.0,497.0 L1313.6,496.9 L1314.1,496.8 L1314.7,496.6 L1315.3,496.4 L1315.9,496.1 L1316.5,495.8 L1317.1,495.5 L1317.7,495.2 L1318.3,494.9 L1318.9,494.6 L1319.4,494.2 L1320.0,494.0 L1320.6,493.7 L1321.2,493.5 L1321.8,493.3 L1322.4,493.1 L1323.0,493.0 L1323.6,493.0 L1324.2,493.0 L1324.8,493.0 L1325.3,493.2 L1325.9,493.3 L1326.5,493.5 L1327.1,493.8 L1327.7,494.1 L1328.3,494.5 L1328.9,494.9 L1329.5,495.3 L1330.1,495.8 L1330.7,496.2 L1331.2,496.7 L1331.8,497.2 L1332.4,497.7 L1333.0,498.2 L1333.6,498.6 L1334.2,499.0 L1334.8,499.4 L1335.4,499.8 L1336.0,500.1 L1336.5,500.3 L1337.1,500.5 L1337.7,500.7 L1338.3,500.8 L1338.9,500.8 L1339.5,500.8 L1340.1,500.8 L1340.7,500.7 L1341.3,500.5 L1341.9,500.3 L1342.4,500.0 L1343.0,499.8 L1343.6,499.5 L1344.2,499.1 L1344.8,498.8 L1345.4,498.5 L1346.0,498.1 L1346.6,497.8 L1347.2,497.5 L1347.7,497.2 L1348.3,497.0 L1348.9,496.7 L1349.5,496.6 L1350.1,496.4 L1350.7,496.4 L1351.3,496.3 L1351.9,496.4 L1352.5,496.5 L1353.1,496.6 L1353.6,496.8 L1354.2,497.1 L1354.8,497.3 L1355.4,497.7 L1356.0,498.1 L1356.6,498.5 L1357.2,498.9 L1357.8,499.4 L1358.4,499.8 L1358.9,500.3 L1359.5,500.8 L1360.1,501.2 L1360.7,501.6 L1361.3,502.1 L1361.9,502.4 L1362.5,502.8 L1363.1,503.1 L1363.7,503.3 L1364.3,503.5 L1364.8,503.7 L1365.4,503.8 L1366.0,503.8 L1366.6,503.8 L1367.2,503.7 L1367.8,503.6 L1368.4,503.4 L1369.0,503.2 L1369.6,502.9 L1370.2,502.6 L1370.7,502.3 L1371.3,502.0 L1371.9,501.6 L1372.5,501.2 L1373.1,500.9 L1373.7,500.5 L1374.3,500.2 L1374.9,499.9 L1375.5,499.6 L1376.0,499.4 L1376.6,499.2 L1377.2,499.0 L1377.8,499.0 L1378.4,498.9 L1379.0,498.9 L1379.6,499.0 L1380.2,499.1 L1380.8,499.3 L1381.4,499.5 L1381.9,499.8 L1382.5,500.1 L1383.1,500.4 L1383.7,500.8 L1384.3,501.2 L1384.9,501.7 L1385.5,502.1 L1386.1,502.6 L1386.7,503.0 L1387.2,503.5 L1387.8,503.9 L1388.4,504.3 L1389.0,504.7 L1389.6,505.0 L1390.2,505.3 L1390.8,505.5 L1391.4,505.7 L1392.0,505.8 L1392.6,505.9 L1393.1,505.9 L1393.7,505.9 L1394.3,505.8 L1394.9,505.7 L1395.5,505.5 L1396.1,505.3 L1396.7,505.0 L1397.3,504.7 L1397.9,504.4 L1398.4,504.0 L1399.0,503.7 L1399.6,503.3 L1400.2,502.9 L1400.8,502.5 L1401.4,502.2 L1402.0,501.9 L1402.6,501.6 L1403.2,501.3 L1403.8,501.1 L1404.3,500.9 L1404.9,500.8 L1405.5,500.7 L1406.1,500.7 L1406.7,500.8 L1407.3,500.9 L1407.9,501.0 L1408.5,501.2 L1409.1,501.5 L1409.6,501.8 L1410.2,502.1 L1410.8,502.5 L1411.4,502.9 L1412.0,503.3 L1412.6,503.7 L1413.2,504.2 L1413.8,504.6 L1414.4,505.0 L1415.0,505.4 L1415.5,505.8 L1416.1,506.2 L1416.7,506.5 L1417.3,506.8 L1417.9,507.0 L1418.5,507.2 L1419.1,507.3 L1419.7,507.4 L1420.3,507.4 L1420.9,507.4 L1421.4,507.3 L1422.0,507.2 L1422.6,507.0 L1423.2,506.7 L1423.8,506.5 L1424.4,506.1 L1425.0,505.8 L1425.6,505.4 L1426.2,505.1 L1426.7,504.7 L1427.3,504.3 L1427.9,503.9 L1428.5,503.6 L1429.1,503.2 L1429.7,502.9 L1430.3,502.6 L1430.9,502.4 L1431.5,502.2 L1432.1,502.1 L1432.6,502.0 L1433.2,501.9 L1433.8,502.0 L1434.4,502.0 L1435.0,502.2" fill="none" stroke="rgba(135,122,193,0.8)" stroke-width="6" stroke-linejoin="round"/>
<circle cx="895.4" cy="506.2" r="8.3" fill="#c8304b"/><circle cx="900.6" cy="514.9" r="8.3" fill="#c8304b"/><circle cx="905.8" cy="520.7" r="8.3" fill="#c8304b"/><circle cx="911.0" cy="508.9" r="8.3" fill="#c8304b"/><circle cx="916.2" cy="505.8" r="8.3" fill="#c8304b"/><circle cx="921.4" cy="509.0" r="8.3" fill="#c8304b"/><circle cx="926.6" cy="516.8" r="8.3" fill="#c8304b"/><circle cx="931.8" cy="519.4" r="8.3" fill="#c8304b"/><circle cx="937.0" cy="507.8" r="8.3" fill="#c8304b"/><circle cx="942.2" cy="500.5" r="8.3" fill="#c8304b"/><circle cx="947.4" cy="500.3" r="8.3" fill="#c8304b"/><circle cx="952.6" cy="506.5" r="8.3" fill="#c8304b"/><circle cx="957.8" cy="512.4" r="8.3" fill="#c8304b"/><circle cx="963.0" cy="506.2" r="8.3" fill="#c8304b"/><circle cx="968.2" cy="498.0" r="8.3" fill="#c8304b"/><circle cx="973.4" cy="491.8" r="8.3" fill="#c8304b"/><circle cx="978.6" cy="499.6" r="8.3" fill="#c8304b"/><circle cx="983.8" cy="501.0" r="8.3" fill="#c8304b"/><circle cx="989.0" cy="501.2" r="8.3" fill="#c8304b"/><circle cx="994.2" cy="487.9" r="8.3" fill="#c8304b"/><circle cx="999.4" cy="482.8" r="8.3" fill="#c8304b"/><circle cx="1004.6" cy="492.5" r="8.3" fill="#c8304b"/><circle cx="1009.8" cy="502.2" r="8.3" fill="#c8304b"/><circle cx="1015.0" cy="495.1" r="8.3" fill="#c8304b"/><circle cx="1020.2" cy="486.2" r="8.3" fill="#c8304b"/><circle cx="1025.4" cy="480.4" r="8.3" fill="#c8304b"/><circle cx="1030.6" cy="483.0" r="8.3" fill="#c8304b"/><circle cx="1035.8" cy="493.0" r="8.3" fill="#c8304b"/><circle cx="1041.0" cy="489.8" r="8.3" fill="#c8304b"/><circle cx="1046.2" cy="479.3" r="8.3" fill="#c8304b"/><circle cx="1051.4" cy="471.5" r="8.3" fill="#c8304b"/><circle cx="1056.6" cy="466.9" r="8.3" fill="#c8304b"/><circle cx="1061.8" cy="472.6" r="8.3" fill="#c8304b"/><circle cx="1067.0" cy="467.0" r="8.3" fill="#c8304b"/><circle cx="1072.2" cy="453.2" r="8.3" fill="#c8304b"/><circle cx="1077.4" cy="435.2" r="8.3" fill="#c8304b"/><circle cx="1082.6" cy="433.0" r="8.3" fill="#c8304b"/><circle cx="1087.8" cy="425.3" r="8.3" fill="#c8304b"/><circle cx="1093.0" cy="417.7" r="8.3" fill="#c8304b"/><circle cx="1197.0" cy="408.4" r="8.3" fill="#c8304b"/><circle cx="1202.2" cy="429.7" r="8.3" fill="#c8304b"/><circle cx="1207.4" cy="432.8" r="8.3" fill="#c8304b"/><circle cx="1212.6" cy="430.9" r="8.3" fill="#c8304b"/><circle cx="1217.8" cy="426.6" r="8.3" fill="#c8304b"/><circle cx="1223.0" cy="437.8" r="8.3" fill="#c8304b"/><circle cx="1228.2" cy="450.5" r="8.3" fill="#c8304b"/><circle cx="1233.4" cy="450.7" r="8.3" fill="#c8304b"/><circle cx="1238.6" cy="448.9" r="8.3" fill="#c8304b"/><circle cx="1243.8" cy="447.9" r="8.3" fill="#c8304b"/><circle cx="1249.0" cy="453.0" r="8.3" fill="#c8304b"/><circle cx="1254.2" cy="462.6" r="8.3" fill="#c8304b"/><circle cx="1259.4" cy="466.3" r="8.3" fill="#c8304b"/><circle cx="1264.6" cy="463.0" r="8.3" fill="#c8304b"/><circle cx="1269.8" cy="450.3" r="8.3" fill="#c8304b"/><circle cx="1275.0" cy="462.9" r="8.3" fill="#c8304b"/><circle cx="1280.2" cy="470.2" r="8.3" fill="#c8304b"/><circle cx="1285.4" cy="478.3" r="8.3" fill="#c8304b"/><circle cx="1290.6" cy="468.2" r="8.3" fill="#c8304b"/><circle cx="1295.8" cy="463.7" r="8.3" fill="#c8304b"/><circle cx="1301.0" cy="464.6" r="8.3" fill="#c8304b"/><circle cx="1306.2" cy="476.0" r="8.3" fill="#c8304b"/><circle cx="1311.4" cy="486.7" r="8.3" fill="#c8304b"/><circle cx="1316.6" cy="481.2" r="8.3" fill="#c8304b"/><circle cx="1321.8" cy="471.3" r="8.3" fill="#c8304b"/><circle cx="1327.0" cy="470.9" r="8.3" fill="#c8304b"/><circle cx="1332.2" cy="478.2" r="8.3" fill="#c8304b"/><circle cx="1337.4" cy="488.7" r="8.3" fill="#c8304b"/><circle cx="1342.6" cy="487.0" r="8.3" fill="#c8304b"/><circle cx="1347.8" cy="478.7" r="8.3" fill="#c8304b"/><circle cx="1353.0" cy="476.4" r="8.3" fill="#c8304b"/><circle cx="1358.2" cy="482.0" r="8.3" fill="#c8304b"/><circle cx="1363.4" cy="493.0" r="8.3" fill="#c8304b"/><circle cx="1368.6" cy="492.9" r="8.3" fill="#c8304b"/><circle cx="1373.8" cy="487.7" r="8.3" fill="#c8304b"/><circle cx="1379.0" cy="484.4" r="8.3" fill="#c8304b"/><circle cx="1384.2" cy="486.2" r="8.3" fill="#c8304b"/><circle cx="1389.4" cy="494.5" r="8.3" fill="#c8304b"/><circle cx="1394.6" cy="498.1" r="8.3" fill="#c8304b"/><circle cx="1399.8" cy="490.0" r="8.3" fill="#c8304b"/><circle cx="1405.0" cy="483.3" r="8.3" fill="#c8304b"/><circle cx="1410.2" cy="488.0" r="8.3" fill="#c8304b"/><circle cx="1415.4" cy="495.7" r="8.3" fill="#c8304b"/><circle cx="1420.6" cy="503.5" r="8.3" fill="#c8304b"/><circle cx="1425.8" cy="496.4" r="8.3" fill="#c8304b"/><circle cx="1431.0" cy="489.4" r="8.3" fill="#c8304b"/><circle cx="1436.2" cy="489.3" r="8.3" fill="#c8304b"/><circle cx="1441.4" cy="497.2" r="8.3" fill="#c8304b"/><circle cx="1100.0" cy="372.0" r="8.3" fill="#c8304b"/><circle cx="1106.5" cy="356.0" r="8.3" fill="#c8304b"/><circle cx="1114.7" cy="343.0" r="8.3" fill="#c8304b"/><circle cx="1121.2" cy="330.0" r="8.3" fill="#c8304b"/><circle cx="1128.0" cy="335.0" r="8.3" fill="#c8304b"/><circle cx="1135.9" cy="338.0" r="8.3" fill="#c8304b"/><circle cx="1144.0" cy="297.4" r="8.3" fill="#c8304b"/><circle cx="1148.9" cy="255.0" r="8.3" fill="#c8304b"/><circle cx="1157.0" cy="228.9" r="8.3" fill="#c8304b"/><circle cx="1165.2" cy="258.2" r="8.3" fill="#c8304b"/><circle cx="1170.1" cy="310.4" r="8.3" fill="#c8304b"/><circle cx="1175.0" cy="357.7" r="8.3" fill="#c8304b"/><circle cx="1181.5" cy="380.5" r="8.3" fill="#c8304b"/><circle cx="1191.3" cy="380.5" r="8.3" fill="#c8304b"/><circle cx="1194.6" cy="396.8" r="8.3" fill="#c8304b"/>
<path d="M905.0,513.7 L905.6,513.7 L906.2,513.6 L906.8,513.5 L907.4,513.3 L907.9,513.1 L908.5,512.9 L909.1,512.6 L909.7,512.3 L910.3,512.0 L910.9,511.7 L911.5,511.4 L912.1,511.2 L912.7,510.9 L913.3,510.7 L913.8,510.4 L914.4,510.3 L915.0,510.1 L915.6,510.1 L916.2,510.0 L916.8,510.0 L917.4,510.1 L918.0,510.2 L918.6,510.4 L919.1,510.6 L919.7,510.9 L920.3,511.2 L920.9,511.5 L921.5,511.9 L922.1,512.2 L922.7,512.6 L923.3,513.0 L923.9,513.5 L924.5,513.9 L925.0,514.2 L925.6,514.6 L926.2,514.9 L926.8,515.1 L927.4,515.2 L928.0,515.2 L928.6,515.2 L929.2,515.0 L929.8,514.8 L930.4,514.5 L930.9,514.2 L931.5,513.8 L932.1,513.3 L932.7,512.7 L933.3,512.1 L933.9,511.5 L934.5,510.9 L935.1,510.2 L935.7,509.5 L936.2,508.8 L936.8,508.2 L937.4,507.5 L938.0,506.9 L938.6,506.4 L939.2,505.9 L939.8,505.4 L940.4,505.0 L941.0,504.6 L941.6,504.2 L942.1,503.9 L942.7,503.7 L943.3,503.5 L943.9,503.4 L944.5,503.3 L945.1,503.3 L945.7,503.4 L946.3,503.5 L946.9,503.6 L947.4,503.8 L948.0,504.1 L948.6,504.3 L949.2,504.6 L949.8,505.0 L950.4,505.3 L951.0,505.6 L951.6,506.0 L952.2,506.3 L952.8,506.6 L953.3,506.9 L953.9,507.1 L954.5,507.3 L955.1,507.5 L955.7,507.6 L956.3,507.7 L956.9,507.7 L957.5,507.6 L958.1,507.5 L958.6,507.4 L959.2,507.2 L959.8,506.9 L960.4,506.6 L961.0,506.2 L961.6,505.8 L962.2,505.3 L962.8,504.8 L963.4,504.3 L964.0,503.8 L964.5,503.2 L965.1,502.7 L965.7,502.1 L966.3,501.6 L966.9,501.1 L967.5,500.6 L968.1,500.1 L968.7,499.7 L969.3,499.3 L969.8,498.9 L970.4,498.6 L971.0,498.4 L971.6,498.2 L972.2,498.0 L972.8,497.9 L973.4,497.9 L974.0,497.9 L974.6,497.9 L975.2,498.0 L975.7,498.1 L976.3,498.2 L976.9,498.4 L977.5,498.6 L978.1,498.7 L978.7,498.9 L979.3,499.1 L979.9,499.3 L980.5,499.4 L981.1,499.5 L981.6,499.6 L982.2,499.7 L982.8,499.7 L983.4,499.6 L984.0,499.6 L984.6,499.4 L985.2,499.3 L985.8,499.1 L986.4,498.8 L986.9,498.5 L987.5,498.2 L988.1,497.8 L988.7,497.4 L989.3,496.9 L989.9,496.5 L990.5,496.0 L991.1,495.5 L991.7,495.0 L992.3,494.5 L992.8,494.0 L993.4,493.5 L994.0,493.1 L994.6,492.7 L995.2,492.3 L995.8,492.0 L996.4,491.8 L997.0,491.5 L997.6,491.4 L998.1,491.3 L998.7,491.2 L999.3,491.2 L999.9,491.3 L1000.5,491.4 L1001.1,491.5 L1001.7,491.7 L1002.3,492.0 L1002.9,492.3 L1003.5,492.6 L1004.0,492.9 L1004.6,493.2 L1005.2,493.6 L1005.8,493.9 L1006.4,494.2 L1007.0,494.6 L1007.6,494.8 L1008.2,495.1 L1008.8,495.3 L1009.3,495.5 L1009.9,495.6 L1010.5,495.7 L1011.1,495.7 L1011.7,495.7 L1012.3,495.6 L1012.9,495.4 L1013.5,495.2 L1014.1,494.9 L1014.7,494.6 L1015.2,494.3 L1015.8,493.9 L1016.4,493.4 L1017.0,492.9 L1017.6,492.4 L1018.2,491.9 L1018.8,491.4 L1019.4,490.9 L1020.0,490.3 L1020.6,489.8 L1021.1,489.3 L1021.7,488.9 L1022.3,488.4 L1022.9,488.0 L1023.5,487.7 L1024.1,487.4 L1024.7,487.1 L1025.3,486.9 L1025.9,486.8 L1026.4,486.7 L1027.0,486.6 L1027.6,486.6 L1028.2,486.6 L1028.8,486.7 L1029.4,486.8 L1030.0,487.0 L1030.6,487.2 L1031.2,487.4 L1031.8,487.6 L1032.3,487.8 L1032.9,488.0 L1033.5,488.2 L1034.1,488.3 L1034.7,488.5 L1035.3,488.6 L1035.9,488.6 L1036.5,488.6 L1037.1,488.6 L1037.6,488.5 L1038.2,488.4 L1038.8,488.2 L1039.4,487.9 L1040.0,487.5 L1040.6,487.2 L1041.2,486.7 L1041.8,486.2 L1042.4,485.6 L1043.0,485.0 L1043.5,484.4 L1044.1,483.7 L1044.7,483.0 L1045.3,482.2 L1045.9,481.5 L1046.5,480.7 L1047.1,480.0 L1047.7,479.2 L1048.3,478.5 L1048.8,477.8 L1049.4,477.1 L1050.0,476.4 L1050.6,475.8 L1051.2,475.2 L1051.8,474.7 L1052.4,474.2 L1053.0,473.7 L1053.6,473.3 L1054.2,472.9 L1054.7,472.5 L1055.3,472.2 L1055.9,471.9 L1056.5,471.6 L1057.1,471.3 L1057.7,471.1 L1058.3,470.8 L1058.9,470.6 L1059.5,470.3 L1060.1,470.1 L1060.6,469.8 L1061.2,469.5 L1061.8,469.2 L1062.4,468.8 L1063.0,468.4 L1063.6,467.9 L1064.2,467.4 L1064.8,466.8 L1065.4,466.2 L1065.9,465.5 L1066.5,464.7 L1067.1,463.9 L1067.7,463.0 L1068.3,462.0 L1068.9,461.0 L1069.5,460.0 L1070.1,458.9 L1070.7,457.8 L1071.3,456.6 L1071.8,455.3 L1072.4,454.1 L1073.0,452.8 L1073.6,451.5 L1074.2,450.1 L1074.8,448.8 L1075.4,447.5 L1076.0,446.2 L1076.6,444.9 L1077.1,443.6 L1077.7,442.4 L1078.3,441.1 L1078.9,439.9 L1079.5,438.8 L1080.1,437.7 L1080.7,436.6 L1081.3,435.5 L1081.9,434.5 L1082.5,433.6 L1083.0,432.6 L1083.6,431.7 L1084.2,430.7 L1084.8,429.8 L1085.4,428.8 L1086.0,427.9 L1086.6,426.9 L1087.2,425.8 L1087.8,424.8 L1088.3,423.6 L1088.9,422.4 L1089.5,421.2 L1090.1,419.9 L1090.7,418.5 L1091.3,417.0 L1091.9,415.5 L1092.5,413.8 L1093.1,412.1 L1093.7,410.2 L1094.2,408.1 L1094.8,405.8 L1095.4,403.4 L1096.0,400.8 L1096.6,398.1 L1097.2,395.4 L1097.8,392.7 L1098.4,390.0 L1099.0,387.3 L1099.5,384.7 L1100.1,382.2 L1100.7,379.9 L1101.3,377.8 L1101.9,375.7 L1102.5,373.7 L1103.1,371.8 L1103.7,370.0 L1104.3,368.2 L1104.9,366.6 L1105.4,365.0 L1106.0,363.5 L1106.6,362.1 L1107.2,360.7 L1107.8,359.3 L1108.4,358.0 L1109.0,356.7 L1109.6,355.5 L1110.2,354.2 L1110.8,353.0 L1111.3,351.6 L1111.9,350.2 L1112.5,348.7 L1113.1,347.2 L1113.7,345.6 L1114.3,343.9 L1114.9,342.2 L1115.5,340.5 L1116.1,338.8 L1116.6,337.1 L1117.2,335.4 L1117.8,333.8 L1118.4,332.3 L1119.0,330.9 L1119.6,329.7 L1120.2,328.6 L1120.8,327.8 L1121.4,327.0 L1122.0,326.3 L1122.5,325.6 L1123.1,324.9 L1123.7,324.3 L1124.3,323.8 L1124.9,323.3 L1125.5,323.1 L1126.1,322.9 L1126.7,322.8 L1127.3,322.9 L1127.8,323.5 L1128.4,324.5 L1129.0,325.8 L1129.6,327.3 L1130.2,328.9 L1130.8,330.7 L1131.4,332.4 L1132.0,334.1 L1132.6,335.7 L1133.2,337.0 L1133.7,338.0 L1134.3,338.7 L1134.9,338.9 L1135.5,338.6 L1136.1,337.9 L1136.7,336.8 L1137.3,335.4 L1137.9,333.6 L1138.5,331.5 L1139.0,329.2 L1139.6,326.6 L1140.2,323.9 L1140.8,321.1 L1141.4,318.2 L1142.0,315.2 L1142.6,312.3 L1143.2,309.2 L1143.8,305.6 L1144.4,301.2 L1144.9,296.4 L1145.5,291.3 L1146.1,285.9 L1146.7,280.6 L1147.3,275.3 L1147.9,270.3 L1148.5,265.7 L1149.1,261.7 L1149.7,257.9 L1150.3,254.0 L1150.8,250.1 L1151.4,246.3 L1152.0,242.6 L1152.6,239.2 L1153.2,236.2 L1153.8,233.6 L1154.4,231.6 L1155.0,230.1 L1155.6,229.2 L1156.1,228.3 L1156.7,227.5 L1157.3,226.9 L1157.9,226.3 L1158.5,226.0 L1159.1,225.9 L1159.7,226.6 L1160.3,228.6 L1160.9,231.6 L1161.5,235.2 L1162.0,239.1 L1162.6,243.1 L1163.2,246.8 L1163.8,250.7 L1164.4,254.9 L1165.0,259.4 L1165.6,264.1 L1166.2,269.0 L1166.8,274.0 L1167.3,279.0 L1167.9,284.0 L1168.5,289.0 L1169.1,293.8 L1169.7,298.6 L1170.3,303.6 L1170.9,308.6 L1171.5,313.7 L1172.1,318.8 L1172.7,323.8 L1173.2,328.6 L1173.8,333.3 L1174.4,337.7 L1175.0,341.8 L1175.6,345.6 L1176.2,349.5 L1176.8,353.4 L1177.4,357.3 L1178.0,361.0 L1178.5,364.4 L1179.1,367.6 L1179.7,370.4 L1180.3,372.7 L1180.9,374.5 L1181.5,375.6 L1182.1,376.5 L1182.7,377.3 L1183.3,377.9 L1183.9,378.4 L1184.4,378.9 L1185.0,379.3 L1185.6,379.7 L1186.2,380.1 L1186.8,380.5 L1187.4,381.0 L1188.0,381.6 L1188.6,382.1 L1189.2,382.7 L1189.7,383.4 L1190.3,384.5 L1190.9,385.8 L1191.5,387.4 L1192.1,389.1 L1192.7,391.1 L1193.3,393.2 L1193.9,395.3 L1194.5,397.6 L1195.1,399.9 L1195.6,402.2 L1196.2,404.4 L1196.8,406.6 L1197.4,408.6 L1198.0,410.7 L1198.6,412.7 L1199.2,414.8 L1199.8,417.0 L1200.4,418.9 L1201.0,420.8 L1201.5,422.6 L1202.1,424.2 L1202.7,425.7 L1203.3,427.0 L1203.9,428.1 L1204.5,429.0 L1205.1,429.7 L1205.7,430.1 L1206.3,430.4 L1206.8,430.6 L1207.4,430.8 L1208.0,430.8 L1208.6,430.9 L1209.2,430.9 L1209.8,430.8 L1210.4,430.8 L1211.0,430.8 L1211.6,430.7 L1212.2,430.7 L1212.7,430.7 L1213.3,430.8 L1213.9,430.9 L1214.5,431.0 L1215.1,431.2 L1215.7,431.5 L1216.3,431.9 L1216.9,432.4 L1217.5,432.9 L1218.0,433.5 L1218.6,434.2 L1219.2,434.9 L1219.8,435.7 L1220.4,436.6 L1221.0,437.4 L1221.6,438.4 L1222.2,439.3 L1222.8,440.2 L1223.4,441.2 L1223.9,442.1 L1224.5,443.0 L1225.1,443.9 L1225.7,444.8 L1226.3,445.6 L1226.9,446.3 L1227.5,447.0 L1228.1,447.7 L1228.7,448.2 L1229.2,448.7 L1229.8,449.1 L1230.4,449.4 L1231.0,449.7 L1231.6,449.9 L1232.2,450.1 L1232.8,450.2 L1233.4,450.3 L1234.0,450.3 L1234.6,450.3 L1235.1,450.3 L1235.7,450.2 L1236.3,450.2 L1236.9,450.1 L1237.5,450.0 L1238.1,450.0 L1238.7,449.9 L1239.3,449.9 L1239.9,450.0 L1240.5,450.0 L1241.0,450.1 L1241.6,450.3 L1242.2,450.5 L1242.8,450.7 L1243.4,451.0 L1244.0,451.4 L1244.6,451.8 L1245.2,452.2 L1245.8,452.7 L1246.3,453.2 L1246.9,453.8 L1247.5,454.4 L1248.1,455.0 L1248.7,455.7 L1249.3,456.3 L1249.9,457.0 L1250.5,457.6 L1251.1,458.3 L1251.7,458.9 L1252.2,459.5 L1252.8,460.1 L1253.4,460.6 L1254.0,461.1 L1254.6,461.5 L1255.2,461.9 L1255.8,462.2 L1256.4,462.5 L1257.0,462.7 L1257.5,462.9 L1258.1,463.0 L1258.7,463.0 L1259.3,463.0 L1259.9,462.9 L1260.5,462.8 L1261.1,462.7 L1261.7,462.5 L1262.3,462.3 L1262.9,462.1 L1263.4,461.9 L1264.0,461.7 L1264.6,461.5 L1265.2,461.3 L1265.8,461.1 L1266.4,461.0 L1267.0,460.8 L1267.6,460.8 L1268.2,460.7 L1268.7,460.8 L1269.3,460.8 L1269.9,461.0 L1270.5,461.1 L1271.1,461.4 L1271.7,461.7 L1272.3,462.0 L1272.9,462.4 L1273.5,462.8 L1274.1,463.3 L1274.6,463.8 L1275.2,464.4 L1275.8,464.9 L1276.4,465.5 L1277.0,466.1 L1277.6,466.7 L1278.2,467.3 L1278.8,467.8 L1279.4,468.4 L1279.9,468.9 L1280.5,469.4 L1281.1,469.8 L1281.7,470.2 L1282.3,470.5 L1282.9,470.8 L1283.5,471.1 L1284.1,471.3 L1284.7,471.4 L1285.3,471.5 L1285.8,471.5 L1286.4,471.5 L1287.0,471.4 L1287.6,471.3 L1288.2,471.1 L1288.8,470.9 L1289.4,470.7 L1290.0,470.5 L1290.6,470.3 L1291.2,470.0 L1291.7,469.8 L1292.3,469.6 L1292.9,469.4 L1293.5,469.2 L1294.1,469.1 L1294.7,469.0 L1295.3,468.9 L1295.9,468.9 L1296.5,469.0 L1297.0,469.1 L1297.6,469.2 L1298.2,469.4 L1298.8,469.7 L1299.4,470.0 L1300.0,470.4 L1300.6,470.8 L1301.2,471.2 L1301.8,471.7 L1302.4,472.3 L1302.9,472.8 L1303.5,473.3 L1304.1,473.9 L1304.7,474.5 L1305.3,475.0 L1305.9,475.6 L1306.5,476.1 L1307.1,476.6 L1307.7,477.1 L1308.2,477.5 L1308.8,477.9 L1309.4,478.2 L1310.0,478.5 L1310.6,478.7 L1311.2,478.9 L1311.8,479.0 L1312.4,479.0 L1313.0,479.0 L1313.6,479.0 L1314.1,478.9 L1314.7,478.7 L1315.3,478.6 L1315.9,478.3 L1316.5,478.1 L1317.1,477.8 L1317.7,477.6 L1318.3,477.3 L1318.9,477.0 L1319.4,476.8 L1320.0,476.5 L1320.6,476.3 L1321.2,476.2 L1321.8,476.0 L1322.4,475.9 L1323.0,475.9 L1323.6,475.9 L1324.2,475.9 L1324.8,476.0 L1325.3,476.2 L1325.9,476.4 L1326.5,476.7 L1327.1,477.0 L1327.7,477.4 L1328.3,477.8 L1328.9,478.2 L1329.5,478.7 L1330.1,479.2 L1330.7,479.7 L1331.2,480.3 L1331.8,480.8 L1332.4,481.3 L1333.0,481.8 L1333.6,482.3 L1334.2,482.8 L1334.8,483.2 L1335.4,483.6 L1336.0,484.0 L1336.5,484.3 L1337.1,484.5 L1337.7,484.7 L1338.3,484.9 L1338.9,485.0 L1339.5,485.0 L1340.1,484.9 L1340.7,484.9 L1341.3,484.7 L1341.9,484.6 L1342.4,484.4 L1343.0,484.1 L1343.6,483.8 L1344.2,483.5 L1344.8,483.2 L1345.4,482.9 L1346.0,482.6 L1346.6,482.3 L1347.2,482.0 L1347.7,481.8 L1348.3,481.6 L1348.9,481.4 L1349.5,481.2 L1350.1,481.2 L1350.7,481.1 L1351.3,481.1 L1351.9,481.2 L1352.5,481.3 L1353.1,481.5 L1353.6,481.7 L1354.2,482.0 L1354.8,482.3 L1355.4,482.7 L1356.0,483.1 L1356.6,483.5 L1357.2,484.0 L1357.8,484.5 L1358.4,485.0 L1358.9,485.5 L1359.5,486.0 L1360.1,486.5 L1360.7,487.0 L1361.3,487.4 L1361.9,487.8 L1362.5,488.2 L1363.1,488.6 L1363.7,488.9 L1364.3,489.1 L1364.8,489.3 L1365.4,489.4 L1366.0,489.5 L1366.6,489.5 L1367.2,489.5 L1367.8,489.4 L1368.4,489.3 L1369.0,489.1 L1369.6,488.9 L1370.2,488.7 L1370.7,488.4 L1371.3,488.1 L1371.9,487.8 L1372.5,487.5 L1373.1,487.2 L1373.7,486.9 L1374.3,486.6 L1374.9,486.4 L1375.5,486.1 L1376.0,485.9 L1376.6,485.8 L1377.2,485.7 L1377.8,485.6 L1378.4,485.6 L1379.0,485.7 L1379.6,485.8 L1380.2,486.0 L1380.8,486.2 L1381.4,486.5 L1381.9,486.8 L1382.5,487.1 L1383.1,487.5 L1383.7,488.0 L1384.3,488.4 L1384.9,488.9 L1385.5,489.4 L1386.1,489.9 L1386.7,490.4 L1387.2,490.9 L1387.8,491.3 L1388.4,491.8 L1389.0,492.2 L1389.6,492.6 L1390.2,492.9 L1390.8,493.2 L1391.4,493.4 L1392.0,493.6 L1392.6,493.7 L1393.1,493.8 L1393.7,493.8 L1394.3,493.8 L1394.9,493.7 L1395.5,493.5 L1396.1,493.3 L1396.7,493.1 L1397.3,492.9 L1397.9,492.6 L1398.4,492.3 L1399.0,491.9 L1399.6,491.6 L1400.2,491.3 L1400.8,491.0 L1401.4,490.7 L1402.0,490.4 L1402.6,490.1 L1403.2,489.9 L1403.8,489.7 L1404.3,489.6 L1404.9,489.5 L1405.5,489.5 L1406.1,489.6 L1406.7,489.6 L1407.3,489.8 L1407.9,490.0 L1408.5,490.2 L1409.1,490.5 L1409.6,490.9 L1410.2,491.2 L1410.8,491.7 L1411.4,492.1 L1412.0,492.6 L1412.6,493.0 L1413.2,493.5 L1413.8,494.0 L1414.4,494.5 L1415.0,494.9 L1415.5,495.4 L1416.1,495.8 L1416.7,496.1 L1417.3,496.4 L1417.9,496.7 L1418.5,496.9 L1419.1,497.1 L1419.7,497.2 L1420.3,497.3 L1420.9,497.3 L1421.4,497.3 L1422.0,497.2 L1422.6,497.0 L1423.2,496.8 L1423.8,496.6 L1424.4,496.3 L1425.0,496.0 L1425.6,495.7 L1426.2,495.4 L1426.7,495.0 L1427.3,494.7 L1427.9,494.4 L1428.5,494.1 L1429.1,493.8 L1429.7,493.5 L1430.3,493.3 L1430.9,493.1 L1431.5,492.9 L1432.1,492.8 L1432.6,492.8 L1433.2,492.8 L1433.8,492.9 L1434.4,493.0 L1435.0,493.2" fill="none" stroke="rgba(215,95,118,0.9)" stroke-width="6" stroke-linejoin="round"/>
</g>
<rect x="1237.2" y="39.3" width="15.9" height="15.9" fill="#55499a"/>
<line x1="1272.5" y1="46.9" x2="1304.8" y2="46.9" stroke="rgba(135,122,193,0.8)" stroke-width="5.8" stroke-linecap="round"/>
<text x="1315.5" y="60" font-size="38">10 K</text>
<circle cx="1245.1" cy="92" r="8.4" fill="#c8304b"/>
<line x1="1272.5" y1="92.4" x2="1304.8" y2="92.4" stroke="rgba(215,95,118,0.9)" stroke-width="5.8" stroke-linecap="round"/>
<text x="1315.5" y="104.8" font-size="38" textLength="85" lengthAdjust="spacing">1.5 K</text>
<g clip-path="url(#cc)">
<line x1="151.4" y1="713.5" x2="151.4" y2="732.5" stroke="#c8304b" stroke-width="5.7" stroke-linecap="round"/><circle cx="151.4" cy="723.0" r="8.3" fill="#c8304b"/><line x1="162.7" y1="732.0" x2="162.7" y2="746.6" stroke="#c8304b" stroke-width="5.7" stroke-linecap="round"/><circle cx="162.7" cy="739.3" r="8.3" fill="#c8304b"/><line x1="171.4" y1="726.5" x2="171.4" y2="741.5" stroke="#c8304b" stroke-width="5.7" stroke-linecap="round"/><circle cx="171.4" cy="734.0" r="8.3" fill="#c8304b"/><line x1="180.1" y1="710.5" x2="180.1" y2="729.5" stroke="#c8304b" stroke-width="5.7" stroke-linecap="round"/><circle cx="180.1" cy="720.0" r="8.3" fill="#c8304b"/><line x1="188.8" y1="714.8" x2="188.8" y2="733.2" stroke="#c8304b" stroke-width="5.7" stroke-linecap="round"/><circle cx="188.8" cy="724.0" r="8.3" fill="#c8304b"/><line x1="197.5" y1="710.4" x2="197.5" y2="728.8" stroke="#c8304b" stroke-width="5.7" stroke-linecap="round"/><circle cx="197.5" cy="719.6" r="8.3" fill="#c8304b"/><line x1="206.2" y1="709.7" x2="206.2" y2="727.5" stroke="#c8304b" stroke-width="5.7" stroke-linecap="round"/><circle cx="206.2" cy="718.6" r="8.3" fill="#c8304b"/><line x1="214.8" y1="729.6" x2="214.8" y2="745.6" stroke="#c8304b" stroke-width="5.7" stroke-linecap="round"/><circle cx="214.8" cy="737.6" r="8.3" fill="#c8304b"/><line x1="232.2" y1="739.5" x2="232.2" y2="755.9" stroke="#c8304b" stroke-width="5.7" stroke-linecap="round"/><circle cx="232.2" cy="747.7" r="8.3" fill="#c8304b"/><line x1="249.6" y1="761.1" x2="249.6" y2="778.3" stroke="#c8304b" stroke-width="5.7" stroke-linecap="round"/><circle cx="249.6" cy="769.7" r="8.3" fill="#c8304b"/><line x1="267.0" y1="756.9" x2="267.0" y2="774.1" stroke="#c8304b" stroke-width="5.7" stroke-linecap="round"/><circle cx="267.0" cy="765.5" r="8.3" fill="#c8304b"/><line x1="275.6" y1="804.1" x2="275.6" y2="823.3" stroke="#c8304b" stroke-width="5.7" stroke-linecap="round"/><circle cx="275.6" cy="813.7" r="8.3" fill="#c8304b"/><line x1="284.3" y1="796.7" x2="284.3" y2="811.9" stroke="#c8304b" stroke-width="5.7" stroke-linecap="round"/><circle cx="284.3" cy="804.3" r="8.3" fill="#c8304b"/><line x1="301.7" y1="802.0" x2="301.7" y2="819.2" stroke="#c8304b" stroke-width="5.7" stroke-linecap="round"/><circle cx="301.7" cy="810.6" r="8.3" fill="#c8304b"/><line x1="319.1" y1="834.5" x2="319.1" y2="851.7" stroke="#c8304b" stroke-width="5.7" stroke-linecap="round"/><circle cx="319.1" cy="843.1" r="8.3" fill="#c8304b"/><line x1="336.4" y1="861.8" x2="336.4" y2="879.0" stroke="#c8304b" stroke-width="5.7" stroke-linecap="round"/><circle cx="336.4" cy="870.4" r="8.3" fill="#c8304b"/><line x1="353.8" y1="875.4" x2="353.8" y2="892.6" stroke="#c8304b" stroke-width="5.7" stroke-linecap="round"/><circle cx="353.8" cy="884.0" r="8.3" fill="#c8304b"/><line x1="371.2" y1="907.8" x2="371.2" y2="929.4" stroke="#c8304b" stroke-width="5.7" stroke-linecap="round"/><circle cx="371.2" cy="918.6" r="8.3" fill="#c8304b"/><line x1="388.5" y1="936.4" x2="388.5" y2="958.8" stroke="#c8304b" stroke-width="5.7" stroke-linecap="round"/><circle cx="388.5" cy="947.6" r="8.3" fill="#c8304b"/><line x1="405.9" y1="970.5" x2="405.9" y2="994.3" stroke="#c8304b" stroke-width="5.7" stroke-linecap="round"/><circle cx="405.9" cy="982.4" r="8.3" fill="#c8304b"/><line x1="423.3" y1="997.8" x2="423.3" y2="1023.6" stroke="#c8304b" stroke-width="5.7" stroke-linecap="round"/><circle cx="423.3" cy="1010.7" r="8.3" fill="#c8304b"/><line x1="440.7" y1="1029.8" x2="440.7" y2="1059.0" stroke="#c8304b" stroke-width="5.7" stroke-linecap="round"/><circle cx="440.7" cy="1044.4" r="8.3" fill="#c8304b"/><line x1="475.4" y1="1080.5" x2="475.4" y2="1117.9" stroke="#c8304b" stroke-width="5.7" stroke-linecap="round"/><circle cx="475.4" cy="1099.2" r="8.3" fill="#c8304b"/><line x1="562.2" y1="1127.2" x2="562.2" y2="1204.2" stroke="#c8304b" stroke-width="5.7" stroke-linecap="round"/><circle cx="562.2" cy="1165.7" r="8.3" fill="#c8304b"/>
<path d="M128.9,723.4 L130.2,723.4 L131.6,723.4 L133.0,723.4 L134.3,723.4 L135.7,723.4 L137.1,723.4 L138.4,723.4 L139.8,723.4 L141.2,723.4 L142.5,723.4 L143.9,723.4 L145.2,723.4 L146.6,723.4 L148.0,723.4 L149.3,723.4 L150.7,723.4 L152.1,723.4 L153.4,723.4 L154.8,723.4 L156.2,723.4 L157.5,723.4 L158.9,723.4 L160.3,723.4 L161.6,723.4 L163.0,723.4 L164.4,723.4 L165.7,723.4 L167.1,723.4 L168.4,723.4 L169.8,723.4 L171.2,723.4 L172.5,723.4 L173.9,723.4 L175.3,723.4 L176.6,723.4 L178.0,723.4 L179.4,723.4 L180.7,723.5 L182.1,723.5 L183.5,723.5 L184.8,723.5 L186.2,723.6 L187.6,723.6 L188.9,723.6 L190.3,723.7 L191.7,723.7 L193.0,723.8 L194.4,723.9 L195.7,724.0 L197.1,724.1 L198.5,724.2 L199.8,724.3 L201.2,724.5 L202.6,724.6 L203.9,724.8 L205.3,725.0 L206.7,725.2 L208.0,725.4 L209.4,725.7 L210.8,726.0 L212.1,726.2 L213.5,726.6 L214.9,726.9 L216.2,727.3 L217.6,727.7 L218.9,728.1 L220.3,728.5 L221.7,729.0 L223.0,729.5 L224.4,730.0 L225.8,730.6 L227.1,731.1 L228.5,731.8 L229.9,732.4 L231.2,733.1 L232.6,733.8 L234.0,734.5 L235.3,735.3 L236.7,736.0 L238.1,736.9 L239.4,737.7 L240.8,738.6 L242.2,739.5 L243.5,740.4 L244.9,741.4 L246.2,742.4 L247.6,743.5 L249.0,744.5 L250.3,745.6 L251.7,746.7 L253.1,747.9 L254.4,749.1 L255.8,750.3 L257.2,751.5 L258.5,752.8 L259.9,754.1 L261.3,755.4 L262.6,756.7 L264.0,758.1 L265.4,759.5 L266.7,760.9 L268.1,762.4 L269.4,763.9 L270.8,765.4 L272.2,766.9 L273.5,768.5 L274.9,770.0 L276.3,771.6 L277.6,773.3 L279.0,774.9 L280.4,776.6 L281.7,778.3 L283.1,780.0 L284.5,781.7 L285.8,783.5 L287.2,785.2 L288.6,787.0 L289.9,788.8 L291.3,790.7 L292.7,792.5 L294.0,794.4 L295.4,796.3 L296.7,798.2 L298.1,800.1 L299.5,802.0 L300.8,804.0 L302.2,805.9 L303.6,807.9 L304.9,809.9 L306.3,811.9 L307.7,813.9 L309.0,816.0 L310.4,818.0 L311.8,820.1 L313.1,822.1 L314.5,824.2 L315.9,826.3 L317.2,828.4 L318.6,830.5 L319.9,832.7 L321.3,834.8 L322.7,837.0 L324.0,839.1 L325.4,841.3 L326.8,843.4 L328.1,845.6 L329.5,847.8 L330.9,850.0 L332.2,852.2 L333.6,854.4 L335.0,856.7 L336.3,858.9 L337.7,861.1 L339.1,863.4 L340.4,865.6 L341.8,867.9 L343.2,870.1 L344.5,872.4 L345.9,874.6 L347.2,876.9 L348.6,879.2 L350.0,881.5 L351.3,883.8 L352.7,886.1 L354.1,888.3 L355.4,890.6 L356.8,892.9 L358.2,895.2 L359.5,897.6 L360.9,899.9 L362.3,902.2 L363.6,904.5 L365.0,906.8 L366.4,909.1 L367.7,911.5 L369.1,913.8 L370.4,916.1 L371.8,918.4 L373.2,920.8 L374.5,923.1 L375.9,925.4 L377.3,927.8 L378.6,930.1 L380.0,932.4 L381.4,934.8 L382.7,937.1 L384.1,939.5 L385.5,941.8 L386.8,944.1 L388.2,946.5 L389.6,948.8 L390.9,951.2 L392.3,953.5 L393.7,955.9 L395.0,958.2 L396.4,960.6 L397.7,962.9 L399.1,965.2 L400.5,967.6 L401.8,969.9 L403.2,972.3 L404.6,974.6 L405.9,977.0 L407.3,979.3 L408.7,981.7 L410.0,984.0 L411.4,986.3 L412.8,988.7 L414.1,991.0 L415.5,993.4 L416.9,995.7 L418.2,998.1 L419.6,1000.4 L420.9,1002.7 L422.3,1005.1 L423.7,1007.4 L425.0,1009.8 L426.4,1012.1 L427.8,1014.4 L429.1,1016.8 L430.5,1019.1 L431.9,1021.4 L433.2,1023.8 L434.6,1026.1 L436.0,1028.4 L437.3,1030.8 L438.7,1033.1 L440.1,1035.4 L441.4,1037.8 L442.8,1040.1 L444.2,1042.4 L445.5,1044.8 L446.9,1047.1 L448.2,1049.4 L449.6,1051.8 L451.0,1054.1 L452.3,1056.4 L453.7,1058.7 L455.1,1061.1 L456.4,1063.4 L457.8,1065.7 L459.2,1068.0 L460.5,1070.4 L461.9,1072.7 L463.3,1075.0 L464.6,1077.3 L466.0,1079.7 L467.4,1082.0 L468.7,1084.3 L470.1,1086.6 L471.4,1088.9 L472.8,1091.3 L474.2,1093.6 L475.5,1095.9 L476.9,1098.2 L478.3,1100.6 L479.6,1102.9 L481.0,1105.2 L482.4,1107.5 L483.7,1109.8 L485.1,1112.1 L486.5,1114.5 L487.8,1116.8 L489.2,1119.1 L490.6,1121.4 L491.9,1123.7 L493.3,1126.1 L494.6,1128.4 L496.0,1130.7 L497.4,1133.0 L498.7,1135.3 L500.1,1137.6 L501.5,1140.0 L502.8,1142.3 L504.2,1144.6 L505.6,1146.9 L506.9,1149.2 L508.3,1151.5 L509.7,1153.8 L511.0,1156.2 L512.4,1158.5 L513.8,1160.8 L515.1,1163.1 L516.5,1165.4 L517.9,1167.7 L519.2,1170.0 L520.6,1172.3 L521.9,1174.6 L523.3,1176.9 L524.7,1179.2 L526.0,1181.5 L527.4,1183.8 L528.8,1186.1 L530.1,1188.3 L531.5,1190.6 L532.9,1192.9 L534.2,1195.1 L535.6,1197.3 L537.0,1199.5 L627,1199.5" fill="none" stroke="#5c1420" stroke-width="6.4" stroke-linejoin="round"/>
<path d="M128.0,723.4 L129.4,723.4 L130.7,723.4 L132.1,723.4 L133.4,723.5 L134.8,723.5 L136.2,723.6 L137.5,723.6 L138.9,723.7 L140.3,723.8 L141.6,723.9 L143.0,724.0 L144.3,724.1 L145.7,724.2 L147.1,724.4 L148.4,724.5 L149.8,724.6 L151.1,724.8 L152.5,725.0 L153.9,725.2 L155.2,725.4 L156.6,725.6 L158.0,725.8 L159.3,726.0 L160.7,726.2 L162.0,726.5 L163.4,726.7 L164.8,727.0 L166.1,727.3 L167.5,727.6 L168.8,727.9 L170.2,728.2 L171.6,728.5 L172.9,728.8 L174.3,729.2 L175.7,729.5 L177.0,729.9 L178.4,730.3 L179.7,730.7 L181.1,731.0 L182.5,731.5 L183.8,731.9 L185.2,732.3 L186.5,732.7 L187.9,733.2 L189.3,733.6 L190.6,734.1 L192.0,734.6 L193.3,735.1 L194.7,735.6 L196.1,736.1 L197.4,736.6 L198.8,737.1 L200.2,737.7 L201.5,738.2 L202.9,738.8 L204.2,739.4 L205.6,740.0 L207.0,740.6 L208.3,741.2 L209.7,741.8 L211.0,742.4 L212.4,743.1 L213.8,743.7 L215.1,744.4 L216.5,745.1 L217.9,745.7 L219.2,746.4 L220.6,747.2 L221.9,747.9 L223.3,748.6 L224.7,749.3 L226.0,750.1 L227.4,750.8 L228.7,751.6 L230.1,752.4 L231.5,753.2 L232.8,754.0 L234.2,754.8 L235.6,755.6 L236.9,756.5 L238.3,757.3 L239.6,758.2 L241.0,759.1 L242.4,759.9 L243.7,760.8 L245.1,761.7 L246.4,762.7 L247.8,763.6 L249.2,764.5 L250.5,765.5 L251.9,766.4 L253.3,767.4 L254.6,768.4 L256.0,769.4 L257.3,770.4 L258.7,771.4 L260.1,772.4 L261.4,773.4 L262.8,774.5 L264.1,775.5 L265.5,776.6 L266.9,777.7 L268.2,778.8 L269.6,779.9 L271.0,781.0 L272.3,782.1 L273.7,783.2 L275.0,784.4 L276.4,785.5 L277.8,786.7 L279.1,787.9 L280.5,789.1 L281.8,790.3 L283.2,791.5 L284.6,792.7 L285.9,793.9 L287.3,795.2 L288.7,796.4 L290.0,797.7 L291.4,799.0 L292.7,800.3 L294.1,801.6 L295.5,802.9 L296.8,804.2 L298.2,805.5 L299.5,806.9 L300.9,808.2 L302.3,809.6 L303.6,811.0 L305.0,812.4 L306.3,813.7 L307.7,815.2 L309.1,816.6 L310.4,818.0 L311.8,819.5 L313.2,820.9 L314.5,822.4 L315.9,823.8 L317.2,825.3 L318.6,826.8 L320.0,828.3 L321.3,829.9 L322.7,831.4 L324.0,832.9 L325.4,834.5 L326.8,836.0 L328.1,837.6 L329.5,839.2 L330.9,840.8 L332.2,842.4 L333.6,844.0 L334.9,845.7 L336.3,847.3 L337.7,848.9 L339.0,850.6 L340.4,852.3 L341.7,854.0 L343.1,855.7 L344.5,857.4 L345.8,859.1 L347.2,860.8 L348.6,862.6 L349.9,864.3 L351.3,866.1 L352.6,867.8 L354.0,869.6 L355.4,871.4 L356.7,873.2 L358.1,875.0 L359.4,876.9 L360.8,878.7 L362.2,880.6 L363.5,882.4 L364.9,884.3 L366.3,886.2 L367.6,888.1 L369.0,890.0 L370.3,891.9 L371.7,893.8 L373.1,895.7 L374.4,897.7 L375.8,899.7 L377.1,901.6 L378.5,903.6 L379.9,905.6 L381.2,907.6 L382.6,909.6 L384.0,911.6 L385.3,913.7 L386.7,915.7 L388.0,917.8 L389.4,919.8 L390.8,921.9 L392.1,924.0 L393.5,926.1 L394.8,928.2 L396.2,930.3 L397.6,932.5 L398.9,934.6 L400.3,936.8 L401.7,938.9 L403.0,941.1 L404.4,943.3 L405.7,945.5 L407.1,947.7 L408.5,949.9 L409.8,952.2 L411.2,954.4 L412.5,956.7 L413.9,958.9 L415.3,961.2 L416.6,963.5 L418.0,965.8 L419.3,968.1 L420.7,970.4 L422.1,972.7 L423.4,975.1 L424.8,977.4 L426.2,979.8 L427.5,982.1 L428.9,984.5 L430.2,986.9 L431.6,989.3 L433.0,991.7 L434.3,994.1 L435.7,996.6 L437.0,999.0 L438.4,1001.5 L439.8,1003.9 L441.1,1006.4 L442.5,1008.9 L443.9,1011.4 L445.2,1013.9 L446.6,1016.4 L447.9,1018.9 L449.3,1021.5 L450.7,1024.0 L452.0,1026.6 L453.4,1029.1 L454.7,1031.7 L456.1,1034.3 L457.5,1036.9 L458.8,1039.5 L460.2,1042.1 L461.6,1044.8 L462.9,1047.4 L464.3,1050.0 L465.6,1052.7 L467.0,1055.4 L468.4,1058.1 L469.7,1060.7 L471.1,1063.4 L472.4,1066.1 L473.8,1068.9 L475.2,1071.6 L476.5,1074.3 L477.9,1077.1 L479.3,1079.8 L480.6,1082.6 L482.0,1085.4 L483.3,1088.2 L484.7,1091.0 L486.1,1093.8 L487.4,1096.6 L488.8,1099.4 L490.1,1102.2 L491.5,1105.1 L492.9,1107.9 L494.2,1110.8 L495.6,1113.7 L497.0,1116.5 L498.3,1119.4 L499.7,1122.3 L501.0,1125.2 L502.4,1128.1 L503.8,1131.0 L505.1,1134.0 L506.5,1136.9 L507.8,1139.9 L509.2,1142.8 L510.6,1145.8 L511.9,1148.7 L513.3,1151.7 L514.7,1154.7 L516.0,1157.7 L517.4,1160.6 L518.7,1163.6 L520.1,1166.6 L521.5,1169.6 L522.8,1172.7 L524.2,1175.7 L525.5,1178.7 L526.9,1181.7 L528.3,1184.7 L529.6,1187.7 L531.0,1190.7 L532.3,1193.7 L533.7,1196.6 L535.1,1199.5" fill="none" stroke="#55b1aa" stroke-width="6.4" stroke-linejoin="round"/>
</g>
<line x1="159.6" y1="1100.6" x2="200.7" y2="1100.6" stroke="#5c1420" stroke-width="6" stroke-linecap="round"/>
<line x1="159.6" y1="1146.1" x2="200.7" y2="1146.1" stroke="#55b1aa" stroke-width="6" stroke-linecap="round"/>
<rect x="401.5" y="716.8" width="196.8" height="209.2" fill="#fff"/>
<g clip-path="url(#ci)">
<line x1="424.0" y1="747.9" x2="424.0" y2="764.9" stroke="#c8304b" stroke-width="2"/><circle cx="424.0" cy="757.2" r="6.2" fill="#c8304b"/><line x1="454.7" y1="763.1" x2="454.7" y2="781.9" stroke="#c8304b" stroke-width="2"/><circle cx="454.7" cy="772.6" r="6.2" fill="#c8304b"/><line x1="472.6" y1="755.9" x2="472.6" y2="772.0" stroke="#c8304b" stroke-width="2"/><circle cx="472.6" cy="764.9" r="6.2" fill="#c8304b"/><line x1="486.9" y1="746.1" x2="486.9" y2="764.9" stroke="#c8304b" stroke-width="2"/><circle cx="486.9" cy="755.9" r="6.2" fill="#c8304b"/><line x1="498.5" y1="749.7" x2="498.5" y2="765.8" stroke="#c8304b" stroke-width="2"/><circle cx="498.5" cy="758.6" r="6.2" fill="#c8304b"/><line x1="508.9" y1="742.9" x2="508.9" y2="762.2" stroke="#c8304b" stroke-width="2"/><circle cx="508.9" cy="752.4" r="6.2" fill="#c8304b"/><line x1="518.7" y1="742.5" x2="518.7" y2="760.8" stroke="#c8304b" stroke-width="2"/><circle cx="518.7" cy="751.8" r="6.2" fill="#c8304b"/><line x1="526.2" y1="763.1" x2="526.2" y2="782.2" stroke="#c8304b" stroke-width="2"/><circle cx="526.2" cy="772.6" r="6.2" fill="#c8304b"/><line x1="540.1" y1="777.4" x2="540.1" y2="795.3" stroke="#c8304b" stroke-width="2"/><circle cx="540.1" cy="785.8" r="6.2" fill="#c8304b"/><line x1="553.0" y1="802.4" x2="553.0" y2="820.3" stroke="#c8304b" stroke-width="2"/><circle cx="553.0" cy="811.3" r="6.2" fill="#c8304b"/><line x1="563.4" y1="797.9" x2="563.4" y2="816.7" stroke="#c8304b" stroke-width="2"/><circle cx="563.4" cy="807.2" r="6.2" fill="#c8304b"/><line x1="572.7" y1="846.0" x2="572.7" y2="866.0" stroke="#c8304b" stroke-width="2"/><circle cx="572.7" cy="856.9" r="6.2" fill="#c8304b"/><line x1="567.8" y1="862.3" x2="567.8" y2="880.2" stroke="#c8304b" stroke-width="2"/><circle cx="567.8" cy="870.9" r="6.2" fill="#c8304b"/><line x1="581.6" y1="857.7" x2="581.6" y2="873.0" stroke="#c8304b" stroke-width="2"/><circle cx="581.6" cy="865.9" r="6.2" fill="#c8304b"/><line x1="587.5" y1="907.7" x2="587.5" y2="921.3" stroke="#c8304b" stroke-width="2"/><circle cx="587.5" cy="915.0" r="6.2" fill="#c8304b"/>
<path d="M397.3,766.5 L398.0,766.5 L398.6,766.5 L399.3,766.5 L400.0,766.5 L400.7,766.5 L401.4,766.5 L402.0,766.5 L402.7,766.5 L403.4,766.5 L404.1,766.5 L404.8,766.5 L405.5,766.5 L406.1,766.5 L406.8,766.5 L407.5,766.5 L408.2,766.5 L408.9,766.5 L409.5,766.5 L410.2,766.5 L410.9,766.5 L411.6,766.5 L412.3,766.5 L413.0,766.5 L413.6,766.5 L414.3,766.5 L415.0,766.5 L415.7,766.5 L416.4,766.5 L417.0,766.5 L417.7,766.5 L418.4,766.5 L419.1,766.5 L419.8,766.5 L420.4,766.5 L421.1,766.5 L421.8,766.5 L422.5,766.5 L423.2,766.5 L423.9,766.5 L424.5,766.5 L425.2,766.5 L425.9,766.5 L426.6,766.5 L427.3,766.5 L427.9,766.5 L428.6,766.5 L429.3,766.5 L430.0,766.5 L430.7,766.5 L431.3,766.5 L432.0,766.5 L432.7,766.5 L433.4,766.5 L434.1,766.5 L434.8,766.5 L435.4,766.5 L436.1,766.5 L436.8,766.5 L437.5,766.5 L438.2,766.5 L438.8,766.5 L439.5,766.5 L440.2,766.5 L440.9,766.5 L441.6,766.5 L442.2,766.5 L442.9,766.5 L443.6,766.5 L444.3,766.5 L445.0,766.5 L445.7,766.5 L446.3,766.5 L447.0,766.5 L447.7,766.5 L448.4,766.5 L449.1,766.5 L449.7,766.5 L450.4,766.5 L451.1,766.5 L451.8,766.5 L452.5,766.5 L453.2,766.5 L453.8,766.5 L454.5,766.5 L455.2,766.5 L455.9,766.5 L456.6,766.5 L457.2,766.5 L457.9,766.5 L458.6,766.5 L459.3,766.5 L460.0,766.5 L460.6,766.5 L461.3,766.5 L462.0,766.5 L462.7,766.5 L463.4,766.5 L464.1,766.5 L464.7,766.5 L465.4,766.5 L466.1,766.5 L466.8,766.5 L467.5,766.5 L468.1,766.5 L468.8,766.5 L469.5,766.5 L470.2,766.5 L470.9,766.5 L471.5,766.5 L472.2,766.5 L472.9,766.5 L473.6,766.5 L474.3,766.5 L475.0,766.5 L475.6,766.5 L476.3,766.5 L477.0,766.5 L477.7,766.5 L478.4,766.5 L479.0,766.5 L479.7,766.5 L480.4,766.5 L481.1,766.5 L481.8,766.5 L482.4,766.5 L483.1,766.5 L483.8,766.5 L484.5,766.5 L485.2,766.5 L485.9,766.5 L486.5,766.6 L487.2,766.6 L487.9,766.6 L488.6,766.6 L489.3,766.6 L489.9,766.6 L490.6,766.6 L491.3,766.6 L492.0,766.6 L492.7,766.6 L493.4,766.6 L494.0,766.6 L494.7,766.7 L495.4,766.7 L496.1,766.7 L496.8,766.7 L497.4,766.7 L498.1,766.7 L498.8,766.8 L499.5,766.8 L500.2,766.8 L500.8,766.8 L501.5,766.8 L502.2,766.9 L502.9,766.9 L503.6,766.9 L504.3,767.0 L504.9,767.0 L505.6,767.1 L506.3,767.1 L507.0,767.1 L507.7,767.2 L508.3,767.2 L509.0,767.3 L509.7,767.4 L510.4,767.4 L511.1,767.5 L511.7,767.5 L512.4,767.6 L513.1,767.7 L513.8,767.8 L514.5,767.9 L515.2,768.0 L515.8,768.1 L516.5,768.2 L517.2,768.3 L517.9,768.4 L518.6,768.5 L519.2,768.7 L519.9,768.8 L520.6,768.9 L521.3,769.1 L522.0,769.3 L522.6,769.4 L523.3,769.6 L524.0,769.8 L524.7,770.0 L525.4,770.2 L526.1,770.4 L526.7,770.6 L527.4,770.9 L528.1,771.1 L528.8,771.4 L529.5,771.7 L530.1,771.9 L530.8,772.2 L531.5,772.6 L532.2,772.9 L532.9,773.2 L533.6,773.6 L534.2,774.0 L534.9,774.3 L535.6,774.8 L536.3,775.2 L537.0,775.6 L537.6,776.1 L538.3,776.6 L539.0,777.0 L539.7,777.6 L540.4,778.1 L541.0,778.7 L541.7,779.2 L542.4,779.8 L543.1,780.5 L543.8,781.1 L544.5,781.8 L545.1,782.5 L545.8,783.2 L546.5,783.9 L547.2,784.7 L547.9,785.5 L548.5,786.4 L549.2,787.2 L549.9,788.1 L550.6,789.0 L551.3,790.0 L551.9,790.9 L552.6,792.0 L553.3,793.0 L554.0,794.1 L554.7,795.2 L555.4,796.3 L556.0,797.5 L556.7,798.7 L557.4,800.0 L558.1,801.3 L558.8,802.6 L559.4,804.0 L560.1,805.4 L560.8,806.9 L561.5,808.4 L562.2,809.9 L562.8,811.5 L563.5,813.1 L564.2,814.8 L564.9,816.5 L565.6,818.3 L566.3,820.1 L566.9,821.9 L567.6,823.9 L568.3,825.8 L569.0,827.8 L569.7,829.9 L570.3,832.0 L571.0,834.2 L571.7,836.4 L572.4,838.7 L573.1,841.0 L573.8,843.4 L574.4,845.9 L575.1,848.4 L575.8,851.0 L576.5,853.7 L577.2,856.4 L577.8,859.1 L578.5,862.0 L579.2,864.9 L579.9,867.8 L580.6,870.9 L581.2,874.0 L581.9,877.2 L582.6,880.4 L583.3,883.7 L584.0,887.1 L584.7,890.6 L585.3,894.2 L586.0,897.8 L586.7,901.5 L587.4,905.3 L588.1,909.2 L588.7,913.2 L589.4,917.2 L590.1,921.4 L590.8,925.6 L591.5,929.9 L592.1,934.4 L592.8,938.9 L593.5,943.5 L594.2,948.2 L594.9,953.0 L595.6,957.9 L596.2,963.0 L596.9,968.1 L597.6,973.3 L598.3,978.7 L599.0,984.2 L599.6,989.8 L600.3,995.5 L601.0,1001.3" fill="none" stroke="#5c1420" stroke-width="4" stroke-linejoin="round"/>
<path d="M397.3,767.6 L398.0,767.6 L398.6,767.7 L399.3,767.7 L400.0,767.7 L400.7,767.7 L401.4,767.7 L402.0,767.8 L402.7,767.8 L403.4,767.8 L404.1,767.8 L404.8,767.9 L405.5,767.9 L406.1,767.9 L406.8,767.9 L407.5,767.9 L408.2,768.0 L408.9,768.0 L409.5,768.0 L410.2,768.0 L410.9,768.1 L411.6,768.1 L412.3,768.1 L413.0,768.2 L413.6,768.2 L414.3,768.2 L415.0,768.2 L415.7,768.3 L416.4,768.3 L417.0,768.3 L417.7,768.4 L418.4,768.4 L419.1,768.4 L419.8,768.5 L420.4,768.5 L421.1,768.5 L421.8,768.6 L422.5,768.6 L423.2,768.6 L423.9,768.7 L424.5,768.7 L425.2,768.7 L425.9,768.8 L426.6,768.8 L427.3,768.9 L427.9,768.9 L428.6,768.9 L429.3,769.0 L430.0,769.0 L430.7,769.1 L431.3,769.1 L432.0,769.1 L432.7,769.2 L433.4,769.2 L434.1,769.3 L434.8,769.3 L435.4,769.4 L436.1,769.4 L436.8,769.5 L437.5,769.5 L438.2,769.6 L438.8,769.6 L439.5,769.7 L440.2,769.7 L440.9,769.8 L441.6,769.9 L442.2,769.9 L442.9,770.0 L443.6,770.0 L444.3,770.1 L445.0,770.1 L445.7,770.2 L446.3,770.3 L447.0,770.3 L447.7,770.4 L448.4,770.5 L449.1,770.5 L449.7,770.6 L450.4,770.7 L451.1,770.7 L451.8,770.8 L452.5,770.9 L453.2,771.0 L453.8,771.0 L454.5,771.1 L455.2,771.2 L455.9,771.3 L456.6,771.4 L457.2,771.4 L457.9,771.5 L458.6,771.6 L459.3,771.7 L460.0,771.8 L460.6,771.9 L461.3,772.0 L462.0,772.1 L462.7,772.2 L463.4,772.3 L464.1,772.4 L464.7,772.4 L465.4,772.6 L466.1,772.7 L466.8,772.8 L467.5,772.9 L468.1,773.0 L468.8,773.1 L469.5,773.2 L470.2,773.3 L470.9,773.4 L471.5,773.5 L472.2,773.7 L472.9,773.8 L473.6,773.9 L474.3,774.0 L475.0,774.2 L475.6,774.3 L476.3,774.4 L477.0,774.6 L477.7,774.7 L478.4,774.8 L479.0,775.0 L479.7,775.1 L480.4,775.3 L481.1,775.4 L481.8,775.6 L482.4,775.7 L483.1,775.9 L483.8,776.1 L484.5,776.2 L485.2,776.4 L485.9,776.6 L486.5,776.7 L487.2,776.9 L487.9,777.1 L488.6,777.3 L489.3,777.4 L489.9,777.6 L490.6,777.8 L491.3,778.0 L492.0,778.2 L492.7,778.4 L493.4,778.6 L494.0,778.8 L494.7,779.0 L495.4,779.3 L496.1,779.5 L496.8,779.7 L497.4,779.9 L498.1,780.2 L498.8,780.4 L499.5,780.6 L500.2,780.9 L500.8,781.1 L501.5,781.4 L502.2,781.6 L502.9,781.9 L503.6,782.2 L504.3,782.4 L504.9,782.7 L505.6,783.0 L506.3,783.3 L507.0,783.5 L507.7,783.8 L508.3,784.1 L509.0,784.4 L509.7,784.8 L510.4,785.1 L511.1,785.4 L511.7,785.7 L512.4,786.0 L513.1,786.4 L513.8,786.7 L514.5,787.1 L515.2,787.4 L515.8,787.8 L516.5,788.2 L517.2,788.5 L517.9,788.9 L518.6,789.3 L519.2,789.7 L519.9,790.1 L520.6,790.5 L521.3,790.9 L522.0,791.4 L522.6,791.8 L523.3,792.2 L524.0,792.7 L524.7,793.1 L525.4,793.6 L526.1,794.1 L526.7,794.5 L527.4,795.0 L528.1,795.5 L528.8,796.0 L529.5,796.6 L530.1,797.1 L530.8,797.6 L531.5,798.2 L532.2,798.7 L532.9,799.3 L533.6,799.9 L534.2,800.4 L534.9,801.0 L535.6,801.6 L536.3,802.3 L537.0,802.9 L537.6,803.5 L538.3,804.2 L539.0,804.8 L539.7,805.5 L540.4,806.2 L541.0,806.9 L541.7,807.6 L542.4,808.3 L543.1,809.1 L543.8,809.8 L544.5,810.6 L545.1,811.4 L545.8,812.2 L546.5,813.0 L547.2,813.8 L547.9,814.6 L548.5,815.5 L549.2,816.4 L549.9,817.3 L550.6,818.2 L551.3,819.1 L551.9,820.0 L552.6,821.0 L553.3,821.9 L554.0,822.9 L554.7,824.0 L555.4,825.0 L556.0,826.0 L556.7,827.1 L557.4,828.2 L558.1,829.3 L558.8,830.4 L559.4,831.6 L560.1,832.8 L560.8,834.0 L561.5,835.2 L562.2,836.4 L562.8,837.7 L563.5,839.0 L564.2,840.3 L564.9,841.7 L565.6,843.0 L566.3,844.4 L566.9,845.9 L567.6,847.3 L568.3,848.8 L569.0,850.3 L569.7,851.9 L570.3,853.5 L571.0,855.1 L571.7,856.7 L572.4,858.4 L573.1,860.1 L573.8,861.8 L574.4,863.6 L575.1,865.4 L575.8,867.3 L576.5,869.1 L577.2,871.1 L577.8,873.0 L578.5,875.0 L579.2,877.1 L579.9,879.2 L580.6,881.3 L581.2,883.5 L581.9,885.7 L582.6,888.0 L583.3,890.3 L584.0,892.7 L584.7,895.2 L585.3,897.6 L586.0,900.2 L586.7,902.8 L587.4,905.4 L588.1,908.1 L588.7,910.9 L589.4,913.7 L590.1,916.6 L590.8,919.6 L591.5,922.6 L592.1,925.7 L592.8,928.9 L593.5,932.1 L594.2,935.4 L594.9,938.8 L595.6,942.3 L596.2,945.8 L596.9,949.5 L597.6,953.2 L598.3,957.0 L599.0,961.0 L599.6,965.0 L600.3,969.1 L601.0,973.3" fill="none" stroke="#55b1aa" stroke-width="4" stroke-linejoin="round"/>
</g>
<rect x="401.5" y="716.8" width="196.8" height="209.2" fill="none" stroke="#000" stroke-width="3"/>
<line x1="432.8" y1="926" x2="432.8" y2="918.4" stroke="#000" stroke-width="3"/><line x1="432.8" y1="716.8" x2="432.8" y2="724.4" stroke="#000" stroke-width="3"/><line x1="455.2" y1="926" x2="455.2" y2="918.4" stroke="#000" stroke-width="3"/><line x1="455.2" y1="716.8" x2="455.2" y2="724.4" stroke="#000" stroke-width="3"/><line x1="472.6" y1="926" x2="472.6" y2="918.4" stroke="#000" stroke-width="3"/><line x1="472.6" y1="716.8" x2="472.6" y2="724.4" stroke="#000" stroke-width="3"/><line x1="486.8" y1="926" x2="486.8" y2="918.4" stroke="#000" stroke-width="3"/><line x1="486.8" y1="716.8" x2="486.8" y2="724.4" stroke="#000" stroke-width="3"/><line x1="498.8" y1="926" x2="498.8" y2="918.4" stroke="#000" stroke-width="3"/><line x1="498.8" y1="716.8" x2="498.8" y2="724.4" stroke="#000" stroke-width="3"/><line x1="509.2" y1="926" x2="509.2" y2="918.4" stroke="#000" stroke-width="3"/><line x1="509.2" y1="716.8" x2="509.2" y2="724.4" stroke="#000" stroke-width="3"/><line x1="518.4" y1="926" x2="518.4" y2="918.4" stroke="#000" stroke-width="3"/><line x1="518.4" y1="716.8" x2="518.4" y2="724.4" stroke="#000" stroke-width="3"/><line x1="580.6" y1="926" x2="580.6" y2="918.4" stroke="#000" stroke-width="3"/><line x1="580.6" y1="716.8" x2="580.6" y2="724.4" stroke="#000" stroke-width="3"/><line x1="526.6" y1="926" x2="526.6" y2="910.5" stroke="#000" stroke-width="3"/><line x1="526.6" y1="716.8" x2="526.6" y2="732.3" stroke="#000" stroke-width="3"/><line x1="401.5" y1="722.3" x2="408.9" y2="722.3" stroke="#000" stroke-width="3"/><line x1="598.3" y1="722.3" x2="590.9" y2="722.3" stroke="#000" stroke-width="3"/><line x1="401.5" y1="733.6" x2="408.9" y2="733.6" stroke="#000" stroke-width="3"/><line x1="598.3" y1="733.6" x2="590.9" y2="733.6" stroke="#000" stroke-width="3"/><line x1="401.5" y1="745.1" x2="408.9" y2="745.1" stroke="#000" stroke-width="3"/><line x1="598.3" y1="745.1" x2="590.9" y2="745.1" stroke="#000" stroke-width="3"/><line x1="401.5" y1="756.6" x2="408.9" y2="756.6" stroke="#000" stroke-width="3"/><line x1="598.3" y1="756.6" x2="590.9" y2="756.6" stroke="#000" stroke-width="3"/><line x1="401.5" y1="767.9" x2="416.9" y2="767.9" stroke="#000" stroke-width="3"/><line x1="598.3" y1="767.9" x2="582.9" y2="767.9" stroke="#000" stroke-width="3"/><line x1="401.5" y1="781.6" x2="408.9" y2="781.6" stroke="#000" stroke-width="3"/><line x1="598.3" y1="781.6" x2="590.9" y2="781.6" stroke="#000" stroke-width="3"/><line x1="401.5" y1="794.2" x2="408.9" y2="794.2" stroke="#000" stroke-width="3"/><line x1="598.3" y1="794.2" x2="590.9" y2="794.2" stroke="#000" stroke-width="3"/><line x1="401.5" y1="807.3" x2="408.9" y2="807.3" stroke="#000" stroke-width="3"/><line x1="598.3" y1="807.3" x2="590.9" y2="807.3" stroke="#000" stroke-width="3"/><line x1="401.5" y1="820.4" x2="408.9" y2="820.4" stroke="#000" stroke-width="3"/><line x1="598.3" y1="820.4" x2="590.9" y2="820.4" stroke="#000" stroke-width="3"/><line x1="401.5" y1="833.6" x2="408.9" y2="833.6" stroke="#000" stroke-width="3"/><line x1="598.3" y1="833.6" x2="590.9" y2="833.6" stroke="#000" stroke-width="3"/><line x1="401.5" y1="847.8" x2="408.9" y2="847.8" stroke="#000" stroke-width="3"/><line x1="598.3" y1="847.8" x2="590.9" y2="847.8" stroke="#000" stroke-width="3"/><line x1="401.5" y1="861.9" x2="408.9" y2="861.9" stroke="#000" stroke-width="3"/><line x1="598.3" y1="861.9" x2="590.9" y2="861.9" stroke="#000" stroke-width="3"/><line x1="401.5" y1="876.4" x2="408.9" y2="876.4" stroke="#000" stroke-width="3"/><line x1="598.3" y1="876.4" x2="590.9" y2="876.4" stroke="#000" stroke-width="3"/><line x1="401.5" y1="891.5" x2="416.9" y2="891.5" stroke="#000" stroke-width="3"/><line x1="598.3" y1="891.5" x2="582.9" y2="891.5" stroke="#000" stroke-width="3"/><line x1="401.5" y1="907.3" x2="408.9" y2="907.3" stroke="#000" stroke-width="3"/><line x1="598.3" y1="907.3" x2="590.9" y2="907.3" stroke="#000" stroke-width="3"/><line x1="401.5" y1="923.2" x2="408.9" y2="923.2" stroke="#000" stroke-width="3"/><line x1="598.3" y1="923.2" x2="590.9" y2="923.2" stroke="#000" stroke-width="3"/>
<g clip-path="url(#cd)">
<line x1="933.1" y1="987.3" x2="933.1" y2="1039.7" stroke="#3a7cb8" stroke-width="6.2" stroke-linecap="round"/><path d="M933.1,1004.2 L943.6,1019.7 L922.6,1019.7 Z" fill="#3a7cb8"/><line x1="944.7" y1="1041.9" x2="944.7" y2="1092.9" stroke="#3a7cb8" stroke-width="6.2" stroke-linecap="round"/><path d="M944.7,1058.1 L955.2,1073.6 L934.2,1073.6 Z" fill="#3a7cb8"/><line x1="952.8" y1="1037.4" x2="952.8" y2="1088.2" stroke="#3a7cb8" stroke-width="6.2" stroke-linecap="round"/><path d="M952.8,1053.5 L963.3,1069.0 L942.3,1069.0 Z" fill="#3a7cb8"/><line x1="961.8" y1="1045.7" x2="961.8" y2="1096.5" stroke="#3a7cb8" stroke-width="6.2" stroke-linecap="round"/><path d="M961.8,1061.8 L972.3,1077.3 L951.3,1077.3 Z" fill="#3a7cb8"/><line x1="970.7" y1="1090.5" x2="970.7" y2="1141.3" stroke="#3a7cb8" stroke-width="6.2" stroke-linecap="round"/><path d="M970.7,1106.6 L981.2,1122.1 L960.2,1122.1 Z" fill="#3a7cb8"/><line x1="978.9" y1="1076.9" x2="978.9" y2="1127.7" stroke="#3a7cb8" stroke-width="6.2" stroke-linecap="round"/><path d="M978.9,1093.0 L989.4,1108.5 L968.4,1108.5 Z" fill="#3a7cb8"/><line x1="987.5" y1="1040.4" x2="987.5" y2="1091.2" stroke="#3a7cb8" stroke-width="6.2" stroke-linecap="round"/><path d="M987.5,1056.5 L998.0,1072.0 L977.0,1072.0 Z" fill="#3a7cb8"/><line x1="997.0" y1="1039.0" x2="997.0" y2="1087.4" stroke="#3a7cb8" stroke-width="6.2" stroke-linecap="round"/><path d="M997.0,1053.9 L1007.5,1069.4 L986.5,1069.4 Z" fill="#3a7cb8"/><line x1="1013.6" y1="1028.4" x2="1013.6" y2="1076.8" stroke="#3a7cb8" stroke-width="6.2" stroke-linecap="round"/><path d="M1013.6,1043.3 L1024.1,1058.8 L1003.1,1058.8 Z" fill="#3a7cb8"/><line x1="1031.0" y1="988.2" x2="1031.0" y2="1036.6" stroke="#3a7cb8" stroke-width="6.2" stroke-linecap="round"/><path d="M1031.0,1003.1 L1041.5,1018.6 L1020.5,1018.6 Z" fill="#3a7cb8"/><line x1="1048.4" y1="981.2" x2="1048.4" y2="1028.2" stroke="#3a7cb8" stroke-width="6.2" stroke-linecap="round"/><path d="M1048.4,995.4 L1058.9,1010.9 L1037.9,1010.9 Z" fill="#3a7cb8"/><line x1="1057.6" y1="940.5" x2="1057.6" y2="984.7" stroke="#3a7cb8" stroke-width="6.2" stroke-linecap="round"/><path d="M1057.6,953.3 L1068.1,968.8 L1047.1,968.8 Z" fill="#3a7cb8"/><line x1="1070.1" y1="961.5" x2="1070.1" y2="1004.3" stroke="#3a7cb8" stroke-width="6.2" stroke-linecap="round"/><path d="M1070.1,973.6 L1080.6,989.1 L1059.6,989.1 Z" fill="#3a7cb8"/><line x1="1083.1" y1="939.0" x2="1083.1" y2="980.2" stroke="#3a7cb8" stroke-width="6.2" stroke-linecap="round"/><path d="M1083.1,950.3 L1093.6,965.8 L1072.6,965.8 Z" fill="#3a7cb8"/><line x1="1101.4" y1="924.3" x2="1101.4" y2="962.3" stroke="#3a7cb8" stroke-width="6.2" stroke-linecap="round"/><path d="M1101.4,934.0 L1111.9,949.5 L1090.9,949.5 Z" fill="#3a7cb8"/><line x1="1118.8" y1="946.9" x2="1118.8" y2="982.5" stroke="#3a7cb8" stroke-width="6.2" stroke-linecap="round"/><path d="M1118.8,955.4 L1129.3,970.9 L1108.3,970.9 Z" fill="#3a7cb8"/><line x1="1135.3" y1="901.8" x2="1135.3" y2="931.2" stroke="#3a7cb8" stroke-width="6.2" stroke-linecap="round"/><path d="M1135.3,907.2 L1145.8,922.7 L1124.8,922.7 Z" fill="#3a7cb8"/><line x1="1152.7" y1="879.3" x2="1152.7" y2="909.5" stroke="#3a7cb8" stroke-width="6.2" stroke-linecap="round"/><path d="M1152.7,885.1 L1163.2,900.6 L1142.2,900.6 Z" fill="#3a7cb8"/><line x1="1170.9" y1="859.0" x2="1170.9" y2="884.6" stroke="#3a7cb8" stroke-width="6.2" stroke-linecap="round"/><path d="M1170.9,862.5 L1181.4,878.0 L1160.4,878.0 Z" fill="#3a7cb8"/><line x1="1187.4" y1="835.6" x2="1187.4" y2="859.6" stroke="#3a7cb8" stroke-width="6.2" stroke-linecap="round"/><path d="M1187.4,838.3 L1197.9,853.8 L1176.9,853.8 Z" fill="#3a7cb8"/><line x1="1204.8" y1="817.1" x2="1204.8" y2="839.5" stroke="#3a7cb8" stroke-width="6.2" stroke-linecap="round"/><path d="M1204.8,819.0 L1215.3,834.5 L1194.3,834.5 Z" fill="#3a7cb8"/><line x1="1222.2" y1="817.8" x2="1222.2" y2="839.4" stroke="#3a7cb8" stroke-width="6.2" stroke-linecap="round"/><path d="M1222.2,819.3 L1232.7,834.8 L1211.7,834.8 Z" fill="#3a7cb8"/><line x1="1257.8" y1="743.0" x2="1257.8" y2="767.2" stroke="#3a7cb8" stroke-width="6.2" stroke-linecap="round"/><path d="M1257.8,745.8 L1268.3,761.3 L1247.3,761.3 Z" fill="#3a7cb8"/><line x1="1344.7" y1="718.6" x2="1344.7" y2="804.0" stroke="#3a7cb8" stroke-width="6.2" stroke-linecap="round"/><path d="M1344.7,752.0 L1355.2,767.5 L1334.2,767.5 Z" fill="#3a7cb8"/>
</g>
<g style="font-family:'Liberation Sans',sans-serif" fill="#000">
<text x="10.0" y="38.5" text-anchor="start" font-size="38" font-weight="bold">a</text>
<text x="818.0" y="39.9" text-anchor="start" font-size="38" font-weight="bold">b</text>
<text x="13.0" y="710.2" text-anchor="start" font-size="38" font-weight="bold">c</text>
<text x="816.0" y="716.0" text-anchor="start" font-size="38" font-weight="bold">d</text>
<text x="122.0" y="36.9" text-anchor="end" font-size="38" >0.2</text>
<text x="122.0" y="155.5" text-anchor="end" font-size="38" >0.1</text>
<text x="122.0" y="274.1" text-anchor="end" font-size="38" >0.0</text>
<text x="122.0" y="392.7" text-anchor="end" font-size="38" >−0.1</text>
<text x="122.0" y="511.3" text-anchor="end" font-size="38" >−0.2</text>
<text x="128.0" y="564.0" text-anchor="middle" font-size="38" >0</text>
<text x="258.3" y="564.0" text-anchor="middle" font-size="38" >2</text>
<text x="388.6" y="564.0" text-anchor="middle" font-size="38" >4</text>
<text x="519.0" y="564.0" text-anchor="middle" font-size="38" >6</text>
<text x="649.3" y="564.0" text-anchor="middle" font-size="38" >8</text>
<text x="388.5" y="611.2" text-anchor="middle" font-size="38" >Time (µs)</text>
<text transform="translate(37.8,261.5) rotate(-90)" text-anchor="middle" font-size="38"><tspan font-style="italic">A</tspan><tspan font-size="30" dy="8">TF</tspan><tspan dy="-8"> (arb. units)</tspan></text>
<text x="1019.5" y="565.0" text-anchor="middle" font-size="38" >5</text>
<text x="1156.7" y="565.0" text-anchor="middle" font-size="38" >10</text>
<text x="1293.8" y="565.0" text-anchor="middle" font-size="38" >15</text>
<text x="1431.0" y="565.0" text-anchor="middle" font-size="38" >20</text>
<text x="1171" y="613.8" text-anchor="middle" font-size="38">µ<tspan font-size="30" dy="9">0</tspan><tspan dy="-9" font-style="italic">H</tspan> (mT)</text>
<text transform="translate(864.3,260.8) rotate(-90)" text-anchor="middle" font-size="38">FFT (arb. units)</text>
<text x="112.0" y="1211.8" text-anchor="end" font-size="38" >0.0</text>
<text x="112.0" y="1038.4" text-anchor="end" font-size="38" >0.4</text>
<text x="112.0" y="864.9" text-anchor="end" font-size="38" >0.8</text>
<text x="112.0" y="691.5" text-anchor="end" font-size="38" >1.2</text>
<text x="128.0" y="1241.5" text-anchor="middle" font-size="38" >0</text>
<text x="301.7" y="1241.5" text-anchor="middle" font-size="38" >2</text>
<text x="475.4" y="1241.5" text-anchor="middle" font-size="38" >4</text>
<text x="649.1" y="1241.5" text-anchor="middle" font-size="38" >6</text>
<text x="657.0" y="1212.2" text-anchor="start" font-size="38" >0</text>
<text x="657.0" y="975.3" text-anchor="start" font-size="38" >5</text>
<text x="657.0" y="738.4" text-anchor="start" font-size="38" >10</text>
<text x="390" y="1273" text-anchor="middle" font-size="38"><tspan font-style="italic">T</tspan> (K)</text>
<text transform="translate(33.5,939) rotate(-90)" text-anchor="middle" font-size="38">σ<tspan font-size="30" dy="8">sc</tspan><tspan dy="-8"> (µs</tspan><tspan font-size="26" dy="-14">-1</tspan><tspan dy="14">)</tspan></text>
<text transform="translate(727.8,939) rotate(-90)" text-anchor="middle" font-size="38">λ<tspan font-size="26" dy="-14">-2</tspan><tspan dy="14"> (µm</tspan><tspan font-size="26" dy="-14">-2</tspan><tspan dy="14">)</tspan></text>
<text x="210.3" y="1113.0" text-anchor="start" font-size="38" >nodeless</text>
<text x="210.8" y="1158.5" text-anchor="start" font-size="38" >dirty-d</text>
<text x="603.0" y="780.6" text-anchor="start" font-size="38" >10</text>
<text x="602.0" y="903.0" text-anchor="start" font-size="38" >8</text>
<text x="527.0" y="960.7" text-anchor="middle" font-size="38" >1</text>
<text x="904.0" y="1124.9" text-anchor="end" font-size="38" >9.4</text>
<text x="904.0" y="951.7" text-anchor="end" font-size="38" >9.6</text>
<text x="904.0" y="778.5" text-anchor="end" font-size="38" >9.8</text>
<text x="910.2" y="1238.6" text-anchor="middle" font-size="38" >0</text>
<text x="1084.0" y="1238.6" text-anchor="middle" font-size="38" >2</text>
<text x="1257.8" y="1238.6" text-anchor="middle" font-size="38" >4</text>
<text x="1431.6" y="1238.6" text-anchor="middle" font-size="38" >6</text>
<text x="1172" y="1273" text-anchor="middle" font-size="38"><tspan font-style="italic">T</tspan> (K)</text>
<text transform="translate(825,939) rotate(-90)" text-anchor="middle" font-size="38">µ<tspan font-size="30" dy="9">0</tspan><tspan dy="-9" font-style="italic">H</tspan> (mT)</text>
<text x="928" y="803" text-anchor="start" font-size="38" textLength="267" lengthAdjust="spacing">µ<tspan font-size="26" dy="10">0</tspan><tspan dy="-10" font-style="italic">H</tspan><tspan font-size="26" dy="10">int</tspan><tspan dy="-10"> = 9.81 mT</tspan></text>
</g>
</svg></body></html>
